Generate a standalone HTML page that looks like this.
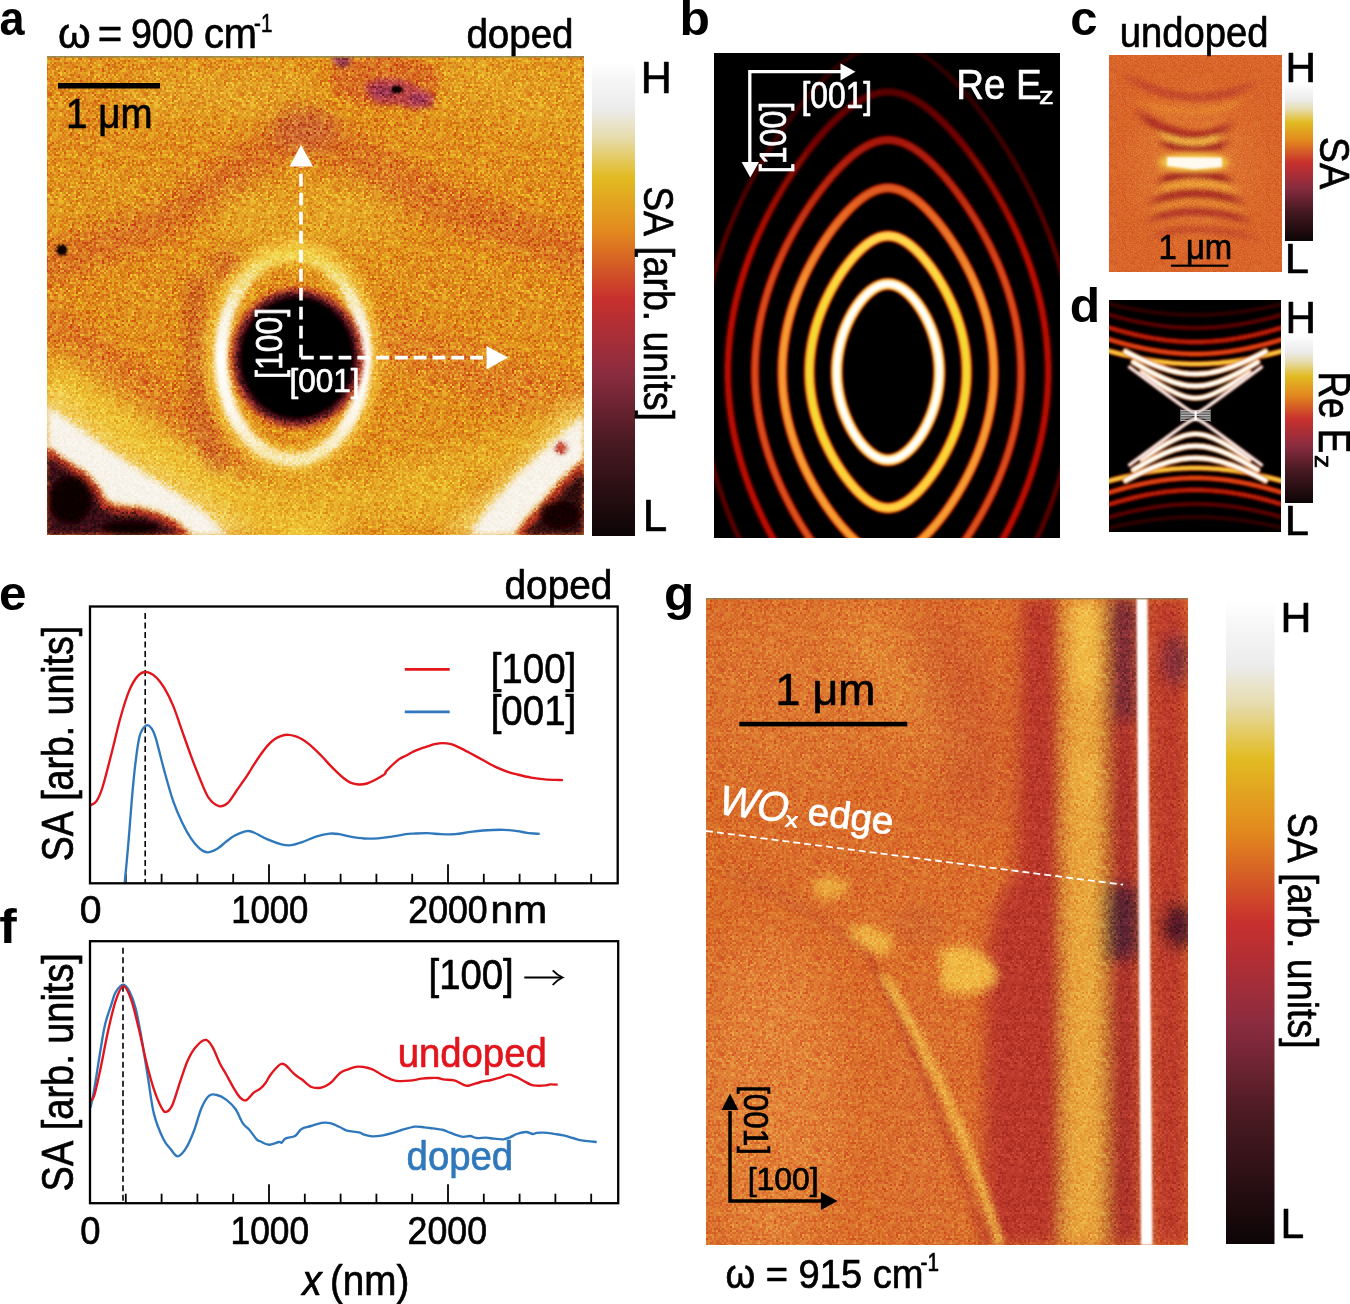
<!DOCTYPE html>
<html><head><meta charset="utf-8"><title>Figure</title>
<style>
html,body{margin:0;padding:0;background:#fff;}
body{width:1350px;height:1304px;overflow:hidden;}
svg{display:block;}
text{font-family:"Liberation Sans",sans-serif;font-kerning:none;}
</style></head><body>
<svg width="1350" height="1304" viewBox="0 0 1350 1304">
<defs>

<linearGradient id="cm" x1="0" y1="0" x2="0" y2="1"><stop offset="0.000" stop-color="#ffffff"/><stop offset="0.040" stop-color="#f6f6f6"/><stop offset="0.100" stop-color="#ececec"/><stop offset="0.160" stop-color="#e6dcae"/><stop offset="0.245" stop-color="#e2bb22"/><stop offset="0.360" stop-color="#e2881e"/><stop offset="0.500" stop-color="#c8302e"/><stop offset="0.660" stop-color="#8a2c40"/><stop offset="0.800" stop-color="#4a1a22"/><stop offset="1.000" stop-color="#0c0506"/></linearGradient>
<filter id="b1" x="-20%" y="-20%" width="140%" height="140%"><feGaussianBlur stdDeviation="1"/></filter>
<filter id="b2" x="-20%" y="-20%" width="140%" height="140%"><feGaussianBlur stdDeviation="2"/></filter>
<filter id="b3" x="-30%" y="-30%" width="160%" height="160%"><feGaussianBlur stdDeviation="3"/></filter>
<filter id="b5" x="-30%" y="-30%" width="160%" height="160%"><feGaussianBlur stdDeviation="5"/></filter>
<filter id="b8" x="-40%" y="-40%" width="180%" height="180%"><feGaussianBlur stdDeviation="8"/></filter>
<filter id="b12" x="-50%" y="-50%" width="200%" height="200%"><feGaussianBlur stdDeviation="12"/></filter>
<filter id="b20" x="-50%" y="-50%" width="200%" height="200%"><feGaussianBlur stdDeviation="20"/></filter>
<filter id="nz" x="0" y="0" width="100%" height="100%" color-interpolation-filters="sRGB">
<feTurbulence type="fractalNoise" baseFrequency="0.45" numOctaves="2" seed="11"/>
<feColorMatrix type="matrix" values="2.4 0 0 0 -0.7  2.4 0 0 0 -0.7  2.4 0 0 0 -0.7  0 0 0 0 1"/>
</filter>
<pattern id="np1" x="0" y="0" width="96.000" height="96.000" patternUnits="userSpaceOnUse"><path fill="#000000" d="M6 0h2v2h-2zM10 0h2v2h-2zM78 0h2v2h-2zM26 2h2v2h-2zM66 2h2v2h-2zM2 4h2v2h-2zM38 4h2v2h-2zM76 4h2v2h-2zM94 4h2v2h-2zM54 6h2v2h-2zM76 8h2v2h-2zM70 10h2v2h-2zM32 12h2v2h-2zM52 12h2v2h-2zM30 14h2v2h-2zM88 14h2v2h-2zM24 18h2v2h-2zM72 18h2v2h-2zM0 20h2v2h-2zM22 20h2v2h-2zM40 20h2v2h-2zM22 22h2v2h-2zM94 22h2v2h-2zM38 24h2v2h-2zM86 24h2v2h-2zM88 24h2v2h-2zM12 26h2v2h-2zM4 28h2v2h-2zM10 28h2v2h-2zM86 30h2v2h-2zM26 32h2v2h-2zM36 32h2v2h-2zM38 32h2v2h-2zM72 32h2v2h-2zM94 32h2v2h-2zM18 36h2v2h-2zM20 36h2v2h-2zM26 36h2v2h-2zM32 36h2v2h-2zM70 36h2v2h-2zM20 38h2v2h-2zM70 38h2v2h-2zM78 38h2v2h-2zM76 42h2v2h-2zM2 44h2v2h-2zM20 46h2v2h-2zM28 46h2v2h-2zM52 46h2v2h-2zM54 52h2v2h-2zM20 54h2v2h-2zM64 56h2v2h-2zM4 58h2v2h-2zM32 60h2v2h-2zM12 64h2v2h-2zM36 64h2v2h-2zM26 66h2v2h-2zM76 66h2v2h-2zM90 66h2v2h-2zM6 68h2v2h-2zM24 68h2v2h-2zM46 68h2v2h-2zM80 68h2v2h-2zM6 70h2v2h-2zM64 70h2v2h-2zM58 74h2v2h-2zM42 76h2v2h-2zM78 76h2v2h-2zM46 78h2v2h-2zM80 80h2v2h-2zM32 82h2v2h-2zM34 86h2v2h-2zM84 86h2v2h-2zM86 86h2v2h-2zM92 86h2v2h-2zM8 88h2v2h-2zM62 92h2v2h-2zM92 92h2v2h-2zM50 94h2v2h-2zM60 94h2v2h-2zM94 94h2v2h-2z"/><path fill="#202020" d="M68 0h2v2h-2zM56 2h2v2h-2zM76 2h2v2h-2zM78 2h2v2h-2zM16 4h2v2h-2zM64 4h2v2h-2zM6 6h2v2h-2zM10 6h2v2h-2zM22 6h2v2h-2zM40 6h2v2h-2zM46 6h2v2h-2zM82 6h2v2h-2zM12 8h2v2h-2zM86 8h2v2h-2zM20 10h2v2h-2zM22 10h2v2h-2zM26 12h2v2h-2zM50 12h2v2h-2zM10 14h2v2h-2zM28 14h2v2h-2zM60 14h2v2h-2zM92 14h2v2h-2zM22 16h2v2h-2zM64 18h2v2h-2zM70 18h2v2h-2zM14 20h2v2h-2zM86 22h2v2h-2zM88 22h2v2h-2zM92 22h2v2h-2zM2 24h2v2h-2zM52 24h2v2h-2zM70 26h2v2h-2zM80 26h2v2h-2zM0 28h2v2h-2zM14 28h2v2h-2zM16 28h2v2h-2zM36 28h2v2h-2zM54 28h2v2h-2zM62 28h2v2h-2zM66 28h2v2h-2zM90 28h2v2h-2zM20 30h2v2h-2zM22 30h2v2h-2zM38 30h2v2h-2zM78 30h2v2h-2zM92 30h2v2h-2zM94 30h2v2h-2zM30 32h2v2h-2zM54 32h2v2h-2zM82 32h2v2h-2zM4 34h2v2h-2zM40 34h2v2h-2zM88 34h2v2h-2zM12 36h2v2h-2zM36 38h2v2h-2zM48 38h2v2h-2zM92 38h2v2h-2zM8 40h2v2h-2zM90 40h2v2h-2zM12 42h2v2h-2zM70 46h2v2h-2zM78 46h2v2h-2zM92 46h2v2h-2zM94 46h2v2h-2zM30 48h2v2h-2zM50 48h2v2h-2zM64 48h2v2h-2zM78 48h2v2h-2zM90 48h2v2h-2zM44 50h2v2h-2zM48 50h2v2h-2zM82 50h2v2h-2zM84 50h2v2h-2zM86 50h2v2h-2zM48 52h2v2h-2zM58 52h2v2h-2zM62 52h2v2h-2zM86 52h2v2h-2zM4 56h2v2h-2zM6 56h2v2h-2zM88 56h2v2h-2zM54 58h2v2h-2zM56 58h2v2h-2zM58 58h2v2h-2zM80 58h2v2h-2zM90 58h2v2h-2zM28 60h2v2h-2zM18 62h2v2h-2zM22 62h2v2h-2zM54 62h2v2h-2zM64 62h2v2h-2zM66 62h2v2h-2zM10 64h2v2h-2zM52 64h2v2h-2zM18 66h2v2h-2zM32 66h2v2h-2zM54 66h2v2h-2zM74 66h2v2h-2zM36 68h2v2h-2zM42 68h2v2h-2zM58 70h2v2h-2zM12 72h2v2h-2zM90 72h2v2h-2zM92 72h2v2h-2zM30 74h2v2h-2zM70 74h2v2h-2zM10 76h2v2h-2zM50 76h2v2h-2zM58 78h2v2h-2zM64 78h2v2h-2zM86 78h2v2h-2zM32 80h2v2h-2zM34 80h2v2h-2zM24 82h2v2h-2zM26 84h2v2h-2zM32 84h2v2h-2zM52 84h2v2h-2zM78 86h2v2h-2zM82 86h2v2h-2zM64 88h2v2h-2zM68 88h2v2h-2zM14 90h2v2h-2zM48 92h2v2h-2zM50 92h2v2h-2zM78 92h2v2h-2zM6 94h2v2h-2zM48 94h2v2h-2zM80 94h2v2h-2z"/><path fill="#404040" d="M0 0h2v2h-2zM2 0h2v2h-2zM28 0h2v2h-2zM76 0h2v2h-2zM10 2h2v2h-2zM32 2h2v2h-2zM50 2h2v2h-2zM80 2h2v2h-2zM84 2h2v2h-2zM0 4h2v2h-2zM18 4h2v2h-2zM20 4h2v2h-2zM40 4h2v2h-2zM42 4h2v2h-2zM68 4h2v2h-2zM84 4h2v2h-2zM0 6h2v2h-2zM8 6h2v2h-2zM12 6h2v2h-2zM30 6h2v2h-2zM44 6h2v2h-2zM48 6h2v2h-2zM56 6h2v2h-2zM62 6h2v2h-2zM68 6h2v2h-2zM90 6h2v2h-2zM94 6h2v2h-2zM0 8h2v2h-2zM2 8h2v2h-2zM4 8h2v2h-2zM6 8h2v2h-2zM40 8h2v2h-2zM44 8h2v2h-2zM46 8h2v2h-2zM72 8h2v2h-2zM78 8h2v2h-2zM82 8h2v2h-2zM92 8h2v2h-2zM92 10h2v2h-2zM0 12h2v2h-2zM2 12h2v2h-2zM10 12h2v2h-2zM12 12h2v2h-2zM20 12h2v2h-2zM38 12h2v2h-2zM44 12h2v2h-2zM74 12h2v2h-2zM84 12h2v2h-2zM88 12h2v2h-2zM68 14h2v2h-2zM72 14h2v2h-2zM38 16h2v2h-2zM40 16h2v2h-2zM86 16h2v2h-2zM90 16h2v2h-2zM94 16h2v2h-2zM0 18h2v2h-2zM6 18h2v2h-2zM8 20h2v2h-2zM20 20h2v2h-2zM26 20h2v2h-2zM42 20h2v2h-2zM44 20h2v2h-2zM84 20h2v2h-2zM12 22h2v2h-2zM16 22h2v2h-2zM42 22h2v2h-2zM52 22h2v2h-2zM78 22h2v2h-2zM82 22h2v2h-2zM26 24h2v2h-2zM44 24h2v2h-2zM54 24h2v2h-2zM66 24h2v2h-2zM80 24h2v2h-2zM2 26h2v2h-2zM24 26h2v2h-2zM42 26h2v2h-2zM50 26h2v2h-2zM66 26h2v2h-2zM68 26h2v2h-2zM72 26h2v2h-2zM74 26h2v2h-2zM20 28h2v2h-2zM26 28h2v2h-2zM38 28h2v2h-2zM42 28h2v2h-2zM88 28h2v2h-2zM6 30h2v2h-2zM10 30h2v2h-2zM42 30h2v2h-2zM44 30h2v2h-2zM64 30h2v2h-2zM72 30h2v2h-2zM74 30h2v2h-2zM88 30h2v2h-2zM6 32h2v2h-2zM34 32h2v2h-2zM60 32h2v2h-2zM68 32h2v2h-2zM88 32h2v2h-2zM10 34h2v2h-2zM18 34h2v2h-2zM54 34h2v2h-2zM60 34h2v2h-2zM72 34h2v2h-2zM92 34h2v2h-2zM2 36h2v2h-2zM44 36h2v2h-2zM62 36h2v2h-2zM92 36h2v2h-2zM22 38h2v2h-2zM44 38h2v2h-2zM50 38h2v2h-2zM68 38h2v2h-2zM72 38h2v2h-2zM82 38h2v2h-2zM0 40h2v2h-2zM16 40h2v2h-2zM46 40h2v2h-2zM48 40h2v2h-2zM70 40h2v2h-2zM78 40h2v2h-2zM18 42h2v2h-2zM38 42h2v2h-2zM60 42h2v2h-2zM74 42h2v2h-2zM78 42h2v2h-2zM84 42h2v2h-2zM94 42h2v2h-2zM16 44h2v2h-2zM18 44h2v2h-2zM26 44h2v2h-2zM34 44h2v2h-2zM40 44h2v2h-2zM58 44h2v2h-2zM94 44h2v2h-2zM22 46h2v2h-2zM32 46h2v2h-2zM42 46h2v2h-2zM56 46h2v2h-2zM26 48h2v2h-2zM40 48h2v2h-2zM48 48h2v2h-2zM62 48h2v2h-2zM70 48h2v2h-2zM74 48h2v2h-2zM0 50h2v2h-2zM18 50h2v2h-2zM30 50h2v2h-2zM34 50h2v2h-2zM36 50h2v2h-2zM42 50h2v2h-2zM46 50h2v2h-2zM68 50h2v2h-2zM74 50h2v2h-2zM88 50h2v2h-2zM90 50h2v2h-2zM94 50h2v2h-2zM40 52h2v2h-2zM66 52h2v2h-2zM68 52h2v2h-2zM70 52h2v2h-2zM74 52h2v2h-2zM94 52h2v2h-2zM42 54h2v2h-2zM46 54h2v2h-2zM56 54h2v2h-2zM82 54h2v2h-2zM84 54h2v2h-2zM90 54h2v2h-2zM12 56h2v2h-2zM54 56h2v2h-2zM78 56h2v2h-2zM86 56h2v2h-2zM12 58h2v2h-2zM14 58h2v2h-2zM50 58h2v2h-2zM72 58h2v2h-2zM78 58h2v2h-2zM12 60h2v2h-2zM16 60h2v2h-2zM38 60h2v2h-2zM90 60h2v2h-2zM10 62h2v2h-2zM28 62h2v2h-2zM70 62h2v2h-2zM90 62h2v2h-2zM16 64h2v2h-2zM18 64h2v2h-2zM24 64h2v2h-2zM44 64h2v2h-2zM46 64h2v2h-2zM60 64h2v2h-2zM72 64h2v2h-2zM88 64h2v2h-2zM16 66h2v2h-2zM20 66h2v2h-2zM40 66h2v2h-2zM44 66h2v2h-2zM46 66h2v2h-2zM68 66h2v2h-2zM80 66h2v2h-2zM2 68h2v2h-2zM12 68h2v2h-2zM14 68h2v2h-2zM32 68h2v2h-2zM40 68h2v2h-2zM48 68h2v2h-2zM54 68h2v2h-2zM82 68h2v2h-2zM84 68h2v2h-2zM20 70h2v2h-2zM34 70h2v2h-2zM80 70h2v2h-2zM84 70h2v2h-2zM18 72h2v2h-2zM34 72h2v2h-2zM46 72h2v2h-2zM54 72h2v2h-2zM74 72h2v2h-2zM6 74h2v2h-2zM18 74h2v2h-2zM28 74h2v2h-2zM44 74h2v2h-2zM72 74h2v2h-2zM78 74h2v2h-2zM28 76h2v2h-2zM34 76h2v2h-2zM44 76h2v2h-2zM46 76h2v2h-2zM62 76h2v2h-2zM76 76h2v2h-2zM88 76h2v2h-2zM0 78h2v2h-2zM2 78h2v2h-2zM14 78h2v2h-2zM24 78h2v2h-2zM36 78h2v2h-2zM48 78h2v2h-2zM52 78h2v2h-2zM68 78h2v2h-2zM90 78h2v2h-2zM14 80h2v2h-2zM22 80h2v2h-2zM36 80h2v2h-2zM40 80h2v2h-2zM42 80h2v2h-2zM50 80h2v2h-2zM56 80h2v2h-2zM62 80h2v2h-2zM66 80h2v2h-2zM68 80h2v2h-2zM74 80h2v2h-2zM90 80h2v2h-2zM2 82h2v2h-2zM42 82h2v2h-2zM84 82h2v2h-2zM90 82h2v2h-2zM92 82h2v2h-2zM94 82h2v2h-2zM14 84h2v2h-2zM18 84h2v2h-2zM50 84h2v2h-2zM64 84h2v2h-2zM80 84h2v2h-2zM84 84h2v2h-2zM10 86h2v2h-2zM54 86h2v2h-2zM58 86h2v2h-2zM68 86h2v2h-2zM90 86h2v2h-2zM0 88h2v2h-2zM26 88h2v2h-2zM50 88h2v2h-2zM54 88h2v2h-2zM58 88h2v2h-2zM60 88h2v2h-2zM88 88h2v2h-2zM12 90h2v2h-2zM18 90h2v2h-2zM20 90h2v2h-2zM28 90h2v2h-2zM38 90h2v2h-2zM44 90h2v2h-2zM46 90h2v2h-2zM52 90h2v2h-2zM60 90h2v2h-2zM94 90h2v2h-2zM10 92h2v2h-2zM18 92h2v2h-2zM46 92h2v2h-2zM70 92h2v2h-2zM82 92h2v2h-2zM84 92h2v2h-2zM88 92h2v2h-2zM4 94h2v2h-2zM8 94h2v2h-2zM20 94h2v2h-2zM26 94h2v2h-2zM34 94h2v2h-2zM56 94h2v2h-2zM70 94h2v2h-2zM72 94h2v2h-2zM76 94h2v2h-2z"/><path fill="#606060" d="M18 0h2v2h-2zM22 0h2v2h-2zM24 0h2v2h-2zM30 0h2v2h-2zM36 0h2v2h-2zM42 0h2v2h-2zM46 0h2v2h-2zM48 0h2v2h-2zM50 0h2v2h-2zM64 0h2v2h-2zM70 0h2v2h-2zM82 0h2v2h-2zM84 0h2v2h-2zM92 0h2v2h-2zM4 2h2v2h-2zM12 2h2v2h-2zM18 2h2v2h-2zM52 2h2v2h-2zM58 2h2v2h-2zM12 4h2v2h-2zM34 4h2v2h-2zM36 4h2v2h-2zM52 4h2v2h-2zM72 4h2v2h-2zM82 4h2v2h-2zM24 6h2v2h-2zM28 6h2v2h-2zM66 6h2v2h-2zM78 6h2v2h-2zM80 6h2v2h-2zM86 6h2v2h-2zM92 6h2v2h-2zM24 8h2v2h-2zM68 8h2v2h-2zM70 8h2v2h-2zM88 8h2v2h-2zM94 8h2v2h-2zM2 10h2v2h-2zM4 10h2v2h-2zM6 10h2v2h-2zM16 10h2v2h-2zM18 10h2v2h-2zM24 10h2v2h-2zM38 10h2v2h-2zM40 10h2v2h-2zM42 10h2v2h-2zM48 10h2v2h-2zM64 10h2v2h-2zM76 10h2v2h-2zM82 10h2v2h-2zM94 10h2v2h-2zM6 12h2v2h-2zM16 12h2v2h-2zM48 12h2v2h-2zM56 12h2v2h-2zM62 12h2v2h-2zM64 12h2v2h-2zM72 12h2v2h-2zM76 12h2v2h-2zM82 12h2v2h-2zM2 14h2v2h-2zM18 14h2v2h-2zM22 14h2v2h-2zM26 14h2v2h-2zM34 14h2v2h-2zM36 14h2v2h-2zM44 14h2v2h-2zM62 14h2v2h-2zM66 14h2v2h-2zM74 14h2v2h-2zM78 14h2v2h-2zM94 14h2v2h-2zM8 16h2v2h-2zM18 16h2v2h-2zM20 16h2v2h-2zM32 16h2v2h-2zM34 16h2v2h-2zM54 16h2v2h-2zM66 16h2v2h-2zM68 16h2v2h-2zM70 16h2v2h-2zM76 16h2v2h-2zM78 16h2v2h-2zM80 16h2v2h-2zM2 18h2v2h-2zM18 18h2v2h-2zM28 18h2v2h-2zM30 18h2v2h-2zM32 18h2v2h-2zM40 18h2v2h-2zM46 18h2v2h-2zM68 18h2v2h-2zM80 18h2v2h-2zM86 18h2v2h-2zM4 20h2v2h-2zM24 20h2v2h-2zM54 20h2v2h-2zM64 20h2v2h-2zM2 22h2v2h-2zM6 22h2v2h-2zM20 22h2v2h-2zM24 22h2v2h-2zM30 22h2v2h-2zM62 22h2v2h-2zM68 22h2v2h-2zM72 22h2v2h-2zM8 24h2v2h-2zM40 24h2v2h-2zM42 24h2v2h-2zM58 24h2v2h-2zM60 24h2v2h-2zM64 24h2v2h-2zM70 24h2v2h-2zM78 24h2v2h-2zM90 24h2v2h-2zM92 24h2v2h-2zM94 24h2v2h-2zM16 26h2v2h-2zM26 26h2v2h-2zM30 26h2v2h-2zM32 26h2v2h-2zM44 26h2v2h-2zM62 26h2v2h-2zM92 26h2v2h-2zM12 28h2v2h-2zM18 28h2v2h-2zM24 28h2v2h-2zM46 28h2v2h-2zM50 28h2v2h-2zM58 28h2v2h-2zM60 28h2v2h-2zM74 28h2v2h-2zM84 28h2v2h-2zM94 28h2v2h-2zM0 30h2v2h-2zM4 30h2v2h-2zM14 30h2v2h-2zM16 30h2v2h-2zM30 30h2v2h-2zM50 30h2v2h-2zM52 30h2v2h-2zM66 30h2v2h-2zM76 30h2v2h-2zM48 32h2v2h-2zM52 32h2v2h-2zM62 32h2v2h-2zM0 34h2v2h-2zM64 34h2v2h-2zM82 34h2v2h-2zM84 34h2v2h-2zM40 36h2v2h-2zM50 36h2v2h-2zM72 36h2v2h-2zM74 36h2v2h-2zM12 38h2v2h-2zM14 38h2v2h-2zM16 38h2v2h-2zM34 38h2v2h-2zM64 38h2v2h-2zM76 38h2v2h-2zM6 40h2v2h-2zM10 40h2v2h-2zM28 40h2v2h-2zM36 40h2v2h-2zM42 40h2v2h-2zM58 40h2v2h-2zM62 40h2v2h-2zM84 40h2v2h-2zM86 40h2v2h-2zM92 40h2v2h-2zM94 40h2v2h-2zM26 42h2v2h-2zM30 42h2v2h-2zM42 42h2v2h-2zM64 42h2v2h-2zM66 42h2v2h-2zM72 42h2v2h-2zM90 42h2v2h-2zM92 42h2v2h-2zM14 44h2v2h-2zM46 44h2v2h-2zM48 44h2v2h-2zM62 44h2v2h-2zM70 44h2v2h-2zM74 44h2v2h-2zM84 44h2v2h-2zM86 44h2v2h-2zM0 46h2v2h-2zM6 46h2v2h-2zM8 46h2v2h-2zM16 46h2v2h-2zM24 46h2v2h-2zM38 46h2v2h-2zM50 46h2v2h-2zM58 46h2v2h-2zM60 46h2v2h-2zM76 46h2v2h-2zM20 48h2v2h-2zM24 48h2v2h-2zM38 48h2v2h-2zM58 48h2v2h-2zM68 48h2v2h-2zM76 48h2v2h-2zM82 48h2v2h-2zM10 50h2v2h-2zM16 50h2v2h-2zM20 50h2v2h-2zM22 50h2v2h-2zM28 50h2v2h-2zM58 50h2v2h-2zM66 50h2v2h-2zM24 52h2v2h-2zM28 52h2v2h-2zM34 52h2v2h-2zM36 52h2v2h-2zM38 52h2v2h-2zM52 52h2v2h-2zM56 52h2v2h-2zM76 52h2v2h-2zM80 52h2v2h-2zM84 52h2v2h-2zM4 54h2v2h-2zM22 54h2v2h-2zM26 54h2v2h-2zM50 54h2v2h-2zM52 54h2v2h-2zM62 54h2v2h-2zM64 54h2v2h-2zM76 54h2v2h-2zM94 54h2v2h-2zM0 56h2v2h-2zM16 56h2v2h-2zM38 56h2v2h-2zM48 56h2v2h-2zM52 56h2v2h-2zM60 56h2v2h-2zM80 56h2v2h-2zM92 56h2v2h-2zM94 56h2v2h-2zM0 58h2v2h-2zM8 58h2v2h-2zM22 58h2v2h-2zM36 58h2v2h-2zM48 58h2v2h-2zM64 58h2v2h-2zM92 58h2v2h-2zM6 60h2v2h-2zM24 60h2v2h-2zM26 60h2v2h-2zM40 60h2v2h-2zM76 60h2v2h-2zM94 60h2v2h-2zM26 62h2v2h-2zM50 62h2v2h-2zM56 62h2v2h-2zM58 62h2v2h-2zM60 62h2v2h-2zM76 62h2v2h-2zM78 62h2v2h-2zM88 62h2v2h-2zM92 62h2v2h-2zM8 64h2v2h-2zM32 64h2v2h-2zM38 64h2v2h-2zM40 64h2v2h-2zM48 64h2v2h-2zM56 64h2v2h-2zM58 64h2v2h-2zM6 66h2v2h-2zM12 66h2v2h-2zM36 66h2v2h-2zM50 66h2v2h-2zM52 66h2v2h-2zM66 66h2v2h-2zM72 66h2v2h-2zM88 66h2v2h-2zM0 68h2v2h-2zM18 68h2v2h-2zM22 68h2v2h-2zM30 68h2v2h-2zM38 68h2v2h-2zM44 68h2v2h-2zM52 68h2v2h-2zM60 68h2v2h-2zM70 68h2v2h-2zM72 68h2v2h-2zM8 70h2v2h-2zM12 70h2v2h-2zM16 70h2v2h-2zM38 70h2v2h-2zM46 70h2v2h-2zM70 70h2v2h-2zM90 70h2v2h-2zM92 70h2v2h-2zM16 72h2v2h-2zM20 72h2v2h-2zM32 72h2v2h-2zM40 72h2v2h-2zM56 72h2v2h-2zM66 72h2v2h-2zM10 74h2v2h-2zM22 74h2v2h-2zM36 74h2v2h-2zM54 74h2v2h-2zM74 74h2v2h-2zM90 74h2v2h-2zM92 74h2v2h-2zM0 76h2v2h-2zM4 76h2v2h-2zM20 76h2v2h-2zM24 76h2v2h-2zM32 76h2v2h-2zM38 76h2v2h-2zM60 76h2v2h-2zM72 76h2v2h-2zM82 76h2v2h-2zM90 76h2v2h-2zM92 76h2v2h-2zM8 78h2v2h-2zM28 78h2v2h-2zM30 78h2v2h-2zM38 78h2v2h-2zM66 78h2v2h-2zM70 78h2v2h-2zM72 78h2v2h-2zM80 78h2v2h-2zM4 80h2v2h-2zM6 80h2v2h-2zM24 80h2v2h-2zM26 80h2v2h-2zM38 80h2v2h-2zM44 80h2v2h-2zM48 80h2v2h-2zM60 80h2v2h-2zM72 80h2v2h-2zM82 80h2v2h-2zM86 80h2v2h-2zM94 80h2v2h-2zM0 82h2v2h-2zM8 82h2v2h-2zM14 82h2v2h-2zM18 82h2v2h-2zM28 82h2v2h-2zM50 82h2v2h-2zM58 82h2v2h-2zM80 82h2v2h-2zM82 82h2v2h-2zM86 82h2v2h-2zM2 84h2v2h-2zM20 84h2v2h-2zM28 84h2v2h-2zM36 84h2v2h-2zM66 84h2v2h-2zM70 84h2v2h-2zM74 84h2v2h-2zM76 84h2v2h-2zM4 86h2v2h-2zM8 86h2v2h-2zM20 86h2v2h-2zM24 86h2v2h-2zM30 86h2v2h-2zM38 86h2v2h-2zM42 86h2v2h-2zM46 86h2v2h-2zM48 86h2v2h-2zM80 86h2v2h-2zM2 88h2v2h-2zM4 88h2v2h-2zM44 88h2v2h-2zM46 88h2v2h-2zM72 88h2v2h-2zM74 88h2v2h-2zM82 88h2v2h-2zM94 88h2v2h-2zM4 90h2v2h-2zM8 90h2v2h-2zM24 90h2v2h-2zM30 90h2v2h-2zM40 90h2v2h-2zM48 90h2v2h-2zM58 90h2v2h-2zM62 90h2v2h-2zM64 90h2v2h-2zM66 90h2v2h-2zM80 90h2v2h-2zM8 92h2v2h-2zM26 92h2v2h-2zM34 92h2v2h-2zM52 92h2v2h-2zM60 92h2v2h-2zM68 92h2v2h-2zM72 92h2v2h-2zM2 94h2v2h-2zM16 94h2v2h-2zM18 94h2v2h-2zM30 94h2v2h-2zM40 94h2v2h-2zM42 94h2v2h-2zM46 94h2v2h-2zM52 94h2v2h-2zM62 94h2v2h-2zM66 94h2v2h-2zM68 94h2v2h-2z"/><path fill="#808080" d="M8 0h2v2h-2zM14 0h2v2h-2zM26 0h2v2h-2zM34 0h2v2h-2zM40 0h2v2h-2zM44 0h2v2h-2zM54 0h2v2h-2zM56 0h2v2h-2zM62 0h2v2h-2zM88 0h2v2h-2zM2 2h2v2h-2zM16 2h2v2h-2zM20 2h2v2h-2zM22 2h2v2h-2zM24 2h2v2h-2zM30 2h2v2h-2zM38 2h2v2h-2zM86 2h2v2h-2zM88 2h2v2h-2zM4 4h2v2h-2zM10 4h2v2h-2zM30 4h2v2h-2zM58 4h2v2h-2zM62 4h2v2h-2zM66 4h2v2h-2zM70 4h2v2h-2zM86 4h2v2h-2zM4 6h2v2h-2zM16 6h2v2h-2zM20 6h2v2h-2zM34 6h2v2h-2zM36 6h2v2h-2zM52 6h2v2h-2zM70 6h2v2h-2zM84 6h2v2h-2zM88 6h2v2h-2zM10 8h2v2h-2zM20 8h2v2h-2zM22 8h2v2h-2zM26 8h2v2h-2zM30 8h2v2h-2zM32 8h2v2h-2zM36 8h2v2h-2zM38 8h2v2h-2zM42 8h2v2h-2zM48 8h2v2h-2zM54 8h2v2h-2zM56 8h2v2h-2zM64 8h2v2h-2zM66 8h2v2h-2zM74 8h2v2h-2zM8 10h2v2h-2zM10 10h2v2h-2zM28 10h2v2h-2zM34 10h2v2h-2zM46 10h2v2h-2zM54 10h2v2h-2zM56 10h2v2h-2zM74 10h2v2h-2zM80 10h2v2h-2zM84 10h2v2h-2zM90 10h2v2h-2zM4 12h2v2h-2zM8 12h2v2h-2zM14 12h2v2h-2zM22 12h2v2h-2zM24 12h2v2h-2zM30 12h2v2h-2zM42 12h2v2h-2zM54 12h2v2h-2zM86 12h2v2h-2zM90 12h2v2h-2zM0 14h2v2h-2zM4 14h2v2h-2zM14 14h2v2h-2zM20 14h2v2h-2zM32 14h2v2h-2zM48 14h2v2h-2zM50 14h2v2h-2zM58 14h2v2h-2zM90 14h2v2h-2zM0 16h2v2h-2zM4 16h2v2h-2zM10 16h2v2h-2zM12 16h2v2h-2zM16 16h2v2h-2zM50 16h2v2h-2zM56 16h2v2h-2zM62 16h2v2h-2zM64 16h2v2h-2zM72 16h2v2h-2zM4 18h2v2h-2zM8 18h2v2h-2zM10 18h2v2h-2zM12 18h2v2h-2zM20 18h2v2h-2zM22 18h2v2h-2zM34 18h2v2h-2zM48 18h2v2h-2zM56 18h2v2h-2zM84 18h2v2h-2zM88 18h2v2h-2zM90 18h2v2h-2zM92 18h2v2h-2zM10 20h2v2h-2zM12 20h2v2h-2zM28 20h2v2h-2zM30 20h2v2h-2zM36 20h2v2h-2zM38 20h2v2h-2zM46 20h2v2h-2zM50 20h2v2h-2zM58 20h2v2h-2zM60 20h2v2h-2zM66 20h2v2h-2zM68 20h2v2h-2zM72 20h2v2h-2zM10 22h2v2h-2zM14 22h2v2h-2zM48 22h2v2h-2zM56 22h2v2h-2zM60 22h2v2h-2zM64 22h2v2h-2zM76 22h2v2h-2zM84 22h2v2h-2zM0 24h2v2h-2zM4 24h2v2h-2zM14 24h2v2h-2zM16 24h2v2h-2zM20 24h2v2h-2zM24 24h2v2h-2zM30 24h2v2h-2zM48 24h2v2h-2zM50 24h2v2h-2zM56 24h2v2h-2zM62 24h2v2h-2zM84 24h2v2h-2zM14 26h2v2h-2zM20 26h2v2h-2zM28 26h2v2h-2zM38 26h2v2h-2zM54 26h2v2h-2zM64 26h2v2h-2zM76 26h2v2h-2zM78 26h2v2h-2zM82 26h2v2h-2zM88 26h2v2h-2zM90 26h2v2h-2zM2 28h2v2h-2zM28 28h2v2h-2zM40 28h2v2h-2zM48 28h2v2h-2zM52 28h2v2h-2zM64 28h2v2h-2zM78 28h2v2h-2zM80 28h2v2h-2zM82 28h2v2h-2zM8 30h2v2h-2zM28 30h2v2h-2zM40 30h2v2h-2zM58 30h2v2h-2zM62 30h2v2h-2zM0 32h2v2h-2zM12 32h2v2h-2zM24 32h2v2h-2zM74 32h2v2h-2zM78 32h2v2h-2zM80 32h2v2h-2zM84 32h2v2h-2zM90 32h2v2h-2zM92 32h2v2h-2zM6 34h2v2h-2zM12 34h2v2h-2zM24 34h2v2h-2zM38 34h2v2h-2zM48 34h2v2h-2zM50 34h2v2h-2zM52 34h2v2h-2zM58 34h2v2h-2zM62 34h2v2h-2zM66 34h2v2h-2zM86 34h2v2h-2zM4 36h2v2h-2zM6 36h2v2h-2zM10 36h2v2h-2zM24 36h2v2h-2zM38 36h2v2h-2zM46 36h2v2h-2zM48 36h2v2h-2zM64 36h2v2h-2zM66 36h2v2h-2zM76 36h2v2h-2zM80 36h2v2h-2zM82 36h2v2h-2zM88 36h2v2h-2zM6 38h2v2h-2zM10 38h2v2h-2zM24 38h2v2h-2zM28 38h2v2h-2zM32 38h2v2h-2zM38 38h2v2h-2zM42 38h2v2h-2zM58 38h2v2h-2zM60 38h2v2h-2zM62 38h2v2h-2zM84 38h2v2h-2zM90 38h2v2h-2zM2 40h2v2h-2zM18 40h2v2h-2zM26 40h2v2h-2zM34 40h2v2h-2zM40 40h2v2h-2zM52 40h2v2h-2zM64 40h2v2h-2zM66 40h2v2h-2zM68 40h2v2h-2zM74 40h2v2h-2zM80 40h2v2h-2zM82 40h2v2h-2zM88 40h2v2h-2zM2 42h2v2h-2zM10 42h2v2h-2zM28 42h2v2h-2zM32 42h2v2h-2zM34 42h2v2h-2zM36 42h2v2h-2zM48 42h2v2h-2zM52 42h2v2h-2zM56 42h2v2h-2zM86 42h2v2h-2zM4 44h2v2h-2zM8 44h2v2h-2zM22 44h2v2h-2zM24 44h2v2h-2zM44 44h2v2h-2zM54 44h2v2h-2zM56 44h2v2h-2zM60 44h2v2h-2zM64 44h2v2h-2zM80 44h2v2h-2zM82 44h2v2h-2zM2 46h2v2h-2zM4 46h2v2h-2zM10 46h2v2h-2zM14 46h2v2h-2zM30 46h2v2h-2zM44 46h2v2h-2zM46 46h2v2h-2zM64 46h2v2h-2zM68 46h2v2h-2zM8 48h2v2h-2zM32 48h2v2h-2zM46 48h2v2h-2zM52 48h2v2h-2zM54 48h2v2h-2zM72 48h2v2h-2zM80 48h2v2h-2zM84 48h2v2h-2zM86 48h2v2h-2zM92 48h2v2h-2zM94 48h2v2h-2zM2 50h2v2h-2zM12 50h2v2h-2zM24 50h2v2h-2zM26 50h2v2h-2zM32 50h2v2h-2zM40 50h2v2h-2zM60 50h2v2h-2zM62 50h2v2h-2zM64 50h2v2h-2zM76 50h2v2h-2zM78 50h2v2h-2zM6 52h2v2h-2zM22 52h2v2h-2zM44 52h2v2h-2zM46 52h2v2h-2zM78 52h2v2h-2zM8 54h2v2h-2zM10 54h2v2h-2zM16 54h2v2h-2zM18 54h2v2h-2zM30 54h2v2h-2zM32 54h2v2h-2zM34 54h2v2h-2zM40 54h2v2h-2zM54 54h2v2h-2zM78 54h2v2h-2zM80 54h2v2h-2zM88 54h2v2h-2zM92 54h2v2h-2zM2 56h2v2h-2zM8 56h2v2h-2zM10 56h2v2h-2zM14 56h2v2h-2zM18 56h2v2h-2zM20 56h2v2h-2zM28 56h2v2h-2zM46 56h2v2h-2zM70 56h2v2h-2zM72 56h2v2h-2zM2 58h2v2h-2zM20 58h2v2h-2zM30 58h2v2h-2zM42 58h2v2h-2zM86 58h2v2h-2zM88 58h2v2h-2zM94 58h2v2h-2zM8 60h2v2h-2zM18 60h2v2h-2zM30 60h2v2h-2zM34 60h2v2h-2zM36 60h2v2h-2zM52 60h2v2h-2zM58 60h2v2h-2zM62 60h2v2h-2zM64 60h2v2h-2zM70 60h2v2h-2zM82 60h2v2h-2zM86 60h2v2h-2zM92 60h2v2h-2zM6 62h2v2h-2zM8 62h2v2h-2zM14 62h2v2h-2zM20 62h2v2h-2zM32 62h2v2h-2zM36 62h2v2h-2zM44 62h2v2h-2zM68 62h2v2h-2zM72 62h2v2h-2zM74 62h2v2h-2zM82 62h2v2h-2zM84 62h2v2h-2zM14 64h2v2h-2zM54 64h2v2h-2zM64 64h2v2h-2zM68 64h2v2h-2zM70 64h2v2h-2zM74 64h2v2h-2zM78 64h2v2h-2zM86 64h2v2h-2zM92 64h2v2h-2zM94 64h2v2h-2zM0 66h2v2h-2zM8 66h2v2h-2zM14 66h2v2h-2zM22 66h2v2h-2zM28 66h2v2h-2zM30 66h2v2h-2zM34 66h2v2h-2zM56 66h2v2h-2zM60 66h2v2h-2zM62 66h2v2h-2zM64 66h2v2h-2zM70 66h2v2h-2zM86 66h2v2h-2zM20 68h2v2h-2zM50 68h2v2h-2zM66 68h2v2h-2zM76 68h2v2h-2zM86 68h2v2h-2zM88 68h2v2h-2zM94 68h2v2h-2zM18 70h2v2h-2zM22 70h2v2h-2zM32 70h2v2h-2zM42 70h2v2h-2zM50 70h2v2h-2zM54 70h2v2h-2zM56 70h2v2h-2zM62 70h2v2h-2zM74 70h2v2h-2zM76 70h2v2h-2zM86 70h2v2h-2zM0 72h2v2h-2zM10 72h2v2h-2zM14 72h2v2h-2zM26 72h2v2h-2zM28 72h2v2h-2zM30 72h2v2h-2zM36 72h2v2h-2zM42 72h2v2h-2zM50 72h2v2h-2zM76 72h2v2h-2zM94 72h2v2h-2zM14 74h2v2h-2zM32 74h2v2h-2zM34 74h2v2h-2zM46 74h2v2h-2zM48 74h2v2h-2zM56 74h2v2h-2zM68 74h2v2h-2zM76 74h2v2h-2zM80 74h2v2h-2zM84 74h2v2h-2zM86 74h2v2h-2zM6 76h2v2h-2zM16 76h2v2h-2zM30 76h2v2h-2zM56 76h2v2h-2zM58 76h2v2h-2zM64 76h2v2h-2zM66 76h2v2h-2zM70 76h2v2h-2zM80 76h2v2h-2zM86 76h2v2h-2zM12 78h2v2h-2zM16 78h2v2h-2zM22 78h2v2h-2zM26 78h2v2h-2zM34 78h2v2h-2zM42 78h2v2h-2zM50 78h2v2h-2zM54 78h2v2h-2zM56 78h2v2h-2zM74 78h2v2h-2zM88 78h2v2h-2zM10 80h2v2h-2zM18 80h2v2h-2zM20 80h2v2h-2zM28 80h2v2h-2zM54 80h2v2h-2zM76 80h2v2h-2zM78 80h2v2h-2zM6 82h2v2h-2zM12 82h2v2h-2zM26 82h2v2h-2zM44 82h2v2h-2zM52 82h2v2h-2zM64 82h2v2h-2zM66 82h2v2h-2zM70 82h2v2h-2zM72 82h2v2h-2zM0 84h2v2h-2zM8 84h2v2h-2zM10 84h2v2h-2zM24 84h2v2h-2zM30 84h2v2h-2zM38 84h2v2h-2zM42 84h2v2h-2zM48 84h2v2h-2zM54 84h2v2h-2zM56 84h2v2h-2zM60 84h2v2h-2zM90 84h2v2h-2zM12 86h2v2h-2zM22 86h2v2h-2zM26 86h2v2h-2zM28 86h2v2h-2zM50 86h2v2h-2zM52 86h2v2h-2zM60 86h2v2h-2zM62 86h2v2h-2zM64 86h2v2h-2zM74 86h2v2h-2zM94 86h2v2h-2zM10 88h2v2h-2zM14 88h2v2h-2zM18 88h2v2h-2zM28 88h2v2h-2zM32 88h2v2h-2zM40 88h2v2h-2zM56 88h2v2h-2zM80 88h2v2h-2zM84 88h2v2h-2zM0 90h2v2h-2zM6 90h2v2h-2zM10 90h2v2h-2zM26 90h2v2h-2zM68 90h2v2h-2zM76 90h2v2h-2zM82 90h2v2h-2zM90 90h2v2h-2zM92 90h2v2h-2zM6 92h2v2h-2zM14 92h2v2h-2zM24 92h2v2h-2zM42 92h2v2h-2zM44 92h2v2h-2zM54 92h2v2h-2zM74 92h2v2h-2zM76 92h2v2h-2zM80 92h2v2h-2zM86 92h2v2h-2zM90 92h2v2h-2zM0 94h2v2h-2zM14 94h2v2h-2zM58 94h2v2h-2zM64 94h2v2h-2zM84 94h2v2h-2zM88 94h2v2h-2z"/><path fill="#9f9f9f" d="M4 0h2v2h-2zM20 0h2v2h-2zM32 0h2v2h-2zM58 0h2v2h-2zM72 0h2v2h-2zM80 0h2v2h-2zM86 0h2v2h-2zM90 0h2v2h-2zM6 2h2v2h-2zM8 2h2v2h-2zM36 2h2v2h-2zM44 2h2v2h-2zM54 2h2v2h-2zM64 2h2v2h-2zM70 2h2v2h-2zM72 2h2v2h-2zM74 2h2v2h-2zM90 2h2v2h-2zM92 2h2v2h-2zM94 2h2v2h-2zM6 4h2v2h-2zM14 4h2v2h-2zM22 4h2v2h-2zM26 4h2v2h-2zM32 4h2v2h-2zM46 4h2v2h-2zM74 4h2v2h-2zM88 4h2v2h-2zM90 4h2v2h-2zM92 4h2v2h-2zM42 6h2v2h-2zM8 8h2v2h-2zM14 8h2v2h-2zM16 8h2v2h-2zM28 8h2v2h-2zM34 8h2v2h-2zM80 8h2v2h-2zM84 8h2v2h-2zM90 8h2v2h-2zM26 10h2v2h-2zM50 10h2v2h-2zM66 10h2v2h-2zM68 10h2v2h-2zM86 10h2v2h-2zM28 12h2v2h-2zM34 12h2v2h-2zM46 12h2v2h-2zM58 12h2v2h-2zM60 12h2v2h-2zM70 12h2v2h-2zM80 12h2v2h-2zM92 12h2v2h-2zM8 14h2v2h-2zM24 14h2v2h-2zM46 14h2v2h-2zM52 14h2v2h-2zM54 14h2v2h-2zM56 14h2v2h-2zM64 14h2v2h-2zM70 14h2v2h-2zM82 14h2v2h-2zM26 16h2v2h-2zM28 16h2v2h-2zM30 16h2v2h-2zM46 16h2v2h-2zM48 16h2v2h-2zM58 16h2v2h-2zM82 16h2v2h-2zM84 16h2v2h-2zM88 16h2v2h-2zM92 16h2v2h-2zM14 18h2v2h-2zM26 18h2v2h-2zM36 18h2v2h-2zM38 18h2v2h-2zM42 18h2v2h-2zM44 18h2v2h-2zM52 18h2v2h-2zM54 18h2v2h-2zM62 18h2v2h-2zM74 18h2v2h-2zM94 18h2v2h-2zM6 20h2v2h-2zM16 20h2v2h-2zM18 20h2v2h-2zM34 20h2v2h-2zM48 20h2v2h-2zM56 20h2v2h-2zM62 20h2v2h-2zM74 20h2v2h-2zM78 20h2v2h-2zM80 20h2v2h-2zM86 20h2v2h-2zM88 20h2v2h-2zM90 20h2v2h-2zM4 22h2v2h-2zM28 22h2v2h-2zM32 22h2v2h-2zM34 22h2v2h-2zM40 22h2v2h-2zM44 22h2v2h-2zM46 22h2v2h-2zM50 22h2v2h-2zM54 22h2v2h-2zM58 22h2v2h-2zM66 22h2v2h-2zM70 22h2v2h-2zM74 22h2v2h-2zM90 22h2v2h-2zM10 24h2v2h-2zM12 24h2v2h-2zM22 24h2v2h-2zM28 24h2v2h-2zM32 24h2v2h-2zM34 24h2v2h-2zM46 24h2v2h-2zM72 24h2v2h-2zM74 24h2v2h-2zM82 24h2v2h-2zM0 26h2v2h-2zM10 26h2v2h-2zM18 26h2v2h-2zM22 26h2v2h-2zM34 26h2v2h-2zM46 26h2v2h-2zM48 26h2v2h-2zM52 26h2v2h-2zM60 26h2v2h-2zM84 26h2v2h-2zM30 28h2v2h-2zM34 28h2v2h-2zM44 28h2v2h-2zM68 28h2v2h-2zM72 28h2v2h-2zM86 28h2v2h-2zM2 30h2v2h-2zM12 30h2v2h-2zM18 30h2v2h-2zM24 30h2v2h-2zM34 30h2v2h-2zM46 30h2v2h-2zM48 30h2v2h-2zM56 30h2v2h-2zM60 30h2v2h-2zM68 30h2v2h-2zM70 30h2v2h-2zM82 30h2v2h-2zM4 32h2v2h-2zM8 32h2v2h-2zM10 32h2v2h-2zM14 32h2v2h-2zM28 32h2v2h-2zM40 32h2v2h-2zM42 32h2v2h-2zM44 32h2v2h-2zM46 32h2v2h-2zM58 32h2v2h-2zM76 32h2v2h-2zM86 32h2v2h-2zM2 34h2v2h-2zM8 34h2v2h-2zM16 34h2v2h-2zM22 34h2v2h-2zM28 34h2v2h-2zM30 34h2v2h-2zM34 34h2v2h-2zM46 34h2v2h-2zM56 34h2v2h-2zM68 34h2v2h-2zM74 34h2v2h-2zM76 34h2v2h-2zM78 34h2v2h-2zM94 34h2v2h-2zM36 36h2v2h-2zM42 36h2v2h-2zM52 36h2v2h-2zM58 36h2v2h-2zM84 36h2v2h-2zM0 38h2v2h-2zM8 38h2v2h-2zM46 38h2v2h-2zM54 38h2v2h-2zM86 38h2v2h-2zM88 38h2v2h-2zM94 38h2v2h-2zM4 40h2v2h-2zM12 40h2v2h-2zM14 40h2v2h-2zM20 40h2v2h-2zM24 40h2v2h-2zM30 40h2v2h-2zM32 40h2v2h-2zM44 40h2v2h-2zM56 40h2v2h-2zM60 40h2v2h-2zM72 40h2v2h-2zM76 40h2v2h-2zM0 42h2v2h-2zM6 42h2v2h-2zM8 42h2v2h-2zM14 42h2v2h-2zM22 42h2v2h-2zM24 42h2v2h-2zM44 42h2v2h-2zM46 42h2v2h-2zM54 42h2v2h-2zM58 42h2v2h-2zM62 42h2v2h-2zM68 42h2v2h-2zM80 42h2v2h-2zM82 42h2v2h-2zM0 44h2v2h-2zM6 44h2v2h-2zM12 44h2v2h-2zM20 44h2v2h-2zM32 44h2v2h-2zM50 44h2v2h-2zM52 44h2v2h-2zM66 44h2v2h-2zM78 44h2v2h-2zM90 44h2v2h-2zM18 46h2v2h-2zM26 46h2v2h-2zM36 46h2v2h-2zM40 46h2v2h-2zM54 46h2v2h-2zM72 46h2v2h-2zM74 46h2v2h-2zM84 46h2v2h-2zM86 46h2v2h-2zM90 46h2v2h-2zM14 48h2v2h-2zM36 48h2v2h-2zM42 48h2v2h-2zM44 48h2v2h-2zM88 48h2v2h-2zM4 50h2v2h-2zM6 50h2v2h-2zM38 50h2v2h-2zM50 50h2v2h-2zM52 50h2v2h-2zM54 50h2v2h-2zM56 50h2v2h-2zM70 50h2v2h-2zM72 50h2v2h-2zM80 50h2v2h-2zM2 52h2v2h-2zM4 52h2v2h-2zM10 52h2v2h-2zM12 52h2v2h-2zM14 52h2v2h-2zM16 52h2v2h-2zM18 52h2v2h-2zM30 52h2v2h-2zM42 52h2v2h-2zM50 52h2v2h-2zM64 52h2v2h-2zM82 52h2v2h-2zM88 52h2v2h-2zM92 52h2v2h-2zM2 54h2v2h-2zM6 54h2v2h-2zM12 54h2v2h-2zM24 54h2v2h-2zM28 54h2v2h-2zM38 54h2v2h-2zM44 54h2v2h-2zM58 54h2v2h-2zM60 54h2v2h-2zM70 54h2v2h-2zM72 54h2v2h-2zM26 56h2v2h-2zM32 56h2v2h-2zM34 56h2v2h-2zM36 56h2v2h-2zM40 56h2v2h-2zM42 56h2v2h-2zM44 56h2v2h-2zM50 56h2v2h-2zM66 56h2v2h-2zM68 56h2v2h-2zM74 56h2v2h-2zM76 56h2v2h-2zM84 56h2v2h-2zM90 56h2v2h-2zM6 58h2v2h-2zM16 58h2v2h-2zM28 58h2v2h-2zM34 58h2v2h-2zM44 58h2v2h-2zM46 58h2v2h-2zM60 58h2v2h-2zM84 58h2v2h-2zM0 60h2v2h-2zM14 60h2v2h-2zM22 60h2v2h-2zM50 60h2v2h-2zM56 60h2v2h-2zM68 60h2v2h-2zM78 60h2v2h-2zM80 60h2v2h-2zM0 62h2v2h-2zM2 62h2v2h-2zM4 62h2v2h-2zM34 62h2v2h-2zM40 62h2v2h-2zM42 62h2v2h-2zM62 62h2v2h-2zM86 62h2v2h-2zM0 64h2v2h-2zM20 64h2v2h-2zM22 64h2v2h-2zM26 64h2v2h-2zM50 64h2v2h-2zM62 64h2v2h-2zM66 64h2v2h-2zM76 64h2v2h-2zM80 64h2v2h-2zM84 64h2v2h-2zM24 66h2v2h-2zM78 66h2v2h-2zM82 66h2v2h-2zM4 68h2v2h-2zM8 68h2v2h-2zM58 68h2v2h-2zM64 68h2v2h-2zM68 68h2v2h-2zM92 68h2v2h-2zM0 70h2v2h-2zM2 70h2v2h-2zM4 70h2v2h-2zM10 70h2v2h-2zM30 70h2v2h-2zM36 70h2v2h-2zM40 70h2v2h-2zM48 70h2v2h-2zM66 70h2v2h-2zM68 70h2v2h-2zM78 70h2v2h-2zM82 70h2v2h-2zM4 72h2v2h-2zM6 72h2v2h-2zM22 72h2v2h-2zM24 72h2v2h-2zM44 72h2v2h-2zM48 72h2v2h-2zM62 72h2v2h-2zM70 72h2v2h-2zM72 72h2v2h-2zM78 72h2v2h-2zM82 72h2v2h-2zM84 72h2v2h-2zM4 74h2v2h-2zM8 74h2v2h-2zM24 74h2v2h-2zM26 74h2v2h-2zM38 74h2v2h-2zM40 74h2v2h-2zM42 74h2v2h-2zM62 74h2v2h-2zM64 74h2v2h-2zM66 74h2v2h-2zM82 74h2v2h-2zM14 76h2v2h-2zM22 76h2v2h-2zM40 76h2v2h-2zM48 76h2v2h-2zM52 76h2v2h-2zM84 76h2v2h-2zM32 78h2v2h-2zM82 78h2v2h-2zM84 78h2v2h-2zM0 80h2v2h-2zM12 80h2v2h-2zM16 80h2v2h-2zM46 80h2v2h-2zM52 80h2v2h-2zM64 80h2v2h-2zM84 80h2v2h-2zM88 80h2v2h-2zM10 82h2v2h-2zM16 82h2v2h-2zM30 82h2v2h-2zM36 82h2v2h-2zM60 82h2v2h-2zM62 82h2v2h-2zM78 82h2v2h-2zM88 82h2v2h-2zM22 84h2v2h-2zM44 84h2v2h-2zM46 84h2v2h-2zM62 84h2v2h-2zM68 84h2v2h-2zM72 84h2v2h-2zM78 84h2v2h-2zM92 84h2v2h-2zM0 86h2v2h-2zM2 86h2v2h-2zM6 86h2v2h-2zM14 86h2v2h-2zM16 86h2v2h-2zM18 86h2v2h-2zM36 86h2v2h-2zM88 86h2v2h-2zM16 88h2v2h-2zM22 88h2v2h-2zM24 88h2v2h-2zM30 88h2v2h-2zM34 88h2v2h-2zM42 88h2v2h-2zM48 88h2v2h-2zM62 88h2v2h-2zM70 88h2v2h-2zM76 88h2v2h-2zM90 88h2v2h-2zM32 90h2v2h-2zM36 90h2v2h-2zM42 90h2v2h-2zM54 90h2v2h-2zM56 90h2v2h-2zM88 90h2v2h-2zM0 92h2v2h-2zM4 92h2v2h-2zM20 92h2v2h-2zM38 92h2v2h-2zM64 92h2v2h-2zM66 92h2v2h-2zM94 92h2v2h-2zM12 94h2v2h-2zM22 94h2v2h-2zM28 94h2v2h-2zM32 94h2v2h-2zM36 94h2v2h-2zM86 94h2v2h-2zM90 94h2v2h-2z"/><path fill="#bfbfbf" d="M12 0h2v2h-2zM94 0h2v2h-2zM14 2h2v2h-2zM34 2h2v2h-2zM40 2h2v2h-2zM60 2h2v2h-2zM62 2h2v2h-2zM8 4h2v2h-2zM28 4h2v2h-2zM44 4h2v2h-2zM48 4h2v2h-2zM54 4h2v2h-2zM60 4h2v2h-2zM14 6h2v2h-2zM18 6h2v2h-2zM32 6h2v2h-2zM50 6h2v2h-2zM60 6h2v2h-2zM72 6h2v2h-2zM76 6h2v2h-2zM52 8h2v2h-2zM58 8h2v2h-2zM62 8h2v2h-2zM12 10h2v2h-2zM14 10h2v2h-2zM30 10h2v2h-2zM32 10h2v2h-2zM44 10h2v2h-2zM52 10h2v2h-2zM58 10h2v2h-2zM60 10h2v2h-2zM62 10h2v2h-2zM72 10h2v2h-2zM88 10h2v2h-2zM18 12h2v2h-2zM36 12h2v2h-2zM94 12h2v2h-2zM40 14h2v2h-2zM42 14h2v2h-2zM76 14h2v2h-2zM84 14h2v2h-2zM86 14h2v2h-2zM2 16h2v2h-2zM14 16h2v2h-2zM24 16h2v2h-2zM36 16h2v2h-2zM74 16h2v2h-2zM16 18h2v2h-2zM50 18h2v2h-2zM58 18h2v2h-2zM76 18h2v2h-2zM78 18h2v2h-2zM52 20h2v2h-2zM70 20h2v2h-2zM82 20h2v2h-2zM92 20h2v2h-2zM94 20h2v2h-2zM0 22h2v2h-2zM8 22h2v2h-2zM18 22h2v2h-2zM26 22h2v2h-2zM38 22h2v2h-2zM80 22h2v2h-2zM76 24h2v2h-2zM6 26h2v2h-2zM8 26h2v2h-2zM40 26h2v2h-2zM56 26h2v2h-2zM58 26h2v2h-2zM86 26h2v2h-2zM94 26h2v2h-2zM8 28h2v2h-2zM22 28h2v2h-2zM32 28h2v2h-2zM70 28h2v2h-2zM76 28h2v2h-2zM92 28h2v2h-2zM26 30h2v2h-2zM32 30h2v2h-2zM36 30h2v2h-2zM80 30h2v2h-2zM84 30h2v2h-2zM16 32h2v2h-2zM18 32h2v2h-2zM22 32h2v2h-2zM50 32h2v2h-2zM56 32h2v2h-2zM64 32h2v2h-2zM66 32h2v2h-2zM70 32h2v2h-2zM14 34h2v2h-2zM20 34h2v2h-2zM32 34h2v2h-2zM36 34h2v2h-2zM44 34h2v2h-2zM90 34h2v2h-2zM0 36h2v2h-2zM14 36h2v2h-2zM16 36h2v2h-2zM28 36h2v2h-2zM34 36h2v2h-2zM54 36h2v2h-2zM56 36h2v2h-2zM68 36h2v2h-2zM86 36h2v2h-2zM94 36h2v2h-2zM2 38h2v2h-2zM18 38h2v2h-2zM26 38h2v2h-2zM30 38h2v2h-2zM52 38h2v2h-2zM56 38h2v2h-2zM66 38h2v2h-2zM74 38h2v2h-2zM22 40h2v2h-2zM50 40h2v2h-2zM54 40h2v2h-2zM16 42h2v2h-2zM20 42h2v2h-2zM40 42h2v2h-2zM70 42h2v2h-2zM88 42h2v2h-2zM10 44h2v2h-2zM28 44h2v2h-2zM30 44h2v2h-2zM38 44h2v2h-2zM42 44h2v2h-2zM72 44h2v2h-2zM76 44h2v2h-2zM88 44h2v2h-2zM12 46h2v2h-2zM34 46h2v2h-2zM48 46h2v2h-2zM66 46h2v2h-2zM88 46h2v2h-2zM0 48h2v2h-2zM4 48h2v2h-2zM6 48h2v2h-2zM10 48h2v2h-2zM16 48h2v2h-2zM18 48h2v2h-2zM22 48h2v2h-2zM34 48h2v2h-2zM56 48h2v2h-2zM60 48h2v2h-2zM66 48h2v2h-2zM92 50h2v2h-2zM8 52h2v2h-2zM20 52h2v2h-2zM72 52h2v2h-2zM90 52h2v2h-2zM0 54h2v2h-2zM14 54h2v2h-2zM36 54h2v2h-2zM48 54h2v2h-2zM68 54h2v2h-2zM22 56h2v2h-2zM30 56h2v2h-2zM58 56h2v2h-2zM82 56h2v2h-2zM10 58h2v2h-2zM18 58h2v2h-2zM24 58h2v2h-2zM26 58h2v2h-2zM32 58h2v2h-2zM40 58h2v2h-2zM52 58h2v2h-2zM62 58h2v2h-2zM66 58h2v2h-2zM74 58h2v2h-2zM82 58h2v2h-2zM2 60h2v2h-2zM4 60h2v2h-2zM42 60h2v2h-2zM44 60h2v2h-2zM48 60h2v2h-2zM54 60h2v2h-2zM66 60h2v2h-2zM72 60h2v2h-2zM12 62h2v2h-2zM16 62h2v2h-2zM24 62h2v2h-2zM30 62h2v2h-2zM38 62h2v2h-2zM46 62h2v2h-2zM48 62h2v2h-2zM52 62h2v2h-2zM80 62h2v2h-2zM4 64h2v2h-2zM6 64h2v2h-2zM30 64h2v2h-2zM34 64h2v2h-2zM42 64h2v2h-2zM82 64h2v2h-2zM90 64h2v2h-2zM2 66h2v2h-2zM4 66h2v2h-2zM10 66h2v2h-2zM42 66h2v2h-2zM84 66h2v2h-2zM94 66h2v2h-2zM10 68h2v2h-2zM26 68h2v2h-2zM62 68h2v2h-2zM90 68h2v2h-2zM24 70h2v2h-2zM28 70h2v2h-2zM44 70h2v2h-2zM60 70h2v2h-2zM72 70h2v2h-2zM88 70h2v2h-2zM2 72h2v2h-2zM38 72h2v2h-2zM52 72h2v2h-2zM68 72h2v2h-2zM80 72h2v2h-2zM86 72h2v2h-2zM12 74h2v2h-2zM50 74h2v2h-2zM52 74h2v2h-2zM94 74h2v2h-2zM12 76h2v2h-2zM26 76h2v2h-2zM36 76h2v2h-2zM54 76h2v2h-2zM74 76h2v2h-2zM4 78h2v2h-2zM18 78h2v2h-2zM76 78h2v2h-2zM78 78h2v2h-2zM92 78h2v2h-2zM94 78h2v2h-2zM30 80h2v2h-2zM58 80h2v2h-2zM92 80h2v2h-2zM4 82h2v2h-2zM20 82h2v2h-2zM40 82h2v2h-2zM48 82h2v2h-2zM56 82h2v2h-2zM68 82h2v2h-2zM74 82h2v2h-2zM76 82h2v2h-2zM12 84h2v2h-2zM16 84h2v2h-2zM94 84h2v2h-2zM40 86h2v2h-2zM44 86h2v2h-2zM56 86h2v2h-2zM66 86h2v2h-2zM70 86h2v2h-2zM72 86h2v2h-2zM20 88h2v2h-2zM36 88h2v2h-2zM38 88h2v2h-2zM52 88h2v2h-2zM78 88h2v2h-2zM86 88h2v2h-2zM92 88h2v2h-2zM2 90h2v2h-2zM16 90h2v2h-2zM22 90h2v2h-2zM34 90h2v2h-2zM50 90h2v2h-2zM72 90h2v2h-2zM74 90h2v2h-2zM78 90h2v2h-2zM84 90h2v2h-2zM16 92h2v2h-2zM22 92h2v2h-2zM32 92h2v2h-2zM24 94h2v2h-2zM44 94h2v2h-2zM54 94h2v2h-2zM74 94h2v2h-2zM78 94h2v2h-2zM82 94h2v2h-2z"/><path fill="#dfdfdf" d="M16 0h2v2h-2zM0 2h2v2h-2zM28 2h2v2h-2zM46 2h2v2h-2zM50 4h2v2h-2zM80 4h2v2h-2zM2 6h2v2h-2zM38 6h2v2h-2zM58 6h2v2h-2zM74 6h2v2h-2zM18 8h2v2h-2zM60 8h2v2h-2zM40 12h2v2h-2zM66 12h2v2h-2zM68 12h2v2h-2zM78 12h2v2h-2zM12 14h2v2h-2zM80 14h2v2h-2zM6 16h2v2h-2zM42 16h2v2h-2zM44 16h2v2h-2zM52 16h2v2h-2zM60 16h2v2h-2zM66 18h2v2h-2zM82 18h2v2h-2zM2 20h2v2h-2zM32 20h2v2h-2zM36 22h2v2h-2zM6 24h2v2h-2zM18 24h2v2h-2zM36 24h2v2h-2zM68 24h2v2h-2zM6 28h2v2h-2zM54 30h2v2h-2zM90 30h2v2h-2zM2 32h2v2h-2zM20 32h2v2h-2zM26 34h2v2h-2zM42 34h2v2h-2zM80 34h2v2h-2zM8 36h2v2h-2zM30 36h2v2h-2zM60 36h2v2h-2zM90 36h2v2h-2zM4 38h2v2h-2zM40 38h2v2h-2zM38 40h2v2h-2zM4 42h2v2h-2zM68 44h2v2h-2zM62 46h2v2h-2zM2 48h2v2h-2zM12 48h2v2h-2zM28 48h2v2h-2zM26 52h2v2h-2zM60 52h2v2h-2zM66 54h2v2h-2zM74 54h2v2h-2zM86 54h2v2h-2zM24 56h2v2h-2zM56 56h2v2h-2zM62 56h2v2h-2zM38 58h2v2h-2zM68 58h2v2h-2zM70 58h2v2h-2zM10 60h2v2h-2zM20 60h2v2h-2zM60 60h2v2h-2zM84 60h2v2h-2zM88 60h2v2h-2zM94 62h2v2h-2zM28 64h2v2h-2zM38 66h2v2h-2zM48 66h2v2h-2zM58 66h2v2h-2zM92 66h2v2h-2zM16 68h2v2h-2zM28 68h2v2h-2zM34 68h2v2h-2zM74 68h2v2h-2zM78 68h2v2h-2zM14 70h2v2h-2zM26 70h2v2h-2zM52 70h2v2h-2zM94 70h2v2h-2zM8 72h2v2h-2zM58 72h2v2h-2zM64 72h2v2h-2zM88 72h2v2h-2zM0 74h2v2h-2zM2 74h2v2h-2zM16 74h2v2h-2zM20 74h2v2h-2zM2 76h2v2h-2zM8 76h2v2h-2zM18 76h2v2h-2zM68 76h2v2h-2zM6 78h2v2h-2zM10 78h2v2h-2zM20 78h2v2h-2zM40 78h2v2h-2zM44 78h2v2h-2zM60 78h2v2h-2zM62 78h2v2h-2zM2 80h2v2h-2zM8 80h2v2h-2zM70 80h2v2h-2zM46 82h2v2h-2zM54 82h2v2h-2zM4 84h2v2h-2zM6 84h2v2h-2zM34 84h2v2h-2zM58 84h2v2h-2zM86 84h2v2h-2zM88 84h2v2h-2zM32 86h2v2h-2zM6 88h2v2h-2zM66 88h2v2h-2zM2 92h2v2h-2zM12 92h2v2h-2zM30 92h2v2h-2zM36 92h2v2h-2zM40 92h2v2h-2zM56 92h2v2h-2zM10 94h2v2h-2zM38 94h2v2h-2z"/><path fill="#ffffff" d="M38 0h2v2h-2zM52 0h2v2h-2zM60 0h2v2h-2zM66 0h2v2h-2zM74 0h2v2h-2zM42 2h2v2h-2zM48 2h2v2h-2zM68 2h2v2h-2zM82 2h2v2h-2zM24 4h2v2h-2zM56 4h2v2h-2zM78 4h2v2h-2zM26 6h2v2h-2zM64 6h2v2h-2zM50 8h2v2h-2zM0 10h2v2h-2zM36 10h2v2h-2zM78 10h2v2h-2zM6 14h2v2h-2zM16 14h2v2h-2zM38 14h2v2h-2zM60 18h2v2h-2zM76 20h2v2h-2zM4 26h2v2h-2zM36 26h2v2h-2zM56 28h2v2h-2zM32 32h2v2h-2zM70 34h2v2h-2zM22 36h2v2h-2zM78 36h2v2h-2zM80 38h2v2h-2zM50 42h2v2h-2zM36 44h2v2h-2zM92 44h2v2h-2zM80 46h2v2h-2zM82 46h2v2h-2zM8 50h2v2h-2zM14 50h2v2h-2zM0 52h2v2h-2zM32 52h2v2h-2zM76 58h2v2h-2zM46 60h2v2h-2zM74 60h2v2h-2zM2 64h2v2h-2zM56 68h2v2h-2zM60 72h2v2h-2zM60 74h2v2h-2zM88 74h2v2h-2zM94 76h2v2h-2zM22 82h2v2h-2zM34 82h2v2h-2zM38 82h2v2h-2zM40 84h2v2h-2zM82 84h2v2h-2zM76 86h2v2h-2zM12 88h2v2h-2zM70 90h2v2h-2zM86 90h2v2h-2zM28 92h2v2h-2zM58 92h2v2h-2zM92 94h2v2h-2z"/></pattern><pattern id="np2" x="0" y="0" width="48.000" height="48.000" patternUnits="userSpaceOnUse"><path fill="#000000" d="M18 0h1v1h-1zM6 1h1v1h-1zM25 1h1v1h-1zM38 1h1v1h-1zM32 2h1v1h-1zM18 3h1v1h-1zM20 3h1v1h-1zM20 4h1v1h-1zM44 4h1v1h-1zM45 5h1v1h-1zM21 6h1v1h-1zM14 7h1v1h-1zM21 7h1v1h-1zM40 7h1v1h-1zM21 8h1v1h-1zM23 9h1v1h-1zM32 9h1v1h-1zM34 11h1v1h-1zM47 13h1v1h-1zM22 14h1v1h-1zM45 14h1v1h-1zM34 15h1v1h-1zM28 17h1v1h-1zM23 19h1v1h-1zM44 19h1v1h-1zM29 20h1v1h-1zM42 20h1v1h-1zM37 21h1v1h-1zM2 23h1v1h-1zM33 25h1v1h-1zM24 26h1v1h-1zM19 28h1v1h-1zM37 29h1v1h-1zM20 30h1v1h-1zM22 30h1v1h-1zM13 31h1v1h-1zM34 32h1v1h-1zM7 34h1v1h-1zM15 35h1v1h-1zM32 35h1v1h-1zM38 35h1v1h-1zM44 37h1v1h-1zM29 38h1v1h-1zM43 38h1v1h-1zM47 38h1v1h-1zM28 41h1v1h-1zM33 41h1v1h-1zM17 44h1v1h-1zM19 44h1v1h-1zM34 44h1v1h-1zM20 45h1v1h-1zM21 45h1v1h-1zM3 46h1v1h-1zM39 46h1v1h-1zM6 47h1v1h-1z"/><path fill="#202020" d="M20 0h1v1h-1zM27 0h1v1h-1zM46 0h1v1h-1zM14 1h1v1h-1zM15 1h1v1h-1zM33 2h1v1h-1zM42 2h1v1h-1zM1 3h1v1h-1zM38 3h1v1h-1zM42 3h1v1h-1zM21 4h1v1h-1zM15 5h1v1h-1zM4 6h1v1h-1zM46 6h1v1h-1zM42 7h1v1h-1zM18 8h1v1h-1zM18 9h1v1h-1zM26 9h1v1h-1zM40 9h1v1h-1zM7 10h1v1h-1zM12 10h1v1h-1zM30 10h1v1h-1zM36 10h1v1h-1zM38 10h1v1h-1zM43 10h1v1h-1zM3 11h1v1h-1zM26 11h1v1h-1zM46 11h1v1h-1zM19 12h1v1h-1zM44 12h1v1h-1zM11 13h1v1h-1zM31 13h1v1h-1zM3 14h1v1h-1zM9 15h1v1h-1zM22 15h1v1h-1zM39 15h1v1h-1zM7 16h1v1h-1zM0 17h1v1h-1zM23 17h1v1h-1zM32 17h1v1h-1zM43 17h1v1h-1zM3 18h1v1h-1zM5 18h1v1h-1zM8 19h1v1h-1zM47 19h1v1h-1zM25 20h1v1h-1zM37 20h1v1h-1zM46 20h1v1h-1zM29 21h1v1h-1zM2 22h1v1h-1zM12 22h1v1h-1zM36 22h1v1h-1zM38 22h1v1h-1zM45 22h1v1h-1zM12 23h1v1h-1zM26 23h1v1h-1zM27 23h1v1h-1zM44 23h1v1h-1zM10 24h1v1h-1zM30 24h1v1h-1zM39 24h1v1h-1zM43 24h1v1h-1zM45 24h1v1h-1zM3 25h1v1h-1zM44 25h1v1h-1zM34 26h1v1h-1zM4 27h1v1h-1zM21 27h1v1h-1zM34 27h1v1h-1zM38 27h1v1h-1zM41 27h1v1h-1zM0 28h1v1h-1zM32 28h1v1h-1zM37 28h1v1h-1zM1 29h1v1h-1zM27 29h1v1h-1zM29 29h1v1h-1zM41 29h1v1h-1zM46 29h1v1h-1zM32 30h1v1h-1zM15 31h1v1h-1zM25 31h1v1h-1zM33 31h1v1h-1zM7 32h1v1h-1zM25 32h1v1h-1zM39 32h1v1h-1zM42 32h1v1h-1zM12 34h1v1h-1zM20 34h1v1h-1zM22 34h1v1h-1zM28 34h1v1h-1zM30 34h1v1h-1zM45 34h1v1h-1zM6 35h1v1h-1zM14 35h1v1h-1zM26 35h1v1h-1zM2 36h1v1h-1zM12 36h1v1h-1zM26 36h1v1h-1zM42 36h1v1h-1zM27 37h1v1h-1zM43 37h1v1h-1zM38 38h1v1h-1zM40 38h1v1h-1zM2 39h1v1h-1zM9 39h1v1h-1zM14 39h1v1h-1zM19 39h1v1h-1zM20 39h1v1h-1zM21 39h1v1h-1zM27 39h1v1h-1zM35 39h1v1h-1zM5 40h1v1h-1zM15 40h1v1h-1zM28 40h1v1h-1zM40 40h1v1h-1zM7 41h1v1h-1zM21 42h1v1h-1zM9 43h1v1h-1zM10 43h1v1h-1zM39 43h1v1h-1zM41 43h1v1h-1zM8 44h1v1h-1zM25 44h1v1h-1zM32 44h1v1h-1zM8 45h1v1h-1zM13 45h1v1h-1zM26 45h1v1h-1zM33 45h1v1h-1zM40 45h1v1h-1zM46 45h1v1h-1zM6 46h1v1h-1zM30 46h1v1h-1zM7 47h1v1h-1zM10 47h1v1h-1zM43 47h1v1h-1z"/><path fill="#404040" d="M0 0h1v1h-1zM8 0h1v1h-1zM13 0h1v1h-1zM21 0h1v1h-1zM22 0h1v1h-1zM47 0h1v1h-1zM8 1h1v1h-1zM31 1h1v1h-1zM34 1h1v1h-1zM36 1h1v1h-1zM7 2h1v1h-1zM11 2h1v1h-1zM45 2h1v1h-1zM14 3h1v1h-1zM26 3h1v1h-1zM31 3h1v1h-1zM37 3h1v1h-1zM47 3h1v1h-1zM2 4h1v1h-1zM5 4h1v1h-1zM12 4h1v1h-1zM16 4h1v1h-1zM33 4h1v1h-1zM34 4h1v1h-1zM36 4h1v1h-1zM38 4h1v1h-1zM13 5h1v1h-1zM20 5h1v1h-1zM22 5h1v1h-1zM28 5h1v1h-1zM42 5h1v1h-1zM0 6h1v1h-1zM35 6h1v1h-1zM41 6h1v1h-1zM43 6h1v1h-1zM3 7h1v1h-1zM4 7h1v1h-1zM19 7h1v1h-1zM27 7h1v1h-1zM28 7h1v1h-1zM33 7h1v1h-1zM37 7h1v1h-1zM9 8h1v1h-1zM17 8h1v1h-1zM19 8h1v1h-1zM17 9h1v1h-1zM28 9h1v1h-1zM45 9h1v1h-1zM6 10h1v1h-1zM44 10h1v1h-1zM6 11h1v1h-1zM11 11h1v1h-1zM24 11h1v1h-1zM28 11h1v1h-1zM39 11h1v1h-1zM42 11h1v1h-1zM43 11h1v1h-1zM5 12h1v1h-1zM26 12h1v1h-1zM28 12h1v1h-1zM40 12h1v1h-1zM43 12h1v1h-1zM1 13h1v1h-1zM6 13h1v1h-1zM25 13h1v1h-1zM32 13h1v1h-1zM40 13h1v1h-1zM42 13h1v1h-1zM1 14h1v1h-1zM15 14h1v1h-1zM21 14h1v1h-1zM34 14h1v1h-1zM43 14h1v1h-1zM2 15h1v1h-1zM10 15h1v1h-1zM13 15h1v1h-1zM20 15h1v1h-1zM38 15h1v1h-1zM40 15h1v1h-1zM47 15h1v1h-1zM4 16h1v1h-1zM24 16h1v1h-1zM31 16h1v1h-1zM35 16h1v1h-1zM38 16h1v1h-1zM3 17h1v1h-1zM16 17h1v1h-1zM18 17h1v1h-1zM29 17h1v1h-1zM31 17h1v1h-1zM33 17h1v1h-1zM13 18h1v1h-1zM21 18h1v1h-1zM28 18h1v1h-1zM31 18h1v1h-1zM34 18h1v1h-1zM0 19h1v1h-1zM1 19h1v1h-1zM3 19h1v1h-1zM12 19h1v1h-1zM27 19h1v1h-1zM33 19h1v1h-1zM38 19h1v1h-1zM6 20h1v1h-1zM8 20h1v1h-1zM19 20h1v1h-1zM38 20h1v1h-1zM44 20h1v1h-1zM45 20h1v1h-1zM1 21h1v1h-1zM4 21h1v1h-1zM5 21h1v1h-1zM9 21h1v1h-1zM13 21h1v1h-1zM24 21h1v1h-1zM39 21h1v1h-1zM9 22h1v1h-1zM11 22h1v1h-1zM16 22h1v1h-1zM25 22h1v1h-1zM28 22h1v1h-1zM34 22h1v1h-1zM41 22h1v1h-1zM7 23h1v1h-1zM10 23h1v1h-1zM11 23h1v1h-1zM13 23h1v1h-1zM14 23h1v1h-1zM19 23h1v1h-1zM28 23h1v1h-1zM29 23h1v1h-1zM43 23h1v1h-1zM1 24h1v1h-1zM12 24h1v1h-1zM19 24h1v1h-1zM31 24h1v1h-1zM36 24h1v1h-1zM0 25h1v1h-1zM10 25h1v1h-1zM18 25h1v1h-1zM41 25h1v1h-1zM0 26h1v1h-1zM5 26h1v1h-1zM18 26h1v1h-1zM27 26h1v1h-1zM30 26h1v1h-1zM37 26h1v1h-1zM1 27h1v1h-1zM11 27h1v1h-1zM15 27h1v1h-1zM27 27h1v1h-1zM30 27h1v1h-1zM36 27h1v1h-1zM44 27h1v1h-1zM12 28h1v1h-1zM17 28h1v1h-1zM22 28h1v1h-1zM34 28h1v1h-1zM41 28h1v1h-1zM42 28h1v1h-1zM10 29h1v1h-1zM47 29h1v1h-1zM8 30h1v1h-1zM15 30h1v1h-1zM19 30h1v1h-1zM28 30h1v1h-1zM36 30h1v1h-1zM5 31h1v1h-1zM24 31h1v1h-1zM27 31h1v1h-1zM1 32h1v1h-1zM11 32h1v1h-1zM14 32h1v1h-1zM18 32h1v1h-1zM21 32h1v1h-1zM29 32h1v1h-1zM35 32h1v1h-1zM40 32h1v1h-1zM43 32h1v1h-1zM47 32h1v1h-1zM12 33h1v1h-1zM13 33h1v1h-1zM30 33h1v1h-1zM2 34h1v1h-1zM16 34h1v1h-1zM18 34h1v1h-1zM24 34h1v1h-1zM26 34h1v1h-1zM34 34h1v1h-1zM46 34h1v1h-1zM2 35h1v1h-1zM21 35h1v1h-1zM36 35h1v1h-1zM44 35h1v1h-1zM46 35h1v1h-1zM3 36h1v1h-1zM16 36h1v1h-1zM22 36h1v1h-1zM27 36h1v1h-1zM33 36h1v1h-1zM46 36h1v1h-1zM7 37h1v1h-1zM2 38h1v1h-1zM4 38h1v1h-1zM7 38h1v1h-1zM24 38h1v1h-1zM39 38h1v1h-1zM44 38h1v1h-1zM46 38h1v1h-1zM0 39h1v1h-1zM1 39h1v1h-1zM8 39h1v1h-1zM13 39h1v1h-1zM16 39h1v1h-1zM23 39h1v1h-1zM24 39h1v1h-1zM33 39h1v1h-1zM36 39h1v1h-1zM9 40h1v1h-1zM18 40h1v1h-1zM26 40h1v1h-1zM43 40h1v1h-1zM1 41h1v1h-1zM18 41h1v1h-1zM29 41h1v1h-1zM38 41h1v1h-1zM41 41h1v1h-1zM15 42h1v1h-1zM30 42h1v1h-1zM23 43h1v1h-1zM25 43h1v1h-1zM27 43h1v1h-1zM28 43h1v1h-1zM32 43h1v1h-1zM37 44h1v1h-1zM43 44h1v1h-1zM45 44h1v1h-1zM0 45h1v1h-1zM3 45h1v1h-1zM25 45h1v1h-1zM28 45h1v1h-1zM44 45h1v1h-1zM2 46h1v1h-1zM5 46h1v1h-1zM10 46h1v1h-1zM12 46h1v1h-1zM13 46h1v1h-1zM19 46h1v1h-1zM31 46h1v1h-1zM43 46h1v1h-1zM8 47h1v1h-1zM18 47h1v1h-1zM25 47h1v1h-1zM29 47h1v1h-1zM37 47h1v1h-1zM46 47h1v1h-1z"/><path fill="#606060" d="M9 0h1v1h-1zM12 0h1v1h-1zM15 0h1v1h-1zM26 0h1v1h-1zM28 0h1v1h-1zM32 0h1v1h-1zM38 0h1v1h-1zM44 0h1v1h-1zM45 0h1v1h-1zM10 1h1v1h-1zM11 1h1v1h-1zM12 1h1v1h-1zM13 1h1v1h-1zM18 1h1v1h-1zM19 1h1v1h-1zM20 1h1v1h-1zM24 1h1v1h-1zM30 1h1v1h-1zM33 1h1v1h-1zM37 1h1v1h-1zM43 1h1v1h-1zM44 1h1v1h-1zM46 1h1v1h-1zM9 2h1v1h-1zM14 2h1v1h-1zM17 2h1v1h-1zM18 2h1v1h-1zM19 2h1v1h-1zM21 2h1v1h-1zM34 2h1v1h-1zM36 2h1v1h-1zM41 2h1v1h-1zM47 2h1v1h-1zM0 3h1v1h-1zM3 3h1v1h-1zM6 3h1v1h-1zM8 3h1v1h-1zM9 3h1v1h-1zM11 3h1v1h-1zM16 3h1v1h-1zM21 3h1v1h-1zM25 3h1v1h-1zM30 3h1v1h-1zM32 3h1v1h-1zM35 3h1v1h-1zM36 3h1v1h-1zM3 4h1v1h-1zM4 4h1v1h-1zM8 4h1v1h-1zM9 4h1v1h-1zM42 4h1v1h-1zM1 5h1v1h-1zM4 5h1v1h-1zM5 5h1v1h-1zM8 5h1v1h-1zM18 5h1v1h-1zM21 5h1v1h-1zM24 5h1v1h-1zM29 5h1v1h-1zM30 5h1v1h-1zM32 5h1v1h-1zM38 5h1v1h-1zM39 5h1v1h-1zM40 5h1v1h-1zM41 5h1v1h-1zM47 5h1v1h-1zM6 6h1v1h-1zM8 6h1v1h-1zM11 6h1v1h-1zM12 6h1v1h-1zM22 6h1v1h-1zM23 6h1v1h-1zM25 6h1v1h-1zM28 6h1v1h-1zM30 6h1v1h-1zM5 7h1v1h-1zM11 7h1v1h-1zM15 7h1v1h-1zM18 7h1v1h-1zM23 7h1v1h-1zM24 7h1v1h-1zM31 7h1v1h-1zM41 7h1v1h-1zM43 7h1v1h-1zM0 8h1v1h-1zM1 8h1v1h-1zM3 8h1v1h-1zM14 8h1v1h-1zM15 8h1v1h-1zM16 8h1v1h-1zM30 8h1v1h-1zM31 8h1v1h-1zM37 8h1v1h-1zM42 8h1v1h-1zM46 8h1v1h-1zM5 9h1v1h-1zM6 9h1v1h-1zM7 9h1v1h-1zM9 9h1v1h-1zM19 9h1v1h-1zM22 9h1v1h-1zM31 9h1v1h-1zM36 9h1v1h-1zM38 9h1v1h-1zM41 9h1v1h-1zM0 10h1v1h-1zM3 10h1v1h-1zM8 10h1v1h-1zM9 10h1v1h-1zM15 10h1v1h-1zM22 10h1v1h-1zM23 10h1v1h-1zM24 10h1v1h-1zM25 10h1v1h-1zM26 10h1v1h-1zM35 10h1v1h-1zM40 10h1v1h-1zM41 10h1v1h-1zM42 10h1v1h-1zM46 10h1v1h-1zM47 10h1v1h-1zM7 11h1v1h-1zM10 11h1v1h-1zM13 11h1v1h-1zM17 11h1v1h-1zM19 11h1v1h-1zM21 11h1v1h-1zM32 11h1v1h-1zM33 11h1v1h-1zM36 11h1v1h-1zM9 12h1v1h-1zM10 12h1v1h-1zM33 12h1v1h-1zM38 12h1v1h-1zM39 12h1v1h-1zM45 12h1v1h-1zM12 13h1v1h-1zM13 13h1v1h-1zM14 13h1v1h-1zM15 13h1v1h-1zM21 13h1v1h-1zM29 13h1v1h-1zM30 13h1v1h-1zM33 13h1v1h-1zM34 13h1v1h-1zM36 13h1v1h-1zM37 13h1v1h-1zM38 13h1v1h-1zM43 13h1v1h-1zM20 14h1v1h-1zM31 14h1v1h-1zM32 14h1v1h-1zM33 14h1v1h-1zM36 14h1v1h-1zM39 14h1v1h-1zM44 14h1v1h-1zM47 14h1v1h-1zM14 15h1v1h-1zM18 15h1v1h-1zM24 15h1v1h-1zM27 15h1v1h-1zM29 15h1v1h-1zM6 16h1v1h-1zM10 16h1v1h-1zM17 16h1v1h-1zM22 16h1v1h-1zM32 16h1v1h-1zM37 16h1v1h-1zM44 16h1v1h-1zM46 16h1v1h-1zM47 16h1v1h-1zM4 17h1v1h-1zM9 17h1v1h-1zM12 17h1v1h-1zM15 17h1v1h-1zM19 17h1v1h-1zM24 17h1v1h-1zM30 17h1v1h-1zM35 17h1v1h-1zM44 17h1v1h-1zM45 17h1v1h-1zM8 18h1v1h-1zM12 18h1v1h-1zM22 18h1v1h-1zM23 18h1v1h-1zM25 18h1v1h-1zM27 18h1v1h-1zM30 18h1v1h-1zM33 18h1v1h-1zM36 18h1v1h-1zM37 18h1v1h-1zM39 18h1v1h-1zM45 18h1v1h-1zM46 18h1v1h-1zM47 18h1v1h-1zM2 19h1v1h-1zM19 19h1v1h-1zM21 19h1v1h-1zM31 19h1v1h-1zM32 19h1v1h-1zM37 19h1v1h-1zM43 19h1v1h-1zM2 20h1v1h-1zM7 20h1v1h-1zM10 20h1v1h-1zM11 20h1v1h-1zM13 20h1v1h-1zM20 20h1v1h-1zM21 20h1v1h-1zM30 20h1v1h-1zM35 20h1v1h-1zM36 20h1v1h-1zM41 20h1v1h-1zM47 20h1v1h-1zM2 21h1v1h-1zM6 21h1v1h-1zM8 21h1v1h-1zM10 21h1v1h-1zM11 21h1v1h-1zM15 21h1v1h-1zM23 21h1v1h-1zM25 21h1v1h-1zM28 21h1v1h-1zM31 21h1v1h-1zM32 21h1v1h-1zM40 21h1v1h-1zM0 22h1v1h-1zM4 22h1v1h-1zM5 22h1v1h-1zM7 22h1v1h-1zM18 22h1v1h-1zM19 22h1v1h-1zM21 22h1v1h-1zM29 22h1v1h-1zM30 22h1v1h-1zM42 22h1v1h-1zM44 22h1v1h-1zM47 22h1v1h-1zM5 23h1v1h-1zM9 23h1v1h-1zM22 23h1v1h-1zM34 23h1v1h-1zM35 23h1v1h-1zM36 23h1v1h-1zM37 23h1v1h-1zM41 23h1v1h-1zM42 23h1v1h-1zM47 23h1v1h-1zM4 24h1v1h-1zM8 24h1v1h-1zM13 24h1v1h-1zM17 24h1v1h-1zM22 24h1v1h-1zM28 24h1v1h-1zM32 24h1v1h-1zM40 24h1v1h-1zM46 24h1v1h-1zM47 24h1v1h-1zM1 25h1v1h-1zM2 25h1v1h-1zM4 25h1v1h-1zM15 25h1v1h-1zM16 25h1v1h-1zM40 25h1v1h-1zM47 25h1v1h-1zM12 26h1v1h-1zM15 26h1v1h-1zM23 26h1v1h-1zM40 26h1v1h-1zM47 26h1v1h-1zM0 27h1v1h-1zM17 27h1v1h-1zM23 27h1v1h-1zM46 27h1v1h-1zM1 28h1v1h-1zM10 28h1v1h-1zM15 28h1v1h-1zM18 28h1v1h-1zM23 28h1v1h-1zM29 28h1v1h-1zM33 28h1v1h-1zM35 28h1v1h-1zM40 28h1v1h-1zM43 28h1v1h-1zM45 28h1v1h-1zM47 28h1v1h-1zM5 29h1v1h-1zM12 29h1v1h-1zM18 29h1v1h-1zM21 29h1v1h-1zM22 29h1v1h-1zM26 29h1v1h-1zM30 29h1v1h-1zM34 29h1v1h-1zM35 29h1v1h-1zM36 29h1v1h-1zM0 30h1v1h-1zM3 30h1v1h-1zM12 30h1v1h-1zM23 30h1v1h-1zM25 30h1v1h-1zM27 30h1v1h-1zM29 30h1v1h-1zM34 30h1v1h-1zM40 30h1v1h-1zM43 30h1v1h-1zM1 31h1v1h-1zM3 31h1v1h-1zM6 31h1v1h-1zM8 31h1v1h-1zM10 31h1v1h-1zM14 31h1v1h-1zM21 31h1v1h-1zM22 31h1v1h-1zM29 31h1v1h-1zM31 31h1v1h-1zM34 31h1v1h-1zM36 31h1v1h-1zM39 31h1v1h-1zM40 31h1v1h-1zM45 31h1v1h-1zM47 31h1v1h-1zM3 32h1v1h-1zM10 32h1v1h-1zM15 32h1v1h-1zM23 32h1v1h-1zM27 32h1v1h-1zM28 32h1v1h-1zM30 32h1v1h-1zM1 33h1v1h-1zM2 33h1v1h-1zM5 33h1v1h-1zM6 33h1v1h-1zM14 33h1v1h-1zM23 33h1v1h-1zM33 33h1v1h-1zM35 33h1v1h-1zM38 33h1v1h-1zM39 33h1v1h-1zM46 33h1v1h-1zM47 33h1v1h-1zM5 34h1v1h-1zM6 34h1v1h-1zM13 34h1v1h-1zM17 34h1v1h-1zM21 34h1v1h-1zM27 34h1v1h-1zM41 34h1v1h-1zM10 35h1v1h-1zM11 35h1v1h-1zM18 35h1v1h-1zM19 35h1v1h-1zM22 35h1v1h-1zM31 35h1v1h-1zM42 35h1v1h-1zM6 36h1v1h-1zM8 36h1v1h-1zM13 36h1v1h-1zM15 36h1v1h-1zM18 36h1v1h-1zM20 36h1v1h-1zM24 36h1v1h-1zM29 36h1v1h-1zM31 36h1v1h-1zM34 36h1v1h-1zM37 36h1v1h-1zM38 36h1v1h-1zM39 36h1v1h-1zM41 36h1v1h-1zM47 36h1v1h-1zM4 37h1v1h-1zM10 37h1v1h-1zM19 37h1v1h-1zM20 37h1v1h-1zM25 37h1v1h-1zM28 37h1v1h-1zM30 37h1v1h-1zM32 37h1v1h-1zM33 37h1v1h-1zM39 37h1v1h-1zM42 37h1v1h-1zM47 37h1v1h-1zM5 38h1v1h-1zM16 38h1v1h-1zM18 38h1v1h-1zM33 38h1v1h-1zM3 39h1v1h-1zM5 39h1v1h-1zM7 39h1v1h-1zM12 39h1v1h-1zM22 39h1v1h-1zM25 39h1v1h-1zM28 39h1v1h-1zM30 39h1v1h-1zM34 39h1v1h-1zM41 39h1v1h-1zM42 39h1v1h-1zM19 40h1v1h-1zM21 40h1v1h-1zM23 40h1v1h-1zM27 40h1v1h-1zM29 40h1v1h-1zM30 40h1v1h-1zM31 40h1v1h-1zM32 40h1v1h-1zM42 40h1v1h-1zM3 41h1v1h-1zM4 41h1v1h-1zM6 41h1v1h-1zM11 41h1v1h-1zM22 41h1v1h-1zM27 41h1v1h-1zM37 41h1v1h-1zM39 41h1v1h-1zM44 41h1v1h-1zM2 42h1v1h-1zM9 42h1v1h-1zM18 42h1v1h-1zM22 42h1v1h-1zM31 42h1v1h-1zM34 42h1v1h-1zM37 42h1v1h-1zM42 42h1v1h-1zM45 42h1v1h-1zM1 43h1v1h-1zM2 43h1v1h-1zM3 43h1v1h-1zM6 43h1v1h-1zM13 43h1v1h-1zM15 43h1v1h-1zM18 43h1v1h-1zM21 43h1v1h-1zM43 43h1v1h-1zM46 43h1v1h-1zM4 44h1v1h-1zM6 44h1v1h-1zM9 44h1v1h-1zM12 44h1v1h-1zM14 44h1v1h-1zM18 44h1v1h-1zM20 44h1v1h-1zM28 44h1v1h-1zM33 44h1v1h-1zM46 44h1v1h-1zM47 44h1v1h-1zM4 45h1v1h-1zM11 45h1v1h-1zM12 45h1v1h-1zM18 45h1v1h-1zM30 45h1v1h-1zM31 45h1v1h-1zM34 45h1v1h-1zM43 45h1v1h-1zM45 45h1v1h-1zM1 46h1v1h-1zM8 46h1v1h-1zM9 46h1v1h-1zM11 46h1v1h-1zM20 46h1v1h-1zM21 46h1v1h-1zM22 46h1v1h-1zM23 46h1v1h-1zM34 46h1v1h-1zM9 47h1v1h-1zM11 47h1v1h-1zM14 47h1v1h-1zM19 47h1v1h-1zM31 47h1v1h-1zM32 47h1v1h-1zM35 47h1v1h-1zM36 47h1v1h-1zM38 47h1v1h-1zM44 47h1v1h-1z"/><path fill="#808080" d="M1 0h1v1h-1zM5 0h1v1h-1zM7 0h1v1h-1zM11 0h1v1h-1zM14 0h1v1h-1zM16 0h1v1h-1zM19 0h1v1h-1zM29 0h1v1h-1zM30 0h1v1h-1zM36 0h1v1h-1zM37 0h1v1h-1zM41 0h1v1h-1zM43 0h1v1h-1zM0 1h1v1h-1zM1 1h1v1h-1zM5 1h1v1h-1zM7 1h1v1h-1zM23 1h1v1h-1zM26 1h1v1h-1zM29 1h1v1h-1zM32 1h1v1h-1zM40 1h1v1h-1zM41 1h1v1h-1zM42 1h1v1h-1zM45 1h1v1h-1zM5 2h1v1h-1zM8 2h1v1h-1zM10 2h1v1h-1zM27 2h1v1h-1zM29 2h1v1h-1zM30 2h1v1h-1zM37 2h1v1h-1zM40 2h1v1h-1zM44 2h1v1h-1zM4 3h1v1h-1zM5 3h1v1h-1zM7 3h1v1h-1zM10 3h1v1h-1zM13 3h1v1h-1zM19 3h1v1h-1zM27 3h1v1h-1zM29 3h1v1h-1zM34 3h1v1h-1zM39 3h1v1h-1zM44 3h1v1h-1zM46 3h1v1h-1zM0 4h1v1h-1zM1 4h1v1h-1zM7 4h1v1h-1zM13 4h1v1h-1zM15 4h1v1h-1zM19 4h1v1h-1zM23 4h1v1h-1zM26 4h1v1h-1zM28 4h1v1h-1zM37 4h1v1h-1zM40 4h1v1h-1zM43 4h1v1h-1zM47 4h1v1h-1zM0 5h1v1h-1zM2 5h1v1h-1zM11 5h1v1h-1zM17 5h1v1h-1zM26 5h1v1h-1zM31 5h1v1h-1zM44 5h1v1h-1zM46 5h1v1h-1zM1 6h1v1h-1zM3 6h1v1h-1zM9 6h1v1h-1zM10 6h1v1h-1zM13 6h1v1h-1zM15 6h1v1h-1zM17 6h1v1h-1zM18 6h1v1h-1zM37 6h1v1h-1zM39 6h1v1h-1zM44 6h1v1h-1zM0 7h1v1h-1zM2 7h1v1h-1zM6 7h1v1h-1zM7 7h1v1h-1zM10 7h1v1h-1zM16 7h1v1h-1zM25 7h1v1h-1zM39 7h1v1h-1zM45 7h1v1h-1zM7 8h1v1h-1zM8 8h1v1h-1zM11 8h1v1h-1zM12 8h1v1h-1zM25 8h1v1h-1zM26 8h1v1h-1zM33 8h1v1h-1zM34 8h1v1h-1zM39 8h1v1h-1zM44 8h1v1h-1zM45 8h1v1h-1zM47 8h1v1h-1zM0 9h1v1h-1zM12 9h1v1h-1zM15 9h1v1h-1zM16 9h1v1h-1zM27 9h1v1h-1zM33 9h1v1h-1zM46 9h1v1h-1zM1 10h1v1h-1zM5 10h1v1h-1zM11 10h1v1h-1zM17 10h1v1h-1zM19 10h1v1h-1zM21 10h1v1h-1zM31 10h1v1h-1zM37 10h1v1h-1zM39 10h1v1h-1zM2 11h1v1h-1zM15 11h1v1h-1zM16 11h1v1h-1zM20 11h1v1h-1zM23 11h1v1h-1zM25 11h1v1h-1zM27 11h1v1h-1zM40 11h1v1h-1zM0 12h1v1h-1zM1 12h1v1h-1zM11 12h1v1h-1zM14 12h1v1h-1zM17 12h1v1h-1zM18 12h1v1h-1zM20 12h1v1h-1zM22 12h1v1h-1zM25 12h1v1h-1zM27 12h1v1h-1zM30 12h1v1h-1zM32 12h1v1h-1zM35 12h1v1h-1zM36 12h1v1h-1zM37 12h1v1h-1zM41 12h1v1h-1zM3 13h1v1h-1zM7 13h1v1h-1zM8 13h1v1h-1zM18 13h1v1h-1zM20 13h1v1h-1zM22 13h1v1h-1zM26 13h1v1h-1zM39 13h1v1h-1zM44 13h1v1h-1zM45 13h1v1h-1zM0 14h1v1h-1zM4 14h1v1h-1zM6 14h1v1h-1zM7 14h1v1h-1zM8 14h1v1h-1zM11 14h1v1h-1zM13 14h1v1h-1zM26 14h1v1h-1zM28 14h1v1h-1zM29 14h1v1h-1zM37 14h1v1h-1zM38 14h1v1h-1zM4 15h1v1h-1zM6 15h1v1h-1zM8 15h1v1h-1zM11 15h1v1h-1zM12 15h1v1h-1zM15 15h1v1h-1zM17 15h1v1h-1zM19 15h1v1h-1zM26 15h1v1h-1zM28 15h1v1h-1zM30 15h1v1h-1zM37 15h1v1h-1zM41 15h1v1h-1zM42 15h1v1h-1zM45 15h1v1h-1zM46 15h1v1h-1zM3 16h1v1h-1zM11 16h1v1h-1zM13 16h1v1h-1zM14 16h1v1h-1zM18 16h1v1h-1zM23 16h1v1h-1zM25 16h1v1h-1zM27 16h1v1h-1zM30 16h1v1h-1zM34 16h1v1h-1zM41 16h1v1h-1zM1 17h1v1h-1zM7 17h1v1h-1zM10 17h1v1h-1zM17 17h1v1h-1zM20 17h1v1h-1zM22 17h1v1h-1zM39 17h1v1h-1zM41 17h1v1h-1zM42 17h1v1h-1zM47 17h1v1h-1zM0 18h1v1h-1zM1 18h1v1h-1zM6 18h1v1h-1zM11 18h1v1h-1zM15 18h1v1h-1zM18 18h1v1h-1zM19 18h1v1h-1zM24 18h1v1h-1zM29 18h1v1h-1zM32 18h1v1h-1zM35 18h1v1h-1zM38 18h1v1h-1zM41 18h1v1h-1zM43 18h1v1h-1zM44 18h1v1h-1zM4 19h1v1h-1zM5 19h1v1h-1zM7 19h1v1h-1zM11 19h1v1h-1zM13 19h1v1h-1zM16 19h1v1h-1zM17 19h1v1h-1zM20 19h1v1h-1zM22 19h1v1h-1zM25 19h1v1h-1zM30 19h1v1h-1zM36 19h1v1h-1zM39 19h1v1h-1zM41 19h1v1h-1zM45 19h1v1h-1zM9 20h1v1h-1zM12 20h1v1h-1zM18 20h1v1h-1zM24 20h1v1h-1zM26 20h1v1h-1zM27 20h1v1h-1zM34 20h1v1h-1zM0 21h1v1h-1zM3 21h1v1h-1zM7 21h1v1h-1zM14 21h1v1h-1zM16 21h1v1h-1zM19 21h1v1h-1zM20 21h1v1h-1zM22 21h1v1h-1zM26 21h1v1h-1zM30 21h1v1h-1zM42 21h1v1h-1zM43 21h1v1h-1zM15 22h1v1h-1zM17 22h1v1h-1zM23 22h1v1h-1zM26 22h1v1h-1zM27 22h1v1h-1zM32 22h1v1h-1zM40 22h1v1h-1zM43 22h1v1h-1zM1 23h1v1h-1zM4 23h1v1h-1zM17 23h1v1h-1zM20 23h1v1h-1zM21 23h1v1h-1zM23 23h1v1h-1zM30 23h1v1h-1zM31 23h1v1h-1zM32 23h1v1h-1zM39 23h1v1h-1zM0 24h1v1h-1zM2 24h1v1h-1zM3 24h1v1h-1zM5 24h1v1h-1zM6 24h1v1h-1zM15 24h1v1h-1zM21 24h1v1h-1zM27 24h1v1h-1zM35 24h1v1h-1zM41 24h1v1h-1zM7 25h1v1h-1zM12 25h1v1h-1zM13 25h1v1h-1zM21 25h1v1h-1zM23 25h1v1h-1zM24 25h1v1h-1zM26 25h1v1h-1zM27 25h1v1h-1zM29 25h1v1h-1zM30 25h1v1h-1zM35 25h1v1h-1zM36 25h1v1h-1zM43 25h1v1h-1zM46 25h1v1h-1zM10 26h1v1h-1zM13 26h1v1h-1zM21 26h1v1h-1zM25 26h1v1h-1zM33 26h1v1h-1zM36 26h1v1h-1zM38 26h1v1h-1zM41 26h1v1h-1zM42 26h1v1h-1zM43 26h1v1h-1zM2 27h1v1h-1zM7 27h1v1h-1zM8 27h1v1h-1zM13 27h1v1h-1zM16 27h1v1h-1zM19 27h1v1h-1zM20 27h1v1h-1zM24 27h1v1h-1zM25 27h1v1h-1zM32 27h1v1h-1zM35 27h1v1h-1zM37 27h1v1h-1zM40 27h1v1h-1zM47 27h1v1h-1zM4 28h1v1h-1zM5 28h1v1h-1zM8 28h1v1h-1zM13 28h1v1h-1zM25 28h1v1h-1zM26 28h1v1h-1zM28 28h1v1h-1zM36 28h1v1h-1zM38 28h1v1h-1zM39 28h1v1h-1zM44 28h1v1h-1zM3 29h1v1h-1zM13 29h1v1h-1zM14 29h1v1h-1zM17 29h1v1h-1zM39 29h1v1h-1zM42 29h1v1h-1zM4 30h1v1h-1zM6 30h1v1h-1zM7 30h1v1h-1zM9 30h1v1h-1zM16 30h1v1h-1zM17 30h1v1h-1zM21 30h1v1h-1zM24 30h1v1h-1zM30 30h1v1h-1zM31 30h1v1h-1zM33 30h1v1h-1zM37 30h1v1h-1zM38 30h1v1h-1zM46 30h1v1h-1zM47 30h1v1h-1zM16 31h1v1h-1zM23 31h1v1h-1zM26 31h1v1h-1zM32 31h1v1h-1zM41 31h1v1h-1zM42 31h1v1h-1zM46 31h1v1h-1zM0 32h1v1h-1zM4 32h1v1h-1zM9 32h1v1h-1zM16 32h1v1h-1zM17 32h1v1h-1zM19 32h1v1h-1zM24 32h1v1h-1zM41 32h1v1h-1zM44 32h1v1h-1zM45 32h1v1h-1zM10 33h1v1h-1zM15 33h1v1h-1zM16 33h1v1h-1zM22 33h1v1h-1zM28 33h1v1h-1zM29 33h1v1h-1zM36 33h1v1h-1zM42 33h1v1h-1zM45 33h1v1h-1zM8 34h1v1h-1zM15 34h1v1h-1zM19 34h1v1h-1zM23 34h1v1h-1zM29 34h1v1h-1zM32 34h1v1h-1zM33 34h1v1h-1zM35 34h1v1h-1zM37 34h1v1h-1zM38 34h1v1h-1zM39 34h1v1h-1zM40 34h1v1h-1zM44 34h1v1h-1zM0 35h1v1h-1zM1 35h1v1h-1zM5 35h1v1h-1zM7 35h1v1h-1zM17 35h1v1h-1zM20 35h1v1h-1zM23 35h1v1h-1zM25 35h1v1h-1zM28 35h1v1h-1zM30 35h1v1h-1zM33 35h1v1h-1zM34 35h1v1h-1zM37 35h1v1h-1zM39 35h1v1h-1zM47 35h1v1h-1zM0 36h1v1h-1zM1 36h1v1h-1zM5 36h1v1h-1zM9 36h1v1h-1zM14 36h1v1h-1zM19 36h1v1h-1zM25 36h1v1h-1zM40 36h1v1h-1zM45 36h1v1h-1zM2 37h1v1h-1zM3 37h1v1h-1zM8 37h1v1h-1zM12 37h1v1h-1zM18 37h1v1h-1zM23 37h1v1h-1zM24 37h1v1h-1zM26 37h1v1h-1zM34 37h1v1h-1zM37 37h1v1h-1zM0 38h1v1h-1zM1 38h1v1h-1zM3 38h1v1h-1zM8 38h1v1h-1zM9 38h1v1h-1zM12 38h1v1h-1zM14 38h1v1h-1zM15 38h1v1h-1zM17 38h1v1h-1zM20 38h1v1h-1zM21 38h1v1h-1zM30 38h1v1h-1zM32 38h1v1h-1zM36 38h1v1h-1zM41 38h1v1h-1zM45 38h1v1h-1zM4 39h1v1h-1zM15 39h1v1h-1zM26 39h1v1h-1zM29 39h1v1h-1zM37 39h1v1h-1zM39 39h1v1h-1zM40 39h1v1h-1zM43 39h1v1h-1zM44 39h1v1h-1zM46 39h1v1h-1zM0 40h1v1h-1zM6 40h1v1h-1zM7 40h1v1h-1zM8 40h1v1h-1zM12 40h1v1h-1zM41 40h1v1h-1zM5 41h1v1h-1zM12 41h1v1h-1zM14 41h1v1h-1zM15 41h1v1h-1zM19 41h1v1h-1zM20 41h1v1h-1zM21 41h1v1h-1zM30 41h1v1h-1zM32 41h1v1h-1zM46 41h1v1h-1zM1 42h1v1h-1zM3 42h1v1h-1zM4 42h1v1h-1zM5 42h1v1h-1zM6 42h1v1h-1zM8 42h1v1h-1zM10 42h1v1h-1zM11 42h1v1h-1zM14 42h1v1h-1zM16 42h1v1h-1zM17 42h1v1h-1zM20 42h1v1h-1zM25 42h1v1h-1zM32 42h1v1h-1zM36 42h1v1h-1zM43 42h1v1h-1zM11 43h1v1h-1zM14 43h1v1h-1zM16 43h1v1h-1zM19 43h1v1h-1zM26 43h1v1h-1zM36 43h1v1h-1zM1 44h1v1h-1zM3 44h1v1h-1zM13 44h1v1h-1zM21 44h1v1h-1zM23 44h1v1h-1zM26 44h1v1h-1zM27 44h1v1h-1zM29 44h1v1h-1zM35 44h1v1h-1zM41 44h1v1h-1zM42 44h1v1h-1zM2 45h1v1h-1zM6 45h1v1h-1zM7 45h1v1h-1zM16 45h1v1h-1zM17 45h1v1h-1zM19 45h1v1h-1zM22 45h1v1h-1zM29 45h1v1h-1zM42 45h1v1h-1zM17 46h1v1h-1zM18 46h1v1h-1zM25 46h1v1h-1zM27 46h1v1h-1zM28 46h1v1h-1zM29 46h1v1h-1zM35 46h1v1h-1zM38 46h1v1h-1zM42 46h1v1h-1zM44 46h1v1h-1zM46 46h1v1h-1zM12 47h1v1h-1zM17 47h1v1h-1zM22 47h1v1h-1zM24 47h1v1h-1zM26 47h1v1h-1zM27 47h1v1h-1zM28 47h1v1h-1zM30 47h1v1h-1zM34 47h1v1h-1zM41 47h1v1h-1zM45 47h1v1h-1z"/><path fill="#9f9f9f" d="M6 0h1v1h-1zM17 0h1v1h-1zM24 0h1v1h-1zM25 0h1v1h-1zM31 0h1v1h-1zM34 0h1v1h-1zM39 0h1v1h-1zM42 0h1v1h-1zM3 1h1v1h-1zM4 1h1v1h-1zM9 1h1v1h-1zM17 1h1v1h-1zM22 1h1v1h-1zM47 1h1v1h-1zM1 2h1v1h-1zM6 2h1v1h-1zM12 2h1v1h-1zM15 2h1v1h-1zM16 2h1v1h-1zM20 2h1v1h-1zM23 2h1v1h-1zM28 2h1v1h-1zM35 2h1v1h-1zM39 2h1v1h-1zM43 2h1v1h-1zM46 2h1v1h-1zM12 3h1v1h-1zM15 3h1v1h-1zM17 3h1v1h-1zM23 3h1v1h-1zM28 3h1v1h-1zM41 3h1v1h-1zM6 4h1v1h-1zM11 4h1v1h-1zM24 4h1v1h-1zM25 4h1v1h-1zM29 4h1v1h-1zM30 4h1v1h-1zM31 4h1v1h-1zM41 4h1v1h-1zM46 4h1v1h-1zM6 5h1v1h-1zM7 5h1v1h-1zM16 5h1v1h-1zM19 5h1v1h-1zM25 5h1v1h-1zM33 5h1v1h-1zM34 5h1v1h-1zM36 5h1v1h-1zM43 5h1v1h-1zM5 6h1v1h-1zM16 6h1v1h-1zM19 6h1v1h-1zM29 6h1v1h-1zM32 6h1v1h-1zM45 6h1v1h-1zM47 6h1v1h-1zM8 7h1v1h-1zM12 7h1v1h-1zM13 7h1v1h-1zM17 7h1v1h-1zM26 7h1v1h-1zM29 7h1v1h-1zM34 7h1v1h-1zM35 7h1v1h-1zM38 7h1v1h-1zM44 7h1v1h-1zM47 7h1v1h-1zM2 8h1v1h-1zM4 8h1v1h-1zM5 8h1v1h-1zM10 8h1v1h-1zM13 8h1v1h-1zM20 8h1v1h-1zM22 8h1v1h-1zM23 8h1v1h-1zM28 8h1v1h-1zM38 8h1v1h-1zM41 8h1v1h-1zM1 9h1v1h-1zM2 9h1v1h-1zM11 9h1v1h-1zM13 9h1v1h-1zM21 9h1v1h-1zM25 9h1v1h-1zM30 9h1v1h-1zM35 9h1v1h-1zM44 9h1v1h-1zM47 9h1v1h-1zM4 10h1v1h-1zM16 10h1v1h-1zM18 10h1v1h-1zM20 10h1v1h-1zM28 10h1v1h-1zM34 10h1v1h-1zM45 10h1v1h-1zM1 11h1v1h-1zM5 11h1v1h-1zM8 11h1v1h-1zM14 11h1v1h-1zM35 11h1v1h-1zM45 11h1v1h-1zM47 11h1v1h-1zM2 12h1v1h-1zM7 12h1v1h-1zM8 12h1v1h-1zM13 12h1v1h-1zM15 12h1v1h-1zM16 12h1v1h-1zM31 12h1v1h-1zM42 12h1v1h-1zM46 12h1v1h-1zM47 12h1v1h-1zM0 13h1v1h-1zM2 13h1v1h-1zM4 13h1v1h-1zM5 13h1v1h-1zM17 13h1v1h-1zM19 13h1v1h-1zM23 13h1v1h-1zM27 13h1v1h-1zM28 13h1v1h-1zM35 13h1v1h-1zM46 13h1v1h-1zM5 14h1v1h-1zM9 14h1v1h-1zM17 14h1v1h-1zM18 14h1v1h-1zM24 14h1v1h-1zM27 14h1v1h-1zM30 14h1v1h-1zM41 14h1v1h-1zM0 15h1v1h-1zM3 15h1v1h-1zM5 15h1v1h-1zM7 15h1v1h-1zM21 15h1v1h-1zM23 15h1v1h-1zM32 15h1v1h-1zM33 15h1v1h-1zM36 15h1v1h-1zM43 15h1v1h-1zM44 15h1v1h-1zM8 16h1v1h-1zM12 16h1v1h-1zM15 16h1v1h-1zM19 16h1v1h-1zM21 16h1v1h-1zM28 16h1v1h-1zM29 16h1v1h-1zM40 16h1v1h-1zM42 16h1v1h-1zM43 16h1v1h-1zM45 16h1v1h-1zM5 17h1v1h-1zM8 17h1v1h-1zM21 17h1v1h-1zM25 17h1v1h-1zM27 17h1v1h-1zM34 17h1v1h-1zM36 17h1v1h-1zM37 17h1v1h-1zM46 17h1v1h-1zM2 18h1v1h-1zM14 18h1v1h-1zM16 18h1v1h-1zM17 18h1v1h-1zM20 18h1v1h-1zM26 18h1v1h-1zM40 18h1v1h-1zM42 18h1v1h-1zM6 19h1v1h-1zM9 19h1v1h-1zM10 19h1v1h-1zM14 19h1v1h-1zM15 19h1v1h-1zM18 19h1v1h-1zM34 19h1v1h-1zM42 19h1v1h-1zM3 20h1v1h-1zM4 20h1v1h-1zM15 20h1v1h-1zM22 20h1v1h-1zM28 20h1v1h-1zM39 20h1v1h-1zM43 20h1v1h-1zM21 21h1v1h-1zM27 21h1v1h-1zM35 21h1v1h-1zM1 22h1v1h-1zM6 22h1v1h-1zM8 22h1v1h-1zM10 22h1v1h-1zM31 22h1v1h-1zM33 22h1v1h-1zM35 22h1v1h-1zM37 22h1v1h-1zM39 22h1v1h-1zM3 23h1v1h-1zM6 23h1v1h-1zM8 23h1v1h-1zM16 23h1v1h-1zM24 23h1v1h-1zM33 23h1v1h-1zM38 23h1v1h-1zM45 23h1v1h-1zM9 24h1v1h-1zM18 24h1v1h-1zM25 24h1v1h-1zM26 24h1v1h-1zM29 24h1v1h-1zM34 24h1v1h-1zM37 24h1v1h-1zM42 24h1v1h-1zM44 24h1v1h-1zM6 25h1v1h-1zM8 25h1v1h-1zM9 25h1v1h-1zM11 25h1v1h-1zM14 25h1v1h-1zM19 25h1v1h-1zM22 25h1v1h-1zM32 25h1v1h-1zM3 26h1v1h-1zM11 26h1v1h-1zM14 26h1v1h-1zM16 26h1v1h-1zM17 26h1v1h-1zM19 26h1v1h-1zM22 26h1v1h-1zM26 26h1v1h-1zM32 26h1v1h-1zM14 27h1v1h-1zM18 27h1v1h-1zM22 27h1v1h-1zM28 27h1v1h-1zM29 27h1v1h-1zM31 27h1v1h-1zM33 27h1v1h-1zM43 27h1v1h-1zM45 27h1v1h-1zM2 28h1v1h-1zM7 28h1v1h-1zM9 28h1v1h-1zM14 28h1v1h-1zM20 28h1v1h-1zM24 28h1v1h-1zM31 28h1v1h-1zM46 28h1v1h-1zM0 29h1v1h-1zM4 29h1v1h-1zM8 29h1v1h-1zM16 29h1v1h-1zM19 29h1v1h-1zM23 29h1v1h-1zM31 29h1v1h-1zM33 29h1v1h-1zM40 29h1v1h-1zM44 29h1v1h-1zM45 29h1v1h-1zM10 30h1v1h-1zM13 30h1v1h-1zM14 30h1v1h-1zM18 30h1v1h-1zM26 30h1v1h-1zM39 30h1v1h-1zM44 30h1v1h-1zM45 30h1v1h-1zM2 31h1v1h-1zM4 31h1v1h-1zM7 31h1v1h-1zM12 31h1v1h-1zM17 31h1v1h-1zM19 31h1v1h-1zM20 31h1v1h-1zM35 31h1v1h-1zM38 31h1v1h-1zM43 31h1v1h-1zM44 31h1v1h-1zM5 32h1v1h-1zM6 32h1v1h-1zM12 32h1v1h-1zM13 32h1v1h-1zM22 32h1v1h-1zM26 32h1v1h-1zM31 32h1v1h-1zM32 32h1v1h-1zM33 32h1v1h-1zM38 32h1v1h-1zM0 33h1v1h-1zM4 33h1v1h-1zM7 33h1v1h-1zM8 33h1v1h-1zM9 33h1v1h-1zM11 33h1v1h-1zM18 33h1v1h-1zM24 33h1v1h-1zM25 33h1v1h-1zM26 33h1v1h-1zM32 33h1v1h-1zM34 33h1v1h-1zM40 33h1v1h-1zM1 34h1v1h-1zM9 34h1v1h-1zM14 34h1v1h-1zM31 34h1v1h-1zM36 34h1v1h-1zM42 34h1v1h-1zM47 34h1v1h-1zM3 35h1v1h-1zM13 35h1v1h-1zM16 35h1v1h-1zM24 35h1v1h-1zM27 35h1v1h-1zM29 35h1v1h-1zM43 35h1v1h-1zM17 36h1v1h-1zM21 36h1v1h-1zM30 36h1v1h-1zM32 36h1v1h-1zM43 36h1v1h-1zM5 37h1v1h-1zM9 37h1v1h-1zM11 37h1v1h-1zM13 37h1v1h-1zM14 37h1v1h-1zM17 37h1v1h-1zM22 37h1v1h-1zM29 37h1v1h-1zM38 37h1v1h-1zM41 37h1v1h-1zM45 37h1v1h-1zM46 37h1v1h-1zM19 38h1v1h-1zM23 38h1v1h-1zM25 38h1v1h-1zM27 38h1v1h-1zM28 38h1v1h-1zM34 38h1v1h-1zM35 38h1v1h-1zM37 38h1v1h-1zM11 39h1v1h-1zM17 39h1v1h-1zM31 39h1v1h-1zM45 39h1v1h-1zM3 40h1v1h-1zM13 40h1v1h-1zM14 40h1v1h-1zM16 40h1v1h-1zM17 40h1v1h-1zM20 40h1v1h-1zM22 40h1v1h-1zM24 40h1v1h-1zM33 40h1v1h-1zM34 40h1v1h-1zM35 40h1v1h-1zM39 40h1v1h-1zM44 40h1v1h-1zM46 40h1v1h-1zM47 40h1v1h-1zM9 41h1v1h-1zM10 41h1v1h-1zM13 41h1v1h-1zM16 41h1v1h-1zM17 41h1v1h-1zM24 41h1v1h-1zM25 41h1v1h-1zM34 41h1v1h-1zM0 42h1v1h-1zM7 42h1v1h-1zM13 42h1v1h-1zM19 42h1v1h-1zM23 42h1v1h-1zM27 42h1v1h-1zM29 42h1v1h-1zM35 42h1v1h-1zM38 42h1v1h-1zM46 42h1v1h-1zM47 42h1v1h-1zM0 43h1v1h-1zM5 43h1v1h-1zM7 43h1v1h-1zM12 43h1v1h-1zM17 43h1v1h-1zM22 43h1v1h-1zM30 43h1v1h-1zM31 43h1v1h-1zM33 43h1v1h-1zM34 43h1v1h-1zM35 43h1v1h-1zM38 43h1v1h-1zM44 43h1v1h-1zM45 43h1v1h-1zM47 43h1v1h-1zM2 44h1v1h-1zM5 44h1v1h-1zM10 44h1v1h-1zM11 44h1v1h-1zM15 44h1v1h-1zM16 44h1v1h-1zM22 44h1v1h-1zM30 44h1v1h-1zM39 44h1v1h-1zM24 45h1v1h-1zM27 45h1v1h-1zM36 45h1v1h-1zM38 45h1v1h-1zM39 45h1v1h-1zM15 46h1v1h-1zM16 46h1v1h-1zM24 46h1v1h-1zM26 46h1v1h-1zM32 46h1v1h-1zM36 46h1v1h-1zM41 46h1v1h-1zM45 46h1v1h-1zM0 47h1v1h-1zM1 47h1v1h-1zM2 47h1v1h-1zM13 47h1v1h-1zM15 47h1v1h-1zM20 47h1v1h-1zM21 47h1v1h-1zM33 47h1v1h-1zM39 47h1v1h-1zM40 47h1v1h-1zM42 47h1v1h-1z"/><path fill="#bfbfbf" d="M2 0h1v1h-1zM4 0h1v1h-1zM10 0h1v1h-1zM23 0h1v1h-1zM40 0h1v1h-1zM2 1h1v1h-1zM16 1h1v1h-1zM27 1h1v1h-1zM28 1h1v1h-1zM0 2h1v1h-1zM2 2h1v1h-1zM3 2h1v1h-1zM24 2h1v1h-1zM26 2h1v1h-1zM31 2h1v1h-1zM38 2h1v1h-1zM2 3h1v1h-1zM24 3h1v1h-1zM40 3h1v1h-1zM10 4h1v1h-1zM35 4h1v1h-1zM39 4h1v1h-1zM45 4h1v1h-1zM27 5h1v1h-1zM35 5h1v1h-1zM2 6h1v1h-1zM24 6h1v1h-1zM26 6h1v1h-1zM27 6h1v1h-1zM31 6h1v1h-1zM33 6h1v1h-1zM34 6h1v1h-1zM38 6h1v1h-1zM40 6h1v1h-1zM42 6h1v1h-1zM1 7h1v1h-1zM30 7h1v1h-1zM36 7h1v1h-1zM6 8h1v1h-1zM24 8h1v1h-1zM27 8h1v1h-1zM32 8h1v1h-1zM35 8h1v1h-1zM36 8h1v1h-1zM40 8h1v1h-1zM3 9h1v1h-1zM4 9h1v1h-1zM8 9h1v1h-1zM20 9h1v1h-1zM24 9h1v1h-1zM29 9h1v1h-1zM37 9h1v1h-1zM43 9h1v1h-1zM2 10h1v1h-1zM10 10h1v1h-1zM32 10h1v1h-1zM33 10h1v1h-1zM0 11h1v1h-1zM4 11h1v1h-1zM9 11h1v1h-1zM12 11h1v1h-1zM29 11h1v1h-1zM37 11h1v1h-1zM44 11h1v1h-1zM4 12h1v1h-1zM21 12h1v1h-1zM29 12h1v1h-1zM9 13h1v1h-1zM24 13h1v1h-1zM2 14h1v1h-1zM10 14h1v1h-1zM12 14h1v1h-1zM14 14h1v1h-1zM23 14h1v1h-1zM35 14h1v1h-1zM42 14h1v1h-1zM46 14h1v1h-1zM1 15h1v1h-1zM16 15h1v1h-1zM25 15h1v1h-1zM35 15h1v1h-1zM1 16h1v1h-1zM2 16h1v1h-1zM16 16h1v1h-1zM20 16h1v1h-1zM26 16h1v1h-1zM33 16h1v1h-1zM11 17h1v1h-1zM13 17h1v1h-1zM14 17h1v1h-1zM26 17h1v1h-1zM40 17h1v1h-1zM4 18h1v1h-1zM7 18h1v1h-1zM10 18h1v1h-1zM24 19h1v1h-1zM28 19h1v1h-1zM29 19h1v1h-1zM40 19h1v1h-1zM17 20h1v1h-1zM31 20h1v1h-1zM40 20h1v1h-1zM12 21h1v1h-1zM17 21h1v1h-1zM33 21h1v1h-1zM36 21h1v1h-1zM41 21h1v1h-1zM45 21h1v1h-1zM47 21h1v1h-1zM14 22h1v1h-1zM20 22h1v1h-1zM22 22h1v1h-1zM0 23h1v1h-1zM15 23h1v1h-1zM18 23h1v1h-1zM25 23h1v1h-1zM40 23h1v1h-1zM46 23h1v1h-1zM7 24h1v1h-1zM11 24h1v1h-1zM20 24h1v1h-1zM23 24h1v1h-1zM24 24h1v1h-1zM33 24h1v1h-1zM17 25h1v1h-1zM20 25h1v1h-1zM25 25h1v1h-1zM28 25h1v1h-1zM37 25h1v1h-1zM38 25h1v1h-1zM39 25h1v1h-1zM42 25h1v1h-1zM45 25h1v1h-1zM1 26h1v1h-1zM4 26h1v1h-1zM6 26h1v1h-1zM7 26h1v1h-1zM8 26h1v1h-1zM20 26h1v1h-1zM31 26h1v1h-1zM35 26h1v1h-1zM39 26h1v1h-1zM45 26h1v1h-1zM3 27h1v1h-1zM5 27h1v1h-1zM6 27h1v1h-1zM26 27h1v1h-1zM3 28h1v1h-1zM6 28h1v1h-1zM16 28h1v1h-1zM21 28h1v1h-1zM30 28h1v1h-1zM2 29h1v1h-1zM6 29h1v1h-1zM15 29h1v1h-1zM20 29h1v1h-1zM24 29h1v1h-1zM25 29h1v1h-1zM28 29h1v1h-1zM32 29h1v1h-1zM38 29h1v1h-1zM43 29h1v1h-1zM1 30h1v1h-1zM5 30h1v1h-1zM11 30h1v1h-1zM41 30h1v1h-1zM42 30h1v1h-1zM9 31h1v1h-1zM18 31h1v1h-1zM28 31h1v1h-1zM37 31h1v1h-1zM2 32h1v1h-1zM8 32h1v1h-1zM36 32h1v1h-1zM46 32h1v1h-1zM17 33h1v1h-1zM19 33h1v1h-1zM20 33h1v1h-1zM21 33h1v1h-1zM31 33h1v1h-1zM41 33h1v1h-1zM0 34h1v1h-1zM3 34h1v1h-1zM4 34h1v1h-1zM10 34h1v1h-1zM11 34h1v1h-1zM43 34h1v1h-1zM4 35h1v1h-1zM8 35h1v1h-1zM9 35h1v1h-1zM40 35h1v1h-1zM41 35h1v1h-1zM4 36h1v1h-1zM10 36h1v1h-1zM23 36h1v1h-1zM35 36h1v1h-1zM44 36h1v1h-1zM0 37h1v1h-1zM1 37h1v1h-1zM15 37h1v1h-1zM21 37h1v1h-1zM31 37h1v1h-1zM35 37h1v1h-1zM36 37h1v1h-1zM26 38h1v1h-1zM6 39h1v1h-1zM10 39h1v1h-1zM18 39h1v1h-1zM32 39h1v1h-1zM38 39h1v1h-1zM4 40h1v1h-1zM10 40h1v1h-1zM25 40h1v1h-1zM37 40h1v1h-1zM38 40h1v1h-1zM45 40h1v1h-1zM0 41h1v1h-1zM8 41h1v1h-1zM23 41h1v1h-1zM35 41h1v1h-1zM42 41h1v1h-1zM47 41h1v1h-1zM24 42h1v1h-1zM33 42h1v1h-1zM39 42h1v1h-1zM44 42h1v1h-1zM4 43h1v1h-1zM20 43h1v1h-1zM24 43h1v1h-1zM29 43h1v1h-1zM40 43h1v1h-1zM42 43h1v1h-1zM0 44h1v1h-1zM24 44h1v1h-1zM31 44h1v1h-1zM36 44h1v1h-1zM38 44h1v1h-1zM40 44h1v1h-1zM44 44h1v1h-1zM5 45h1v1h-1zM10 45h1v1h-1zM14 45h1v1h-1zM32 45h1v1h-1zM35 45h1v1h-1zM37 45h1v1h-1zM0 46h1v1h-1zM37 46h1v1h-1zM40 46h1v1h-1zM5 47h1v1h-1zM23 47h1v1h-1z"/><path fill="#dfdfdf" d="M3 0h1v1h-1zM33 0h1v1h-1zM35 0h1v1h-1zM35 1h1v1h-1zM39 1h1v1h-1zM4 2h1v1h-1zM33 3h1v1h-1zM43 3h1v1h-1zM45 3h1v1h-1zM14 4h1v1h-1zM17 4h1v1h-1zM22 4h1v1h-1zM27 4h1v1h-1zM3 5h1v1h-1zM9 5h1v1h-1zM10 5h1v1h-1zM12 5h1v1h-1zM14 5h1v1h-1zM23 5h1v1h-1zM37 5h1v1h-1zM7 6h1v1h-1zM20 6h1v1h-1zM36 6h1v1h-1zM9 7h1v1h-1zM22 7h1v1h-1zM46 7h1v1h-1zM29 8h1v1h-1zM43 8h1v1h-1zM10 9h1v1h-1zM14 9h1v1h-1zM39 9h1v1h-1zM42 9h1v1h-1zM13 10h1v1h-1zM29 10h1v1h-1zM18 11h1v1h-1zM30 11h1v1h-1zM41 11h1v1h-1zM3 12h1v1h-1zM6 12h1v1h-1zM12 12h1v1h-1zM23 12h1v1h-1zM24 12h1v1h-1zM34 12h1v1h-1zM10 13h1v1h-1zM16 13h1v1h-1zM41 13h1v1h-1zM16 14h1v1h-1zM19 14h1v1h-1zM40 14h1v1h-1zM31 15h1v1h-1zM5 16h1v1h-1zM9 16h1v1h-1zM36 16h1v1h-1zM6 17h1v1h-1zM38 17h1v1h-1zM9 18h1v1h-1zM26 19h1v1h-1zM35 19h1v1h-1zM46 19h1v1h-1zM5 20h1v1h-1zM16 20h1v1h-1zM32 20h1v1h-1zM38 21h1v1h-1zM46 21h1v1h-1zM3 22h1v1h-1zM24 22h1v1h-1zM46 22h1v1h-1zM14 24h1v1h-1zM16 24h1v1h-1zM38 24h1v1h-1zM5 25h1v1h-1zM31 25h1v1h-1zM2 26h1v1h-1zM9 26h1v1h-1zM29 26h1v1h-1zM44 26h1v1h-1zM46 26h1v1h-1zM9 27h1v1h-1zM12 27h1v1h-1zM39 27h1v1h-1zM42 27h1v1h-1zM11 28h1v1h-1zM27 28h1v1h-1zM7 29h1v1h-1zM2 30h1v1h-1zM35 30h1v1h-1zM0 31h1v1h-1zM30 31h1v1h-1zM20 32h1v1h-1zM37 32h1v1h-1zM3 33h1v1h-1zM37 33h1v1h-1zM44 33h1v1h-1zM25 34h1v1h-1zM12 35h1v1h-1zM35 35h1v1h-1zM45 35h1v1h-1zM7 36h1v1h-1zM11 36h1v1h-1zM28 36h1v1h-1zM36 36h1v1h-1zM6 37h1v1h-1zM16 37h1v1h-1zM40 37h1v1h-1zM6 38h1v1h-1zM10 38h1v1h-1zM11 38h1v1h-1zM47 39h1v1h-1zM11 40h1v1h-1zM36 40h1v1h-1zM31 41h1v1h-1zM36 41h1v1h-1zM40 41h1v1h-1zM43 41h1v1h-1zM45 41h1v1h-1zM12 42h1v1h-1zM28 42h1v1h-1zM40 42h1v1h-1zM41 42h1v1h-1zM8 43h1v1h-1zM37 43h1v1h-1zM7 44h1v1h-1zM1 45h1v1h-1zM9 45h1v1h-1zM15 45h1v1h-1zM23 45h1v1h-1zM41 45h1v1h-1zM47 45h1v1h-1zM4 46h1v1h-1zM14 46h1v1h-1zM33 46h1v1h-1zM47 46h1v1h-1zM3 47h1v1h-1zM4 47h1v1h-1z"/><path fill="#ffffff" d="M21 1h1v1h-1zM13 2h1v1h-1zM22 2h1v1h-1zM25 2h1v1h-1zM22 3h1v1h-1zM18 4h1v1h-1zM32 4h1v1h-1zM14 6h1v1h-1zM20 7h1v1h-1zM32 7h1v1h-1zM34 9h1v1h-1zM14 10h1v1h-1zM27 10h1v1h-1zM22 11h1v1h-1zM31 11h1v1h-1zM38 11h1v1h-1zM25 14h1v1h-1zM0 16h1v1h-1zM39 16h1v1h-1zM2 17h1v1h-1zM0 20h1v1h-1zM1 20h1v1h-1zM14 20h1v1h-1zM23 20h1v1h-1zM33 20h1v1h-1zM18 21h1v1h-1zM34 21h1v1h-1zM44 21h1v1h-1zM13 22h1v1h-1zM34 25h1v1h-1zM28 26h1v1h-1zM10 27h1v1h-1zM9 29h1v1h-1zM11 29h1v1h-1zM11 31h1v1h-1zM27 33h1v1h-1zM43 33h1v1h-1zM13 38h1v1h-1zM22 38h1v1h-1zM31 38h1v1h-1zM42 38h1v1h-1zM1 40h1v1h-1zM2 40h1v1h-1zM2 41h1v1h-1zM26 41h1v1h-1zM26 42h1v1h-1zM7 46h1v1h-1zM16 47h1v1h-1zM47 47h1v1h-1z"/></pattern>
<clipPath id="ca"><rect x="47" y="56" width="537" height="479"/></clipPath>
<clipPath id="cb"><rect x="714" y="53" width="346" height="485"/></clipPath>
<clipPath id="cc"><rect x="1109" y="55" width="173" height="217"/></clipPath>
<clipPath id="cd"><rect x="1109" y="300" width="172" height="232"/></clipPath>
<clipPath id="cg"><rect x="706" y="598" width="482" height="647"/></clipPath>
</defs>
<rect x="0" y="0" width="1350" height="1304" fill="#fff"/>

<g clip-path="url(#ca)">
<rect x="47" y="56" width="537" height="479" fill="#e0901e"/>
<g filter="url(#b12)" fill="none" stroke-linecap="round" stroke-linejoin="round">
<path d="M150,95 L290,95" stroke="#e4a826" stroke-width="50" opacity="0.7"/>
<path d="M470,80 L584,110" stroke="#e4a826" stroke-width="70" opacity="0.6"/>
<path d="M240,215 L370,215" stroke="#e6ac2a" stroke-width="60" opacity="0.7"/>
<path d="M60,200 L180,200" stroke="#e2a024" stroke-width="50" opacity="0.5"/>
<path d="M47,265 L160,222 L301,128 L445,205 L584,255" stroke="#d46624" stroke-width="34" opacity="0.8"/>
<path d="M47,318 L150,390 L206,440 L245,472" stroke="#d86e28" stroke-width="28" opacity="0.75"/>
<path d="M60,385 L150,450 L240,505 L320,540" stroke="#eec438" stroke-width="46" opacity="1"/>
<path d="M250,500 L450,500" stroke="#e8b42c" stroke-width="50" opacity="0.8"/>
<path d="M390,340 L584,410" stroke="#da7428" stroke-width="50" opacity="0.55"/>
<path d="M400,480 L500,455 L570,420" stroke="#e8b42c" stroke-width="34" opacity="0.8"/>
</g>
<g filter="url(#b8)">
<path d="M198,275 C190,330 192,420 220,468" fill="none" stroke="#c85a2a" stroke-width="14" opacity="0.9"/>
<ellipse cx="226" cy="265" rx="14" ry="16" fill="#cc6230" opacity="0.7"/>
<ellipse cx="305" cy="130" rx="32" ry="20" fill="#cb6432" opacity="0.8"/>
</g>
<g filter="url(#b8)"><path d="M47,380 L47,440 L120,500 L200,535 L260,535 L200,490 L120,445 Z" fill="#f2d060" opacity="0.9"/><path d="M584,390 L584,450 L510,535 L440,535 L520,460 Z" fill="#f2d060" opacity="0.9"/></g>
<g filter="url(#b3)">
<path d="M47,405 L47,447 L69,462 L88,474 L99,488 L106,500 L118,505 L137,506 L157,511 L176,520 L192,535 L228,535 L205,512 L172,490 L140,470 L110,450 L80,428 Z" fill="#f7f3ea"/>
<path d="M584,414 L584,458 L560,480 L540,503 L524,520 L514,535 L468,535 L490,505 L520,472 L552,442 Z" fill="#f7f3ea"/>
</g>
<g filter="url(#b2)">
<path d="M47,447 L69,463 L88,475 L99,489 L106,502 L118,507 L137,508 L157,513 L176,522 L190,535 L47,535 Z" fill="#c03a26"/>
<path d="M584,460 L562,481 L542,504 L526,521 L516,535 L584,535 Z" fill="#c03a26"/>
</g>
<g filter="url(#b3)">
<path d="M47,455 L66,468 L84,480 L95,494 L102,508 L116,513 L137,514 L155,519 L170,527 L180,535 L47,535 Z" fill="#3a0e14"/>
<path d="M584,470 L566,487 L548,508 L533,524 L524,535 L584,535 Z" fill="#300a10"/>
<ellipse cx="70" cy="500" rx="22" ry="25" fill="#100405"/>
<ellipse cx="130" cy="528" rx="30" ry="8" fill="#100405"/>
<ellipse cx="560" cy="515" rx="20" ry="14" fill="#120405"/>
</g>
<linearGradient id="ringA" x1="0" y1="0" x2="0" y2="1"><stop offset="0" stop-color="#f0d24a"/><stop offset="0.3" stop-color="#f8f2e0"/><stop offset="0.5" stop-color="#ffffff"/><stop offset="0.8" stop-color="#fbf6e8"/><stop offset="1" stop-color="#f6e6a8"/></linearGradient>
<g filter="url(#b5)"><ellipse cx="293" cy="356" rx="76" ry="105" fill="none" stroke="#f2c640" stroke-width="26" opacity="0.8"/></g>
<g filter="url(#b2)"><ellipse cx="293" cy="357" rx="72" ry="103" fill="none" stroke="url(#ringA)" stroke-width="13"/></g>
<g filter="url(#b2)">
<ellipse cx="297" cy="358" rx="67" ry="71" fill="#c44a2c"/>
<ellipse cx="297" cy="358" rx="63" ry="67" fill="#5a1620"/>
<ellipse cx="297" cy="358" rx="58" ry="62" fill="#050102"/>
</g>
<g filter="url(#b5)"><ellipse cx="385" cy="80" rx="55" ry="26" fill="#d2582c" opacity="0.55"/></g>
<g filter="url(#b2)"><path d="M364,84 L380,78 L402,79 L420,88 L436,96 L432,108 L414,109 L396,104 L378,104 L368,96 Z" fill="#b8404a" opacity="0.9"/><ellipse cx="383" cy="91" rx="12" ry="6" fill="#8e3058" opacity="0.7"/><ellipse cx="418" cy="99" rx="10" ry="5" fill="#8a2c5a" opacity="0.7"/><path d="M330,56 L352,56 L349,66 L340,68 L333,62 Z" fill="#9a3a50"/><circle cx="561" cy="448" r="6" fill="#c0402a"/></g>
<g filter="url(#b1)"><ellipse cx="397" cy="89.5" rx="6" ry="4" fill="#100404"/><circle cx="62" cy="250" r="5.5" fill="#0a0202"/></g>
<rect x="47" y="56" width="537" height="479" fill="url(#np1)" style="mix-blend-mode:overlay" opacity="0.5"/>
</g>
<rect x="47" y="56" width="537" height="1.6" fill="#8c8858" opacity="0.85"/>
<rect x="592" y="61" width="43" height="475" fill="url(#cm)"/>
<rect x="58" y="83" width="102" height="5.5" fill="#000"/>
<line x1="301" y1="357.5" x2="301" y2="167" stroke="#fff" stroke-width="3.6" stroke-dasharray="12.8 6.2"/>
<path d="M301,145 L313,166.5 L289.5,166.5 Z" fill="#fff"/>
<line x1="301" y1="357.6" x2="487" y2="357.6" stroke="#fff" stroke-width="3.6" stroke-dasharray="12.8 6"/>
<path d="M508,357.6 L486.5,346 L486.5,369.5 Z" fill="#fff"/>
<rect x="714" y="53" width="346" height="485" fill="#000"/>
<g clip-path="url(#cb)">
<g filter="url(#b1)">
<path d="M939.30,372.00 L939.28,369.70 L939.21,367.39 L939.09,365.10 L938.94,362.80 L938.73,360.51 L938.48,358.23 L938.19,355.96 L937.85,353.70 L937.47,351.46 L937.05,349.22 L936.59,347.01 L936.09,344.81 L935.55,342.62 L934.97,340.46 L934.35,338.32 L933.70,336.21 L933.02,334.12 L932.30,332.05 L931.54,330.01 L930.76,328.00 L929.95,326.02 L929.11,324.07 L928.24,322.16 L927.35,320.27 L926.44,318.43 L925.50,316.62 L924.54,314.85 L923.56,313.12 L922.57,311.42 L921.55,309.77 L920.53,308.17 L919.48,306.60 L918.43,305.08 L917.36,303.61 L916.28,302.18 L915.19,300.81 L914.10,299.48 L912.99,298.20 L911.88,296.97 L910.76,295.79 L909.64,294.66 L908.52,293.59 L907.39,292.57 L906.25,291.61 L905.12,290.70 L903.98,289.84 L902.84,289.05 L901.70,288.31 L900.56,287.62 L899.42,287.00 L898.28,286.43 L897.14,285.92 L895.99,285.47 L894.85,285.08 L893.71,284.75 L892.57,284.48 L891.42,284.27 L890.28,284.12 L889.14,284.03 L888.00,284.00 L886.86,284.03 L885.72,284.12 L884.58,284.27 L883.43,284.48 L882.29,284.75 L881.15,285.08 L880.01,285.47 L878.86,285.92 L877.72,286.43 L876.58,287.00 L875.44,287.62 L874.30,288.31 L873.16,289.05 L872.02,289.84 L870.88,290.70 L869.75,291.61 L868.61,292.57 L867.48,293.59 L866.36,294.66 L865.24,295.79 L864.12,296.97 L863.01,298.20 L861.90,299.48 L860.81,300.81 L859.72,302.18 L858.64,303.61 L857.57,305.08 L856.52,306.60 L855.47,308.17 L854.45,309.77 L853.43,311.42 L852.44,313.12 L851.46,314.85 L850.50,316.62 L849.56,318.43 L848.65,320.27 L847.76,322.16 L846.89,324.07 L846.05,326.02 L845.24,328.00 L844.46,330.01 L843.70,332.05 L842.98,334.12 L842.30,336.21 L841.65,338.32 L841.03,340.46 L840.45,342.62 L839.91,344.81 L839.41,347.01 L838.95,349.22 L838.53,351.46 L838.15,353.70 L837.81,355.96 L837.52,358.23 L837.27,360.51 L837.06,362.80 L836.91,365.10 L836.79,367.39 L836.72,369.70 L836.70,372.00 L836.72,374.30 L836.79,376.61 L836.91,378.90 L837.06,381.20 L837.27,383.49 L837.52,385.77 L837.81,388.04 L838.15,390.30 L838.53,392.54 L838.95,394.78 L839.41,396.99 L839.91,399.19 L840.45,401.38 L841.03,403.54 L841.65,405.68 L842.30,407.79 L842.98,409.88 L843.70,411.95 L844.46,413.99 L845.24,416.00 L846.05,417.98 L846.89,419.93 L847.76,421.84 L848.65,423.73 L849.56,425.57 L850.50,427.38 L851.46,429.15 L852.44,430.88 L853.43,432.58 L854.45,434.23 L855.47,435.83 L856.52,437.40 L857.57,438.92 L858.64,440.39 L859.72,441.82 L860.81,443.19 L861.90,444.52 L863.01,445.80 L864.12,447.03 L865.24,448.21 L866.36,449.34 L867.48,450.41 L868.61,451.43 L869.75,452.39 L870.88,453.30 L872.02,454.16 L873.16,454.95 L874.30,455.69 L875.44,456.38 L876.58,457.00 L877.72,457.57 L878.86,458.08 L880.01,458.53 L881.15,458.92 L882.29,459.25 L883.43,459.52 L884.58,459.73 L885.72,459.88 L886.86,459.97 L888.00,460.00 L889.14,459.97 L890.28,459.88 L891.42,459.73 L892.57,459.52 L893.71,459.25 L894.85,458.92 L895.99,458.53 L897.14,458.08 L898.28,457.57 L899.42,457.00 L900.56,456.38 L901.70,455.69 L902.84,454.95 L903.98,454.16 L905.12,453.30 L906.25,452.39 L907.39,451.43 L908.52,450.41 L909.64,449.34 L910.76,448.21 L911.88,447.03 L912.99,445.80 L914.10,444.52 L915.19,443.19 L916.28,441.82 L917.36,440.39 L918.43,438.92 L919.48,437.40 L920.53,435.83 L921.55,434.23 L922.57,432.58 L923.56,430.88 L924.54,429.15 L925.50,427.38 L926.44,425.57 L927.35,423.73 L928.24,421.84 L929.11,419.93 L929.95,417.98 L930.76,416.00 L931.54,413.99 L932.30,411.95 L933.02,409.88 L933.70,407.79 L934.35,405.68 L934.97,403.54 L935.55,401.38 L936.09,399.19 L936.59,396.99 L937.05,394.78 L937.47,392.54 L937.85,390.30 L938.19,388.04 L938.48,385.77 L938.73,383.49 L938.94,381.20 L939.09,378.90 L939.21,376.61 L939.28,374.30 Z" fill="none" stroke="#a01400" stroke-width="13.0"/>
<path d="M939.30,372.00 L939.28,369.70 L939.21,367.39 L939.09,365.10 L938.94,362.80 L938.73,360.51 L938.48,358.23 L938.19,355.96 L937.85,353.70 L937.47,351.46 L937.05,349.22 L936.59,347.01 L936.09,344.81 L935.55,342.62 L934.97,340.46 L934.35,338.32 L933.70,336.21 L933.02,334.12 L932.30,332.05 L931.54,330.01 L930.76,328.00 L929.95,326.02 L929.11,324.07 L928.24,322.16 L927.35,320.27 L926.44,318.43 L925.50,316.62 L924.54,314.85 L923.56,313.12 L922.57,311.42 L921.55,309.77 L920.53,308.17 L919.48,306.60 L918.43,305.08 L917.36,303.61 L916.28,302.18 L915.19,300.81 L914.10,299.48 L912.99,298.20 L911.88,296.97 L910.76,295.79 L909.64,294.66 L908.52,293.59 L907.39,292.57 L906.25,291.61 L905.12,290.70 L903.98,289.84 L902.84,289.05 L901.70,288.31 L900.56,287.62 L899.42,287.00 L898.28,286.43 L897.14,285.92 L895.99,285.47 L894.85,285.08 L893.71,284.75 L892.57,284.48 L891.42,284.27 L890.28,284.12 L889.14,284.03 L888.00,284.00 L886.86,284.03 L885.72,284.12 L884.58,284.27 L883.43,284.48 L882.29,284.75 L881.15,285.08 L880.01,285.47 L878.86,285.92 L877.72,286.43 L876.58,287.00 L875.44,287.62 L874.30,288.31 L873.16,289.05 L872.02,289.84 L870.88,290.70 L869.75,291.61 L868.61,292.57 L867.48,293.59 L866.36,294.66 L865.24,295.79 L864.12,296.97 L863.01,298.20 L861.90,299.48 L860.81,300.81 L859.72,302.18 L858.64,303.61 L857.57,305.08 L856.52,306.60 L855.47,308.17 L854.45,309.77 L853.43,311.42 L852.44,313.12 L851.46,314.85 L850.50,316.62 L849.56,318.43 L848.65,320.27 L847.76,322.16 L846.89,324.07 L846.05,326.02 L845.24,328.00 L844.46,330.01 L843.70,332.05 L842.98,334.12 L842.30,336.21 L841.65,338.32 L841.03,340.46 L840.45,342.62 L839.91,344.81 L839.41,347.01 L838.95,349.22 L838.53,351.46 L838.15,353.70 L837.81,355.96 L837.52,358.23 L837.27,360.51 L837.06,362.80 L836.91,365.10 L836.79,367.39 L836.72,369.70 L836.70,372.00 L836.72,374.30 L836.79,376.61 L836.91,378.90 L837.06,381.20 L837.27,383.49 L837.52,385.77 L837.81,388.04 L838.15,390.30 L838.53,392.54 L838.95,394.78 L839.41,396.99 L839.91,399.19 L840.45,401.38 L841.03,403.54 L841.65,405.68 L842.30,407.79 L842.98,409.88 L843.70,411.95 L844.46,413.99 L845.24,416.00 L846.05,417.98 L846.89,419.93 L847.76,421.84 L848.65,423.73 L849.56,425.57 L850.50,427.38 L851.46,429.15 L852.44,430.88 L853.43,432.58 L854.45,434.23 L855.47,435.83 L856.52,437.40 L857.57,438.92 L858.64,440.39 L859.72,441.82 L860.81,443.19 L861.90,444.52 L863.01,445.80 L864.12,447.03 L865.24,448.21 L866.36,449.34 L867.48,450.41 L868.61,451.43 L869.75,452.39 L870.88,453.30 L872.02,454.16 L873.16,454.95 L874.30,455.69 L875.44,456.38 L876.58,457.00 L877.72,457.57 L878.86,458.08 L880.01,458.53 L881.15,458.92 L882.29,459.25 L883.43,459.52 L884.58,459.73 L885.72,459.88 L886.86,459.97 L888.00,460.00 L889.14,459.97 L890.28,459.88 L891.42,459.73 L892.57,459.52 L893.71,459.25 L894.85,458.92 L895.99,458.53 L897.14,458.08 L898.28,457.57 L899.42,457.00 L900.56,456.38 L901.70,455.69 L902.84,454.95 L903.98,454.16 L905.12,453.30 L906.25,452.39 L907.39,451.43 L908.52,450.41 L909.64,449.34 L910.76,448.21 L911.88,447.03 L912.99,445.80 L914.10,444.52 L915.19,443.19 L916.28,441.82 L917.36,440.39 L918.43,438.92 L919.48,437.40 L920.53,435.83 L921.55,434.23 L922.57,432.58 L923.56,430.88 L924.54,429.15 L925.50,427.38 L926.44,425.57 L927.35,423.73 L928.24,421.84 L929.11,419.93 L929.95,417.98 L930.76,416.00 L931.54,413.99 L932.30,411.95 L933.02,409.88 L933.70,407.79 L934.35,405.68 L934.97,403.54 L935.55,401.38 L936.09,399.19 L936.59,396.99 L937.05,394.78 L937.47,392.54 L937.85,390.30 L938.19,388.04 L938.48,385.77 L938.73,383.49 L938.94,381.20 L939.09,378.90 L939.21,376.61 L939.28,374.30 Z" fill="none" stroke="#f07a18" stroke-width="11.0"/>
<path d="M939.30,372.00 L939.28,369.70 L939.21,367.39 L939.09,365.10 L938.94,362.80 L938.73,360.51 L938.48,358.23 L938.19,355.96 L937.85,353.70 L937.47,351.46 L937.05,349.22 L936.59,347.01 L936.09,344.81 L935.55,342.62 L934.97,340.46 L934.35,338.32 L933.70,336.21 L933.02,334.12 L932.30,332.05 L931.54,330.01 L930.76,328.00 L929.95,326.02 L929.11,324.07 L928.24,322.16 L927.35,320.27 L926.44,318.43 L925.50,316.62 L924.54,314.85 L923.56,313.12 L922.57,311.42 L921.55,309.77 L920.53,308.17 L919.48,306.60 L918.43,305.08 L917.36,303.61 L916.28,302.18 L915.19,300.81 L914.10,299.48 L912.99,298.20 L911.88,296.97 L910.76,295.79 L909.64,294.66 L908.52,293.59 L907.39,292.57 L906.25,291.61 L905.12,290.70 L903.98,289.84 L902.84,289.05 L901.70,288.31 L900.56,287.62 L899.42,287.00 L898.28,286.43 L897.14,285.92 L895.99,285.47 L894.85,285.08 L893.71,284.75 L892.57,284.48 L891.42,284.27 L890.28,284.12 L889.14,284.03 L888.00,284.00 L886.86,284.03 L885.72,284.12 L884.58,284.27 L883.43,284.48 L882.29,284.75 L881.15,285.08 L880.01,285.47 L878.86,285.92 L877.72,286.43 L876.58,287.00 L875.44,287.62 L874.30,288.31 L873.16,289.05 L872.02,289.84 L870.88,290.70 L869.75,291.61 L868.61,292.57 L867.48,293.59 L866.36,294.66 L865.24,295.79 L864.12,296.97 L863.01,298.20 L861.90,299.48 L860.81,300.81 L859.72,302.18 L858.64,303.61 L857.57,305.08 L856.52,306.60 L855.47,308.17 L854.45,309.77 L853.43,311.42 L852.44,313.12 L851.46,314.85 L850.50,316.62 L849.56,318.43 L848.65,320.27 L847.76,322.16 L846.89,324.07 L846.05,326.02 L845.24,328.00 L844.46,330.01 L843.70,332.05 L842.98,334.12 L842.30,336.21 L841.65,338.32 L841.03,340.46 L840.45,342.62 L839.91,344.81 L839.41,347.01 L838.95,349.22 L838.53,351.46 L838.15,353.70 L837.81,355.96 L837.52,358.23 L837.27,360.51 L837.06,362.80 L836.91,365.10 L836.79,367.39 L836.72,369.70 L836.70,372.00 L836.72,374.30 L836.79,376.61 L836.91,378.90 L837.06,381.20 L837.27,383.49 L837.52,385.77 L837.81,388.04 L838.15,390.30 L838.53,392.54 L838.95,394.78 L839.41,396.99 L839.91,399.19 L840.45,401.38 L841.03,403.54 L841.65,405.68 L842.30,407.79 L842.98,409.88 L843.70,411.95 L844.46,413.99 L845.24,416.00 L846.05,417.98 L846.89,419.93 L847.76,421.84 L848.65,423.73 L849.56,425.57 L850.50,427.38 L851.46,429.15 L852.44,430.88 L853.43,432.58 L854.45,434.23 L855.47,435.83 L856.52,437.40 L857.57,438.92 L858.64,440.39 L859.72,441.82 L860.81,443.19 L861.90,444.52 L863.01,445.80 L864.12,447.03 L865.24,448.21 L866.36,449.34 L867.48,450.41 L868.61,451.43 L869.75,452.39 L870.88,453.30 L872.02,454.16 L873.16,454.95 L874.30,455.69 L875.44,456.38 L876.58,457.00 L877.72,457.57 L878.86,458.08 L880.01,458.53 L881.15,458.92 L882.29,459.25 L883.43,459.52 L884.58,459.73 L885.72,459.88 L886.86,459.97 L888.00,460.00 L889.14,459.97 L890.28,459.88 L891.42,459.73 L892.57,459.52 L893.71,459.25 L894.85,458.92 L895.99,458.53 L897.14,458.08 L898.28,457.57 L899.42,457.00 L900.56,456.38 L901.70,455.69 L902.84,454.95 L903.98,454.16 L905.12,453.30 L906.25,452.39 L907.39,451.43 L908.52,450.41 L909.64,449.34 L910.76,448.21 L911.88,447.03 L912.99,445.80 L914.10,444.52 L915.19,443.19 L916.28,441.82 L917.36,440.39 L918.43,438.92 L919.48,437.40 L920.53,435.83 L921.55,434.23 L922.57,432.58 L923.56,430.88 L924.54,429.15 L925.50,427.38 L926.44,425.57 L927.35,423.73 L928.24,421.84 L929.11,419.93 L929.95,417.98 L930.76,416.00 L931.54,413.99 L932.30,411.95 L933.02,409.88 L933.70,407.79 L934.35,405.68 L934.97,403.54 L935.55,401.38 L936.09,399.19 L936.59,396.99 L937.05,394.78 L937.47,392.54 L937.85,390.30 L938.19,388.04 L938.48,385.77 L938.73,383.49 L938.94,381.20 L939.09,378.90 L939.21,376.61 L939.28,374.30 Z" fill="none" stroke="#fcd040" stroke-width="9.0"/>
<path d="M939.30,372.00 L939.28,369.70 L939.21,367.39 L939.09,365.10 L938.94,362.80 L938.73,360.51 L938.48,358.23 L938.19,355.96 L937.85,353.70 L937.47,351.46 L937.05,349.22 L936.59,347.01 L936.09,344.81 L935.55,342.62 L934.97,340.46 L934.35,338.32 L933.70,336.21 L933.02,334.12 L932.30,332.05 L931.54,330.01 L930.76,328.00 L929.95,326.02 L929.11,324.07 L928.24,322.16 L927.35,320.27 L926.44,318.43 L925.50,316.62 L924.54,314.85 L923.56,313.12 L922.57,311.42 L921.55,309.77 L920.53,308.17 L919.48,306.60 L918.43,305.08 L917.36,303.61 L916.28,302.18 L915.19,300.81 L914.10,299.48 L912.99,298.20 L911.88,296.97 L910.76,295.79 L909.64,294.66 L908.52,293.59 L907.39,292.57 L906.25,291.61 L905.12,290.70 L903.98,289.84 L902.84,289.05 L901.70,288.31 L900.56,287.62 L899.42,287.00 L898.28,286.43 L897.14,285.92 L895.99,285.47 L894.85,285.08 L893.71,284.75 L892.57,284.48 L891.42,284.27 L890.28,284.12 L889.14,284.03 L888.00,284.00 L886.86,284.03 L885.72,284.12 L884.58,284.27 L883.43,284.48 L882.29,284.75 L881.15,285.08 L880.01,285.47 L878.86,285.92 L877.72,286.43 L876.58,287.00 L875.44,287.62 L874.30,288.31 L873.16,289.05 L872.02,289.84 L870.88,290.70 L869.75,291.61 L868.61,292.57 L867.48,293.59 L866.36,294.66 L865.24,295.79 L864.12,296.97 L863.01,298.20 L861.90,299.48 L860.81,300.81 L859.72,302.18 L858.64,303.61 L857.57,305.08 L856.52,306.60 L855.47,308.17 L854.45,309.77 L853.43,311.42 L852.44,313.12 L851.46,314.85 L850.50,316.62 L849.56,318.43 L848.65,320.27 L847.76,322.16 L846.89,324.07 L846.05,326.02 L845.24,328.00 L844.46,330.01 L843.70,332.05 L842.98,334.12 L842.30,336.21 L841.65,338.32 L841.03,340.46 L840.45,342.62 L839.91,344.81 L839.41,347.01 L838.95,349.22 L838.53,351.46 L838.15,353.70 L837.81,355.96 L837.52,358.23 L837.27,360.51 L837.06,362.80 L836.91,365.10 L836.79,367.39 L836.72,369.70 L836.70,372.00 L836.72,374.30 L836.79,376.61 L836.91,378.90 L837.06,381.20 L837.27,383.49 L837.52,385.77 L837.81,388.04 L838.15,390.30 L838.53,392.54 L838.95,394.78 L839.41,396.99 L839.91,399.19 L840.45,401.38 L841.03,403.54 L841.65,405.68 L842.30,407.79 L842.98,409.88 L843.70,411.95 L844.46,413.99 L845.24,416.00 L846.05,417.98 L846.89,419.93 L847.76,421.84 L848.65,423.73 L849.56,425.57 L850.50,427.38 L851.46,429.15 L852.44,430.88 L853.43,432.58 L854.45,434.23 L855.47,435.83 L856.52,437.40 L857.57,438.92 L858.64,440.39 L859.72,441.82 L860.81,443.19 L861.90,444.52 L863.01,445.80 L864.12,447.03 L865.24,448.21 L866.36,449.34 L867.48,450.41 L868.61,451.43 L869.75,452.39 L870.88,453.30 L872.02,454.16 L873.16,454.95 L874.30,455.69 L875.44,456.38 L876.58,457.00 L877.72,457.57 L878.86,458.08 L880.01,458.53 L881.15,458.92 L882.29,459.25 L883.43,459.52 L884.58,459.73 L885.72,459.88 L886.86,459.97 L888.00,460.00 L889.14,459.97 L890.28,459.88 L891.42,459.73 L892.57,459.52 L893.71,459.25 L894.85,458.92 L895.99,458.53 L897.14,458.08 L898.28,457.57 L899.42,457.00 L900.56,456.38 L901.70,455.69 L902.84,454.95 L903.98,454.16 L905.12,453.30 L906.25,452.39 L907.39,451.43 L908.52,450.41 L909.64,449.34 L910.76,448.21 L911.88,447.03 L912.99,445.80 L914.10,444.52 L915.19,443.19 L916.28,441.82 L917.36,440.39 L918.43,438.92 L919.48,437.40 L920.53,435.83 L921.55,434.23 L922.57,432.58 L923.56,430.88 L924.54,429.15 L925.50,427.38 L926.44,425.57 L927.35,423.73 L928.24,421.84 L929.11,419.93 L929.95,417.98 L930.76,416.00 L931.54,413.99 L932.30,411.95 L933.02,409.88 L933.70,407.79 L934.35,405.68 L934.97,403.54 L935.55,401.38 L936.09,399.19 L936.59,396.99 L937.05,394.78 L937.47,392.54 L937.85,390.30 L938.19,388.04 L938.48,385.77 L938.73,383.49 L938.94,381.20 L939.09,378.90 L939.21,376.61 L939.28,374.30 Z" fill="none" stroke="#fff4b0" stroke-width="7.0"/>
<path d="M939.30,372.00 L939.28,369.70 L939.21,367.39 L939.09,365.10 L938.94,362.80 L938.73,360.51 L938.48,358.23 L938.19,355.96 L937.85,353.70 L937.47,351.46 L937.05,349.22 L936.59,347.01 L936.09,344.81 L935.55,342.62 L934.97,340.46 L934.35,338.32 L933.70,336.21 L933.02,334.12 L932.30,332.05 L931.54,330.01 L930.76,328.00 L929.95,326.02 L929.11,324.07 L928.24,322.16 L927.35,320.27 L926.44,318.43 L925.50,316.62 L924.54,314.85 L923.56,313.12 L922.57,311.42 L921.55,309.77 L920.53,308.17 L919.48,306.60 L918.43,305.08 L917.36,303.61 L916.28,302.18 L915.19,300.81 L914.10,299.48 L912.99,298.20 L911.88,296.97 L910.76,295.79 L909.64,294.66 L908.52,293.59 L907.39,292.57 L906.25,291.61 L905.12,290.70 L903.98,289.84 L902.84,289.05 L901.70,288.31 L900.56,287.62 L899.42,287.00 L898.28,286.43 L897.14,285.92 L895.99,285.47 L894.85,285.08 L893.71,284.75 L892.57,284.48 L891.42,284.27 L890.28,284.12 L889.14,284.03 L888.00,284.00 L886.86,284.03 L885.72,284.12 L884.58,284.27 L883.43,284.48 L882.29,284.75 L881.15,285.08 L880.01,285.47 L878.86,285.92 L877.72,286.43 L876.58,287.00 L875.44,287.62 L874.30,288.31 L873.16,289.05 L872.02,289.84 L870.88,290.70 L869.75,291.61 L868.61,292.57 L867.48,293.59 L866.36,294.66 L865.24,295.79 L864.12,296.97 L863.01,298.20 L861.90,299.48 L860.81,300.81 L859.72,302.18 L858.64,303.61 L857.57,305.08 L856.52,306.60 L855.47,308.17 L854.45,309.77 L853.43,311.42 L852.44,313.12 L851.46,314.85 L850.50,316.62 L849.56,318.43 L848.65,320.27 L847.76,322.16 L846.89,324.07 L846.05,326.02 L845.24,328.00 L844.46,330.01 L843.70,332.05 L842.98,334.12 L842.30,336.21 L841.65,338.32 L841.03,340.46 L840.45,342.62 L839.91,344.81 L839.41,347.01 L838.95,349.22 L838.53,351.46 L838.15,353.70 L837.81,355.96 L837.52,358.23 L837.27,360.51 L837.06,362.80 L836.91,365.10 L836.79,367.39 L836.72,369.70 L836.70,372.00 L836.72,374.30 L836.79,376.61 L836.91,378.90 L837.06,381.20 L837.27,383.49 L837.52,385.77 L837.81,388.04 L838.15,390.30 L838.53,392.54 L838.95,394.78 L839.41,396.99 L839.91,399.19 L840.45,401.38 L841.03,403.54 L841.65,405.68 L842.30,407.79 L842.98,409.88 L843.70,411.95 L844.46,413.99 L845.24,416.00 L846.05,417.98 L846.89,419.93 L847.76,421.84 L848.65,423.73 L849.56,425.57 L850.50,427.38 L851.46,429.15 L852.44,430.88 L853.43,432.58 L854.45,434.23 L855.47,435.83 L856.52,437.40 L857.57,438.92 L858.64,440.39 L859.72,441.82 L860.81,443.19 L861.90,444.52 L863.01,445.80 L864.12,447.03 L865.24,448.21 L866.36,449.34 L867.48,450.41 L868.61,451.43 L869.75,452.39 L870.88,453.30 L872.02,454.16 L873.16,454.95 L874.30,455.69 L875.44,456.38 L876.58,457.00 L877.72,457.57 L878.86,458.08 L880.01,458.53 L881.15,458.92 L882.29,459.25 L883.43,459.52 L884.58,459.73 L885.72,459.88 L886.86,459.97 L888.00,460.00 L889.14,459.97 L890.28,459.88 L891.42,459.73 L892.57,459.52 L893.71,459.25 L894.85,458.92 L895.99,458.53 L897.14,458.08 L898.28,457.57 L899.42,457.00 L900.56,456.38 L901.70,455.69 L902.84,454.95 L903.98,454.16 L905.12,453.30 L906.25,452.39 L907.39,451.43 L908.52,450.41 L909.64,449.34 L910.76,448.21 L911.88,447.03 L912.99,445.80 L914.10,444.52 L915.19,443.19 L916.28,441.82 L917.36,440.39 L918.43,438.92 L919.48,437.40 L920.53,435.83 L921.55,434.23 L922.57,432.58 L923.56,430.88 L924.54,429.15 L925.50,427.38 L926.44,425.57 L927.35,423.73 L928.24,421.84 L929.11,419.93 L929.95,417.98 L930.76,416.00 L931.54,413.99 L932.30,411.95 L933.02,409.88 L933.70,407.79 L934.35,405.68 L934.97,403.54 L935.55,401.38 L936.09,399.19 L936.59,396.99 L937.05,394.78 L937.47,392.54 L937.85,390.30 L938.19,388.04 L938.48,385.77 L938.73,383.49 L938.94,381.20 L939.09,378.90 L939.21,376.61 L939.28,374.30 Z" fill="none" stroke="#ffffff" stroke-width="5.0"/>
<path d="M966.60,372.00 L966.56,368.44 L966.44,364.88 L966.24,361.33 L965.96,357.78 L965.60,354.25 L965.16,350.72 L964.64,347.22 L964.05,343.72 L963.39,340.25 L962.65,336.80 L961.84,333.37 L960.97,329.97 L960.03,326.60 L959.02,323.26 L957.96,319.96 L956.83,316.68 L955.66,313.45 L954.42,310.26 L953.14,307.11 L951.82,304.00 L950.44,300.94 L949.03,297.93 L947.58,294.97 L946.10,292.06 L944.58,289.21 L943.04,286.41 L941.47,283.68 L939.87,281.00 L938.26,278.38 L936.63,275.83 L934.99,273.35 L933.33,270.93 L931.67,268.58 L930.00,266.31 L928.32,264.10 L926.64,261.97 L924.96,259.92 L923.28,257.94 L921.60,256.04 L919.93,254.22 L918.26,252.48 L916.60,250.82 L914.95,249.25 L913.30,247.76 L911.66,246.35 L910.03,245.03 L908.41,243.80 L906.80,242.66 L905.19,241.60 L903.60,240.63 L902.01,239.76 L900.43,238.97 L898.86,238.28 L897.30,237.67 L895.74,237.16 L894.18,236.75 L892.63,236.42 L891.09,236.19 L889.54,236.05 L888.00,236.00 L886.46,236.05 L884.91,236.19 L883.37,236.42 L881.82,236.75 L880.26,237.16 L878.70,237.67 L877.14,238.28 L875.57,238.97 L873.99,239.76 L872.40,240.63 L870.81,241.60 L869.20,242.66 L867.59,243.80 L865.97,245.03 L864.34,246.35 L862.70,247.76 L861.05,249.25 L859.40,250.82 L857.74,252.48 L856.07,254.22 L854.40,256.04 L852.72,257.94 L851.04,259.92 L849.36,261.97 L847.68,264.10 L846.00,266.31 L844.33,268.58 L842.67,270.93 L841.01,273.35 L839.37,275.83 L837.74,278.38 L836.13,281.00 L834.53,283.68 L832.96,286.41 L831.42,289.21 L829.90,292.06 L828.42,294.97 L826.97,297.93 L825.56,300.94 L824.18,304.00 L822.86,307.11 L821.58,310.26 L820.34,313.45 L819.17,316.68 L818.04,319.96 L816.98,323.26 L815.97,326.60 L815.03,329.97 L814.16,333.37 L813.35,336.80 L812.61,340.25 L811.95,343.72 L811.36,347.22 L810.84,350.72 L810.40,354.25 L810.04,357.78 L809.76,361.33 L809.56,364.88 L809.44,368.44 L809.40,372.00 L809.44,375.56 L809.56,379.12 L809.76,382.67 L810.04,386.22 L810.40,389.75 L810.84,393.28 L811.36,396.78 L811.95,400.28 L812.61,403.75 L813.35,407.20 L814.16,410.63 L815.03,414.03 L815.97,417.40 L816.98,420.74 L818.04,424.04 L819.17,427.32 L820.34,430.55 L821.58,433.74 L822.86,436.89 L824.18,440.00 L825.56,443.06 L826.97,446.07 L828.42,449.03 L829.90,451.94 L831.42,454.79 L832.96,457.59 L834.53,460.32 L836.13,463.00 L837.74,465.62 L839.37,468.17 L841.01,470.65 L842.67,473.07 L844.33,475.42 L846.00,477.69 L847.68,479.90 L849.36,482.03 L851.04,484.08 L852.72,486.06 L854.40,487.96 L856.07,489.78 L857.74,491.52 L859.40,493.18 L861.05,494.75 L862.70,496.24 L864.34,497.65 L865.97,498.97 L867.59,500.20 L869.20,501.34 L870.81,502.40 L872.40,503.37 L873.99,504.24 L875.57,505.03 L877.14,505.72 L878.70,506.33 L880.26,506.84 L881.82,507.25 L883.37,507.58 L884.91,507.81 L886.46,507.95 L888.00,508.00 L889.54,507.95 L891.09,507.81 L892.63,507.58 L894.18,507.25 L895.74,506.84 L897.30,506.33 L898.86,505.72 L900.43,505.03 L902.01,504.24 L903.60,503.37 L905.19,502.40 L906.80,501.34 L908.41,500.20 L910.03,498.97 L911.66,497.65 L913.30,496.24 L914.95,494.75 L916.60,493.18 L918.26,491.52 L919.93,489.78 L921.60,487.96 L923.28,486.06 L924.96,484.08 L926.64,482.03 L928.32,479.90 L930.00,477.69 L931.67,475.42 L933.33,473.07 L934.99,470.65 L936.63,468.17 L938.26,465.62 L939.87,463.00 L941.47,460.32 L943.04,457.59 L944.58,454.79 L946.10,451.94 L947.58,449.03 L949.03,446.07 L950.44,443.06 L951.82,440.00 L953.14,436.89 L954.42,433.74 L955.66,430.55 L956.83,427.32 L957.96,424.04 L959.02,420.74 L960.03,417.40 L960.97,414.03 L961.84,410.63 L962.65,407.20 L963.39,403.75 L964.05,400.28 L964.64,396.78 L965.16,393.28 L965.60,389.75 L965.96,386.22 L966.24,382.67 L966.44,379.12 L966.56,375.56 Z" fill="none" stroke="#901000" stroke-width="12.0"/>
<path d="M966.60,372.00 L966.56,368.44 L966.44,364.88 L966.24,361.33 L965.96,357.78 L965.60,354.25 L965.16,350.72 L964.64,347.22 L964.05,343.72 L963.39,340.25 L962.65,336.80 L961.84,333.37 L960.97,329.97 L960.03,326.60 L959.02,323.26 L957.96,319.96 L956.83,316.68 L955.66,313.45 L954.42,310.26 L953.14,307.11 L951.82,304.00 L950.44,300.94 L949.03,297.93 L947.58,294.97 L946.10,292.06 L944.58,289.21 L943.04,286.41 L941.47,283.68 L939.87,281.00 L938.26,278.38 L936.63,275.83 L934.99,273.35 L933.33,270.93 L931.67,268.58 L930.00,266.31 L928.32,264.10 L926.64,261.97 L924.96,259.92 L923.28,257.94 L921.60,256.04 L919.93,254.22 L918.26,252.48 L916.60,250.82 L914.95,249.25 L913.30,247.76 L911.66,246.35 L910.03,245.03 L908.41,243.80 L906.80,242.66 L905.19,241.60 L903.60,240.63 L902.01,239.76 L900.43,238.97 L898.86,238.28 L897.30,237.67 L895.74,237.16 L894.18,236.75 L892.63,236.42 L891.09,236.19 L889.54,236.05 L888.00,236.00 L886.46,236.05 L884.91,236.19 L883.37,236.42 L881.82,236.75 L880.26,237.16 L878.70,237.67 L877.14,238.28 L875.57,238.97 L873.99,239.76 L872.40,240.63 L870.81,241.60 L869.20,242.66 L867.59,243.80 L865.97,245.03 L864.34,246.35 L862.70,247.76 L861.05,249.25 L859.40,250.82 L857.74,252.48 L856.07,254.22 L854.40,256.04 L852.72,257.94 L851.04,259.92 L849.36,261.97 L847.68,264.10 L846.00,266.31 L844.33,268.58 L842.67,270.93 L841.01,273.35 L839.37,275.83 L837.74,278.38 L836.13,281.00 L834.53,283.68 L832.96,286.41 L831.42,289.21 L829.90,292.06 L828.42,294.97 L826.97,297.93 L825.56,300.94 L824.18,304.00 L822.86,307.11 L821.58,310.26 L820.34,313.45 L819.17,316.68 L818.04,319.96 L816.98,323.26 L815.97,326.60 L815.03,329.97 L814.16,333.37 L813.35,336.80 L812.61,340.25 L811.95,343.72 L811.36,347.22 L810.84,350.72 L810.40,354.25 L810.04,357.78 L809.76,361.33 L809.56,364.88 L809.44,368.44 L809.40,372.00 L809.44,375.56 L809.56,379.12 L809.76,382.67 L810.04,386.22 L810.40,389.75 L810.84,393.28 L811.36,396.78 L811.95,400.28 L812.61,403.75 L813.35,407.20 L814.16,410.63 L815.03,414.03 L815.97,417.40 L816.98,420.74 L818.04,424.04 L819.17,427.32 L820.34,430.55 L821.58,433.74 L822.86,436.89 L824.18,440.00 L825.56,443.06 L826.97,446.07 L828.42,449.03 L829.90,451.94 L831.42,454.79 L832.96,457.59 L834.53,460.32 L836.13,463.00 L837.74,465.62 L839.37,468.17 L841.01,470.65 L842.67,473.07 L844.33,475.42 L846.00,477.69 L847.68,479.90 L849.36,482.03 L851.04,484.08 L852.72,486.06 L854.40,487.96 L856.07,489.78 L857.74,491.52 L859.40,493.18 L861.05,494.75 L862.70,496.24 L864.34,497.65 L865.97,498.97 L867.59,500.20 L869.20,501.34 L870.81,502.40 L872.40,503.37 L873.99,504.24 L875.57,505.03 L877.14,505.72 L878.70,506.33 L880.26,506.84 L881.82,507.25 L883.37,507.58 L884.91,507.81 L886.46,507.95 L888.00,508.00 L889.54,507.95 L891.09,507.81 L892.63,507.58 L894.18,507.25 L895.74,506.84 L897.30,506.33 L898.86,505.72 L900.43,505.03 L902.01,504.24 L903.60,503.37 L905.19,502.40 L906.80,501.34 L908.41,500.20 L910.03,498.97 L911.66,497.65 L913.30,496.24 L914.95,494.75 L916.60,493.18 L918.26,491.52 L919.93,489.78 L921.60,487.96 L923.28,486.06 L924.96,484.08 L926.64,482.03 L928.32,479.90 L930.00,477.69 L931.67,475.42 L933.33,473.07 L934.99,470.65 L936.63,468.17 L938.26,465.62 L939.87,463.00 L941.47,460.32 L943.04,457.59 L944.58,454.79 L946.10,451.94 L947.58,449.03 L949.03,446.07 L950.44,443.06 L951.82,440.00 L953.14,436.89 L954.42,433.74 L955.66,430.55 L956.83,427.32 L957.96,424.04 L959.02,420.74 L960.03,417.40 L960.97,414.03 L961.84,410.63 L962.65,407.20 L963.39,403.75 L964.05,400.28 L964.64,396.78 L965.16,393.28 L965.60,389.75 L965.96,386.22 L966.24,382.67 L966.44,379.12 L966.56,375.56 Z" fill="none" stroke="#e05a10" stroke-width="10.0"/>
<linearGradient id="rg0" x1="0" y1="0" x2="0" y2="1"><stop offset="0" stop-color="#ffd850"/><stop offset="0.3" stop-color="#f6d830"/><stop offset="0.7" stop-color="#f6d830"/><stop offset="1" stop-color="#ffd040"/></linearGradient>
<path d="M966.60,372.00 L966.56,368.44 L966.44,364.88 L966.24,361.33 L965.96,357.78 L965.60,354.25 L965.16,350.72 L964.64,347.22 L964.05,343.72 L963.39,340.25 L962.65,336.80 L961.84,333.37 L960.97,329.97 L960.03,326.60 L959.02,323.26 L957.96,319.96 L956.83,316.68 L955.66,313.45 L954.42,310.26 L953.14,307.11 L951.82,304.00 L950.44,300.94 L949.03,297.93 L947.58,294.97 L946.10,292.06 L944.58,289.21 L943.04,286.41 L941.47,283.68 L939.87,281.00 L938.26,278.38 L936.63,275.83 L934.99,273.35 L933.33,270.93 L931.67,268.58 L930.00,266.31 L928.32,264.10 L926.64,261.97 L924.96,259.92 L923.28,257.94 L921.60,256.04 L919.93,254.22 L918.26,252.48 L916.60,250.82 L914.95,249.25 L913.30,247.76 L911.66,246.35 L910.03,245.03 L908.41,243.80 L906.80,242.66 L905.19,241.60 L903.60,240.63 L902.01,239.76 L900.43,238.97 L898.86,238.28 L897.30,237.67 L895.74,237.16 L894.18,236.75 L892.63,236.42 L891.09,236.19 L889.54,236.05 L888.00,236.00 L886.46,236.05 L884.91,236.19 L883.37,236.42 L881.82,236.75 L880.26,237.16 L878.70,237.67 L877.14,238.28 L875.57,238.97 L873.99,239.76 L872.40,240.63 L870.81,241.60 L869.20,242.66 L867.59,243.80 L865.97,245.03 L864.34,246.35 L862.70,247.76 L861.05,249.25 L859.40,250.82 L857.74,252.48 L856.07,254.22 L854.40,256.04 L852.72,257.94 L851.04,259.92 L849.36,261.97 L847.68,264.10 L846.00,266.31 L844.33,268.58 L842.67,270.93 L841.01,273.35 L839.37,275.83 L837.74,278.38 L836.13,281.00 L834.53,283.68 L832.96,286.41 L831.42,289.21 L829.90,292.06 L828.42,294.97 L826.97,297.93 L825.56,300.94 L824.18,304.00 L822.86,307.11 L821.58,310.26 L820.34,313.45 L819.17,316.68 L818.04,319.96 L816.98,323.26 L815.97,326.60 L815.03,329.97 L814.16,333.37 L813.35,336.80 L812.61,340.25 L811.95,343.72 L811.36,347.22 L810.84,350.72 L810.40,354.25 L810.04,357.78 L809.76,361.33 L809.56,364.88 L809.44,368.44 L809.40,372.00 L809.44,375.56 L809.56,379.12 L809.76,382.67 L810.04,386.22 L810.40,389.75 L810.84,393.28 L811.36,396.78 L811.95,400.28 L812.61,403.75 L813.35,407.20 L814.16,410.63 L815.03,414.03 L815.97,417.40 L816.98,420.74 L818.04,424.04 L819.17,427.32 L820.34,430.55 L821.58,433.74 L822.86,436.89 L824.18,440.00 L825.56,443.06 L826.97,446.07 L828.42,449.03 L829.90,451.94 L831.42,454.79 L832.96,457.59 L834.53,460.32 L836.13,463.00 L837.74,465.62 L839.37,468.17 L841.01,470.65 L842.67,473.07 L844.33,475.42 L846.00,477.69 L847.68,479.90 L849.36,482.03 L851.04,484.08 L852.72,486.06 L854.40,487.96 L856.07,489.78 L857.74,491.52 L859.40,493.18 L861.05,494.75 L862.70,496.24 L864.34,497.65 L865.97,498.97 L867.59,500.20 L869.20,501.34 L870.81,502.40 L872.40,503.37 L873.99,504.24 L875.57,505.03 L877.14,505.72 L878.70,506.33 L880.26,506.84 L881.82,507.25 L883.37,507.58 L884.91,507.81 L886.46,507.95 L888.00,508.00 L889.54,507.95 L891.09,507.81 L892.63,507.58 L894.18,507.25 L895.74,506.84 L897.30,506.33 L898.86,505.72 L900.43,505.03 L902.01,504.24 L903.60,503.37 L905.19,502.40 L906.80,501.34 L908.41,500.20 L910.03,498.97 L911.66,497.65 L913.30,496.24 L914.95,494.75 L916.60,493.18 L918.26,491.52 L919.93,489.78 L921.60,487.96 L923.28,486.06 L924.96,484.08 L926.64,482.03 L928.32,479.90 L930.00,477.69 L931.67,475.42 L933.33,473.07 L934.99,470.65 L936.63,468.17 L938.26,465.62 L939.87,463.00 L941.47,460.32 L943.04,457.59 L944.58,454.79 L946.10,451.94 L947.58,449.03 L949.03,446.07 L950.44,443.06 L951.82,440.00 L953.14,436.89 L954.42,433.74 L955.66,430.55 L956.83,427.32 L957.96,424.04 L959.02,420.74 L960.03,417.40 L960.97,414.03 L961.84,410.63 L962.65,407.20 L963.39,403.75 L964.05,400.28 L964.64,396.78 L965.16,393.28 L965.60,389.75 L965.96,386.22 L966.24,382.67 L966.44,379.12 L966.56,375.56 Z" fill="none" stroke="url(#rg0)" stroke-width="7.0"/>
<linearGradient id="rg1" x1="0" y1="0" x2="0" y2="1"><stop offset="0" stop-color="#600600"/><stop offset="0.3" stop-color="#800800"/><stop offset="0.7" stop-color="#800800"/><stop offset="1" stop-color="#800800"/></linearGradient>
<path d="M993.80,372.00 L993.74,367.18 L993.57,362.37 L993.29,357.56 L992.90,352.77 L992.39,347.98 L991.78,343.22 L991.06,338.47 L990.24,333.74 L989.31,329.05 L988.28,324.38 L987.15,319.74 L985.93,315.14 L984.62,310.58 L983.22,306.06 L981.74,301.59 L980.18,297.16 L978.54,292.79 L976.83,288.47 L975.05,284.20 L973.21,280.00 L971.31,275.86 L969.36,271.79 L967.36,267.78 L965.31,263.85 L963.23,259.99 L961.10,256.21 L958.95,252.50 L956.77,248.88 L954.56,245.34 L952.34,241.89 L950.10,238.53 L947.85,235.26 L945.59,232.09 L943.32,229.01 L941.06,226.02 L938.79,223.14 L936.53,220.36 L934.27,217.68 L932.03,215.11 L929.79,212.65 L927.57,210.30 L925.36,208.05 L923.16,205.92 L920.98,203.91 L918.81,202.01 L916.66,200.22 L914.53,198.55 L912.41,197.01 L910.31,195.58 L908.23,194.27 L906.16,193.08 L904.10,192.02 L902.06,191.08 L900.03,190.27 L898.01,189.57 L896.00,189.01 L893.99,188.57 L891.99,188.25 L889.99,188.06 L888.00,188.00 L886.01,188.06 L884.01,188.25 L882.01,188.57 L880.00,189.01 L877.99,189.57 L875.97,190.27 L873.94,191.08 L871.90,192.02 L869.84,193.08 L867.77,194.27 L865.69,195.58 L863.59,197.01 L861.47,198.55 L859.34,200.22 L857.19,202.01 L855.02,203.91 L852.84,205.92 L850.64,208.05 L848.43,210.30 L846.21,212.65 L843.97,215.11 L841.73,217.68 L839.47,220.36 L837.21,223.14 L834.94,226.02 L832.68,229.01 L830.41,232.09 L828.15,235.26 L825.90,238.53 L823.66,241.89 L821.44,245.34 L819.23,248.88 L817.05,252.50 L814.90,256.21 L812.77,259.99 L810.69,263.85 L808.64,267.78 L806.64,271.79 L804.69,275.86 L802.79,280.00 L800.95,284.20 L799.17,288.47 L797.46,292.79 L795.82,297.16 L794.26,301.59 L792.78,306.06 L791.38,310.58 L790.07,315.14 L788.85,319.74 L787.72,324.38 L786.69,329.05 L785.76,333.74 L784.94,338.47 L784.22,343.22 L783.61,347.98 L783.10,352.77 L782.71,357.56 L782.43,362.37 L782.26,367.18 L782.20,372.00 L782.26,376.82 L782.43,381.63 L782.71,386.44 L783.10,391.23 L783.61,396.02 L784.22,400.78 L784.94,405.53 L785.76,410.26 L786.69,414.95 L787.72,419.62 L788.85,424.26 L790.07,428.86 L791.38,433.42 L792.78,437.94 L794.26,442.41 L795.82,446.84 L797.46,451.21 L799.17,455.53 L800.95,459.80 L802.79,464.00 L804.69,468.14 L806.64,472.21 L808.64,476.22 L810.69,480.15 L812.77,484.01 L814.90,487.79 L817.05,491.50 L819.23,495.12 L821.44,498.66 L823.66,502.11 L825.90,505.47 L828.15,508.74 L830.41,511.91 L832.68,514.99 L834.94,517.98 L837.21,520.86 L839.47,523.64 L841.73,526.32 L843.97,528.89 L846.21,531.35 L848.43,533.70 L850.64,535.95 L852.84,538.08 L855.02,540.09 L857.19,541.99 L859.34,543.78 L861.47,545.45 L863.59,546.99 L865.69,548.42 L867.77,549.73 L869.84,550.92 L871.90,551.98 L873.94,552.92 L875.97,553.73 L877.99,554.43 L880.00,554.99 L882.01,555.43 L884.01,555.75 L886.01,555.94 L888.00,556.00 L889.99,555.94 L891.99,555.75 L893.99,555.43 L896.00,554.99 L898.01,554.43 L900.03,553.73 L902.06,552.92 L904.10,551.98 L906.16,550.92 L908.23,549.73 L910.31,548.42 L912.41,546.99 L914.53,545.45 L916.66,543.78 L918.81,541.99 L920.98,540.09 L923.16,538.08 L925.36,535.95 L927.57,533.70 L929.79,531.35 L932.03,528.89 L934.27,526.32 L936.53,523.64 L938.79,520.86 L941.06,517.98 L943.32,514.99 L945.59,511.91 L947.85,508.74 L950.10,505.47 L952.34,502.11 L954.56,498.66 L956.77,495.12 L958.95,491.50 L961.10,487.79 L963.23,484.01 L965.31,480.15 L967.36,476.22 L969.36,472.21 L971.31,468.14 L973.21,464.00 L975.05,459.80 L976.83,455.53 L978.54,451.21 L980.18,446.84 L981.74,442.41 L983.22,437.94 L984.62,433.42 L985.93,428.86 L987.15,424.26 L988.28,419.62 L989.31,414.95 L990.24,410.26 L991.06,405.53 L991.78,400.78 L992.39,396.02 L992.90,391.23 L993.29,386.44 L993.57,381.63 L993.74,376.82 Z" fill="none" stroke="url(#rg1)" stroke-width="11.0"/>
<linearGradient id="rg2" x1="0" y1="0" x2="0" y2="1"><stop offset="0" stop-color="#b82808"/><stop offset="0.3" stop-color="#d04010"/><stop offset="0.7" stop-color="#d04010"/><stop offset="1" stop-color="#d04010"/></linearGradient>
<path d="M993.80,372.00 L993.74,367.18 L993.57,362.37 L993.29,357.56 L992.90,352.77 L992.39,347.98 L991.78,343.22 L991.06,338.47 L990.24,333.74 L989.31,329.05 L988.28,324.38 L987.15,319.74 L985.93,315.14 L984.62,310.58 L983.22,306.06 L981.74,301.59 L980.18,297.16 L978.54,292.79 L976.83,288.47 L975.05,284.20 L973.21,280.00 L971.31,275.86 L969.36,271.79 L967.36,267.78 L965.31,263.85 L963.23,259.99 L961.10,256.21 L958.95,252.50 L956.77,248.88 L954.56,245.34 L952.34,241.89 L950.10,238.53 L947.85,235.26 L945.59,232.09 L943.32,229.01 L941.06,226.02 L938.79,223.14 L936.53,220.36 L934.27,217.68 L932.03,215.11 L929.79,212.65 L927.57,210.30 L925.36,208.05 L923.16,205.92 L920.98,203.91 L918.81,202.01 L916.66,200.22 L914.53,198.55 L912.41,197.01 L910.31,195.58 L908.23,194.27 L906.16,193.08 L904.10,192.02 L902.06,191.08 L900.03,190.27 L898.01,189.57 L896.00,189.01 L893.99,188.57 L891.99,188.25 L889.99,188.06 L888.00,188.00 L886.01,188.06 L884.01,188.25 L882.01,188.57 L880.00,189.01 L877.99,189.57 L875.97,190.27 L873.94,191.08 L871.90,192.02 L869.84,193.08 L867.77,194.27 L865.69,195.58 L863.59,197.01 L861.47,198.55 L859.34,200.22 L857.19,202.01 L855.02,203.91 L852.84,205.92 L850.64,208.05 L848.43,210.30 L846.21,212.65 L843.97,215.11 L841.73,217.68 L839.47,220.36 L837.21,223.14 L834.94,226.02 L832.68,229.01 L830.41,232.09 L828.15,235.26 L825.90,238.53 L823.66,241.89 L821.44,245.34 L819.23,248.88 L817.05,252.50 L814.90,256.21 L812.77,259.99 L810.69,263.85 L808.64,267.78 L806.64,271.79 L804.69,275.86 L802.79,280.00 L800.95,284.20 L799.17,288.47 L797.46,292.79 L795.82,297.16 L794.26,301.59 L792.78,306.06 L791.38,310.58 L790.07,315.14 L788.85,319.74 L787.72,324.38 L786.69,329.05 L785.76,333.74 L784.94,338.47 L784.22,343.22 L783.61,347.98 L783.10,352.77 L782.71,357.56 L782.43,362.37 L782.26,367.18 L782.20,372.00 L782.26,376.82 L782.43,381.63 L782.71,386.44 L783.10,391.23 L783.61,396.02 L784.22,400.78 L784.94,405.53 L785.76,410.26 L786.69,414.95 L787.72,419.62 L788.85,424.26 L790.07,428.86 L791.38,433.42 L792.78,437.94 L794.26,442.41 L795.82,446.84 L797.46,451.21 L799.17,455.53 L800.95,459.80 L802.79,464.00 L804.69,468.14 L806.64,472.21 L808.64,476.22 L810.69,480.15 L812.77,484.01 L814.90,487.79 L817.05,491.50 L819.23,495.12 L821.44,498.66 L823.66,502.11 L825.90,505.47 L828.15,508.74 L830.41,511.91 L832.68,514.99 L834.94,517.98 L837.21,520.86 L839.47,523.64 L841.73,526.32 L843.97,528.89 L846.21,531.35 L848.43,533.70 L850.64,535.95 L852.84,538.08 L855.02,540.09 L857.19,541.99 L859.34,543.78 L861.47,545.45 L863.59,546.99 L865.69,548.42 L867.77,549.73 L869.84,550.92 L871.90,551.98 L873.94,552.92 L875.97,553.73 L877.99,554.43 L880.00,554.99 L882.01,555.43 L884.01,555.75 L886.01,555.94 L888.00,556.00 L889.99,555.94 L891.99,555.75 L893.99,555.43 L896.00,554.99 L898.01,554.43 L900.03,553.73 L902.06,552.92 L904.10,551.98 L906.16,550.92 L908.23,549.73 L910.31,548.42 L912.41,546.99 L914.53,545.45 L916.66,543.78 L918.81,541.99 L920.98,540.09 L923.16,538.08 L925.36,535.95 L927.57,533.70 L929.79,531.35 L932.03,528.89 L934.27,526.32 L936.53,523.64 L938.79,520.86 L941.06,517.98 L943.32,514.99 L945.59,511.91 L947.85,508.74 L950.10,505.47 L952.34,502.11 L954.56,498.66 L956.77,495.12 L958.95,491.50 L961.10,487.79 L963.23,484.01 L965.31,480.15 L967.36,476.22 L969.36,472.21 L971.31,468.14 L973.21,464.00 L975.05,459.80 L976.83,455.53 L978.54,451.21 L980.18,446.84 L981.74,442.41 L983.22,437.94 L984.62,433.42 L985.93,428.86 L987.15,424.26 L988.28,419.62 L989.31,414.95 L990.24,410.26 L991.06,405.53 L991.78,400.78 L992.39,396.02 L992.90,391.23 L993.29,386.44 L993.57,381.63 L993.74,376.82 Z" fill="none" stroke="url(#rg2)" stroke-width="9.0"/>
<linearGradient id="rg3" x1="0" y1="0" x2="0" y2="1"><stop offset="0" stop-color="#e05a20"/><stop offset="0.3" stop-color="#f69a32"/><stop offset="0.7" stop-color="#f69a32"/><stop offset="1" stop-color="#f6a030"/></linearGradient>
<path d="M993.80,372.00 L993.74,367.18 L993.57,362.37 L993.29,357.56 L992.90,352.77 L992.39,347.98 L991.78,343.22 L991.06,338.47 L990.24,333.74 L989.31,329.05 L988.28,324.38 L987.15,319.74 L985.93,315.14 L984.62,310.58 L983.22,306.06 L981.74,301.59 L980.18,297.16 L978.54,292.79 L976.83,288.47 L975.05,284.20 L973.21,280.00 L971.31,275.86 L969.36,271.79 L967.36,267.78 L965.31,263.85 L963.23,259.99 L961.10,256.21 L958.95,252.50 L956.77,248.88 L954.56,245.34 L952.34,241.89 L950.10,238.53 L947.85,235.26 L945.59,232.09 L943.32,229.01 L941.06,226.02 L938.79,223.14 L936.53,220.36 L934.27,217.68 L932.03,215.11 L929.79,212.65 L927.57,210.30 L925.36,208.05 L923.16,205.92 L920.98,203.91 L918.81,202.01 L916.66,200.22 L914.53,198.55 L912.41,197.01 L910.31,195.58 L908.23,194.27 L906.16,193.08 L904.10,192.02 L902.06,191.08 L900.03,190.27 L898.01,189.57 L896.00,189.01 L893.99,188.57 L891.99,188.25 L889.99,188.06 L888.00,188.00 L886.01,188.06 L884.01,188.25 L882.01,188.57 L880.00,189.01 L877.99,189.57 L875.97,190.27 L873.94,191.08 L871.90,192.02 L869.84,193.08 L867.77,194.27 L865.69,195.58 L863.59,197.01 L861.47,198.55 L859.34,200.22 L857.19,202.01 L855.02,203.91 L852.84,205.92 L850.64,208.05 L848.43,210.30 L846.21,212.65 L843.97,215.11 L841.73,217.68 L839.47,220.36 L837.21,223.14 L834.94,226.02 L832.68,229.01 L830.41,232.09 L828.15,235.26 L825.90,238.53 L823.66,241.89 L821.44,245.34 L819.23,248.88 L817.05,252.50 L814.90,256.21 L812.77,259.99 L810.69,263.85 L808.64,267.78 L806.64,271.79 L804.69,275.86 L802.79,280.00 L800.95,284.20 L799.17,288.47 L797.46,292.79 L795.82,297.16 L794.26,301.59 L792.78,306.06 L791.38,310.58 L790.07,315.14 L788.85,319.74 L787.72,324.38 L786.69,329.05 L785.76,333.74 L784.94,338.47 L784.22,343.22 L783.61,347.98 L783.10,352.77 L782.71,357.56 L782.43,362.37 L782.26,367.18 L782.20,372.00 L782.26,376.82 L782.43,381.63 L782.71,386.44 L783.10,391.23 L783.61,396.02 L784.22,400.78 L784.94,405.53 L785.76,410.26 L786.69,414.95 L787.72,419.62 L788.85,424.26 L790.07,428.86 L791.38,433.42 L792.78,437.94 L794.26,442.41 L795.82,446.84 L797.46,451.21 L799.17,455.53 L800.95,459.80 L802.79,464.00 L804.69,468.14 L806.64,472.21 L808.64,476.22 L810.69,480.15 L812.77,484.01 L814.90,487.79 L817.05,491.50 L819.23,495.12 L821.44,498.66 L823.66,502.11 L825.90,505.47 L828.15,508.74 L830.41,511.91 L832.68,514.99 L834.94,517.98 L837.21,520.86 L839.47,523.64 L841.73,526.32 L843.97,528.89 L846.21,531.35 L848.43,533.70 L850.64,535.95 L852.84,538.08 L855.02,540.09 L857.19,541.99 L859.34,543.78 L861.47,545.45 L863.59,546.99 L865.69,548.42 L867.77,549.73 L869.84,550.92 L871.90,551.98 L873.94,552.92 L875.97,553.73 L877.99,554.43 L880.00,554.99 L882.01,555.43 L884.01,555.75 L886.01,555.94 L888.00,556.00 L889.99,555.94 L891.99,555.75 L893.99,555.43 L896.00,554.99 L898.01,554.43 L900.03,553.73 L902.06,552.92 L904.10,551.98 L906.16,550.92 L908.23,549.73 L910.31,548.42 L912.41,546.99 L914.53,545.45 L916.66,543.78 L918.81,541.99 L920.98,540.09 L923.16,538.08 L925.36,535.95 L927.57,533.70 L929.79,531.35 L932.03,528.89 L934.27,526.32 L936.53,523.64 L938.79,520.86 L941.06,517.98 L943.32,514.99 L945.59,511.91 L947.85,508.74 L950.10,505.47 L952.34,502.11 L954.56,498.66 L956.77,495.12 L958.95,491.50 L961.10,487.79 L963.23,484.01 L965.31,480.15 L967.36,476.22 L969.36,472.21 L971.31,468.14 L973.21,464.00 L975.05,459.80 L976.83,455.53 L978.54,451.21 L980.18,446.84 L981.74,442.41 L983.22,437.94 L984.62,433.42 L985.93,428.86 L987.15,424.26 L988.28,419.62 L989.31,414.95 L990.24,410.26 L991.06,405.53 L991.78,400.78 L992.39,396.02 L992.90,391.23 L993.29,386.44 L993.57,381.63 L993.74,376.82 Z" fill="none" stroke="url(#rg3)" stroke-width="6.0"/>
<linearGradient id="rg4" x1="0" y1="0" x2="0" y2="1"><stop offset="0" stop-color="#3a0200"/><stop offset="0.3" stop-color="#500300"/><stop offset="0.7" stop-color="#500300"/><stop offset="1" stop-color="#500300"/></linearGradient>
<path d="M1021.00,372.00 L1020.93,365.93 L1020.71,359.86 L1020.35,353.80 L1019.84,347.75 L1019.19,341.72 L1018.40,335.71 L1017.47,329.72 L1016.41,323.76 L1015.21,317.84 L1013.89,311.95 L1012.44,306.11 L1010.87,300.31 L1009.18,294.56 L1007.38,288.86 L1005.48,283.22 L1003.47,277.64 L1001.37,272.12 L999.18,266.67 L996.90,261.30 L994.54,256.00 L992.11,250.78 L989.62,245.64 L987.06,240.59 L984.45,235.63 L981.79,230.77 L979.08,226.00 L976.34,221.33 L973.56,216.76 L970.76,212.30 L967.94,207.95 L965.10,203.71 L962.25,199.59 L959.39,195.59 L956.53,191.70 L953.68,187.94 L950.83,184.31 L947.98,180.80 L945.15,177.43 L942.34,174.19 L939.54,171.08 L936.76,168.11 L934.00,165.29 L931.26,162.60 L928.55,160.06 L925.86,157.66 L923.20,155.41 L920.56,153.31 L917.95,151.35 L915.36,149.55 L912.79,147.91 L910.24,146.41 L907.72,145.07 L905.21,143.88 L902.72,142.86 L900.24,141.98 L897.78,141.27 L895.32,140.72 L892.88,140.32 L890.44,140.08 L888.00,140.00 L885.56,140.08 L883.12,140.32 L880.68,140.72 L878.22,141.27 L875.76,141.98 L873.28,142.86 L870.79,143.88 L868.28,145.07 L865.76,146.41 L863.21,147.91 L860.64,149.55 L858.05,151.35 L855.44,153.31 L852.80,155.41 L850.14,157.66 L847.45,160.06 L844.74,162.60 L842.00,165.29 L839.24,168.11 L836.46,171.08 L833.66,174.19 L830.85,177.43 L828.02,180.80 L825.17,184.31 L822.32,187.94 L819.47,191.70 L816.61,195.59 L813.75,199.59 L810.90,203.71 L808.06,207.95 L805.24,212.30 L802.44,216.76 L799.66,221.33 L796.92,226.00 L794.21,230.77 L791.55,235.63 L788.94,240.59 L786.38,245.64 L783.89,250.78 L781.46,256.00 L779.10,261.30 L776.82,266.67 L774.63,272.12 L772.53,277.64 L770.52,283.22 L768.62,288.86 L766.82,294.56 L765.13,300.31 L763.56,306.11 L762.11,311.95 L760.79,317.84 L759.59,323.76 L758.53,329.72 L757.60,335.71 L756.81,341.72 L756.16,347.75 L755.65,353.80 L755.29,359.86 L755.07,365.93 L755.00,372.00 L755.07,378.07 L755.29,384.14 L755.65,390.20 L756.16,396.25 L756.81,402.28 L757.60,408.29 L758.53,414.28 L759.59,420.24 L760.79,426.16 L762.11,432.05 L763.56,437.89 L765.13,443.69 L766.82,449.44 L768.62,455.14 L770.52,460.78 L772.53,466.36 L774.63,471.88 L776.82,477.33 L779.10,482.70 L781.46,488.00 L783.89,493.22 L786.38,498.36 L788.94,503.41 L791.55,508.37 L794.21,513.23 L796.92,518.00 L799.66,522.67 L802.44,527.24 L805.24,531.70 L808.06,536.05 L810.90,540.29 L813.75,544.41 L816.61,548.41 L819.47,552.30 L822.32,556.06 L825.17,559.69 L828.02,563.20 L830.85,566.57 L833.66,569.81 L836.46,572.92 L839.24,575.89 L842.00,578.71 L844.74,581.40 L847.45,583.94 L850.14,586.34 L852.80,588.59 L855.44,590.69 L858.05,592.65 L860.64,594.45 L863.21,596.09 L865.76,597.59 L868.28,598.93 L870.79,600.12 L873.28,601.14 L875.76,602.02 L878.22,602.73 L880.68,603.28 L883.12,603.68 L885.56,603.92 L888.00,604.00 L890.44,603.92 L892.88,603.68 L895.32,603.28 L897.78,602.73 L900.24,602.02 L902.72,601.14 L905.21,600.12 L907.72,598.93 L910.24,597.59 L912.79,596.09 L915.36,594.45 L917.95,592.65 L920.56,590.69 L923.20,588.59 L925.86,586.34 L928.55,583.94 L931.26,581.40 L934.00,578.71 L936.76,575.89 L939.54,572.92 L942.34,569.81 L945.15,566.57 L947.98,563.20 L950.83,559.69 L953.68,556.06 L956.53,552.30 L959.39,548.41 L962.25,544.41 L965.10,540.29 L967.94,536.05 L970.76,531.70 L973.56,527.24 L976.34,522.67 L979.08,518.00 L981.79,513.23 L984.45,508.37 L987.06,503.41 L989.62,498.36 L992.11,493.22 L994.54,488.00 L996.90,482.70 L999.18,477.33 L1001.37,471.88 L1003.47,466.36 L1005.48,460.78 L1007.38,455.14 L1009.18,449.44 L1010.87,443.69 L1012.44,437.89 L1013.89,432.05 L1015.21,426.16 L1016.41,420.24 L1017.47,414.28 L1018.40,408.29 L1019.19,402.28 L1019.84,396.25 L1020.35,390.20 L1020.71,384.14 L1020.93,378.07 Z" fill="none" stroke="url(#rg4)" stroke-width="10.0"/>
<linearGradient id="rg5" x1="0" y1="0" x2="0" y2="1"><stop offset="0" stop-color="#800c04"/><stop offset="0.3" stop-color="#a01406"/><stop offset="0.7" stop-color="#a01406"/><stop offset="1" stop-color="#a01406"/></linearGradient>
<path d="M1021.00,372.00 L1020.93,365.93 L1020.71,359.86 L1020.35,353.80 L1019.84,347.75 L1019.19,341.72 L1018.40,335.71 L1017.47,329.72 L1016.41,323.76 L1015.21,317.84 L1013.89,311.95 L1012.44,306.11 L1010.87,300.31 L1009.18,294.56 L1007.38,288.86 L1005.48,283.22 L1003.47,277.64 L1001.37,272.12 L999.18,266.67 L996.90,261.30 L994.54,256.00 L992.11,250.78 L989.62,245.64 L987.06,240.59 L984.45,235.63 L981.79,230.77 L979.08,226.00 L976.34,221.33 L973.56,216.76 L970.76,212.30 L967.94,207.95 L965.10,203.71 L962.25,199.59 L959.39,195.59 L956.53,191.70 L953.68,187.94 L950.83,184.31 L947.98,180.80 L945.15,177.43 L942.34,174.19 L939.54,171.08 L936.76,168.11 L934.00,165.29 L931.26,162.60 L928.55,160.06 L925.86,157.66 L923.20,155.41 L920.56,153.31 L917.95,151.35 L915.36,149.55 L912.79,147.91 L910.24,146.41 L907.72,145.07 L905.21,143.88 L902.72,142.86 L900.24,141.98 L897.78,141.27 L895.32,140.72 L892.88,140.32 L890.44,140.08 L888.00,140.00 L885.56,140.08 L883.12,140.32 L880.68,140.72 L878.22,141.27 L875.76,141.98 L873.28,142.86 L870.79,143.88 L868.28,145.07 L865.76,146.41 L863.21,147.91 L860.64,149.55 L858.05,151.35 L855.44,153.31 L852.80,155.41 L850.14,157.66 L847.45,160.06 L844.74,162.60 L842.00,165.29 L839.24,168.11 L836.46,171.08 L833.66,174.19 L830.85,177.43 L828.02,180.80 L825.17,184.31 L822.32,187.94 L819.47,191.70 L816.61,195.59 L813.75,199.59 L810.90,203.71 L808.06,207.95 L805.24,212.30 L802.44,216.76 L799.66,221.33 L796.92,226.00 L794.21,230.77 L791.55,235.63 L788.94,240.59 L786.38,245.64 L783.89,250.78 L781.46,256.00 L779.10,261.30 L776.82,266.67 L774.63,272.12 L772.53,277.64 L770.52,283.22 L768.62,288.86 L766.82,294.56 L765.13,300.31 L763.56,306.11 L762.11,311.95 L760.79,317.84 L759.59,323.76 L758.53,329.72 L757.60,335.71 L756.81,341.72 L756.16,347.75 L755.65,353.80 L755.29,359.86 L755.07,365.93 L755.00,372.00 L755.07,378.07 L755.29,384.14 L755.65,390.20 L756.16,396.25 L756.81,402.28 L757.60,408.29 L758.53,414.28 L759.59,420.24 L760.79,426.16 L762.11,432.05 L763.56,437.89 L765.13,443.69 L766.82,449.44 L768.62,455.14 L770.52,460.78 L772.53,466.36 L774.63,471.88 L776.82,477.33 L779.10,482.70 L781.46,488.00 L783.89,493.22 L786.38,498.36 L788.94,503.41 L791.55,508.37 L794.21,513.23 L796.92,518.00 L799.66,522.67 L802.44,527.24 L805.24,531.70 L808.06,536.05 L810.90,540.29 L813.75,544.41 L816.61,548.41 L819.47,552.30 L822.32,556.06 L825.17,559.69 L828.02,563.20 L830.85,566.57 L833.66,569.81 L836.46,572.92 L839.24,575.89 L842.00,578.71 L844.74,581.40 L847.45,583.94 L850.14,586.34 L852.80,588.59 L855.44,590.69 L858.05,592.65 L860.64,594.45 L863.21,596.09 L865.76,597.59 L868.28,598.93 L870.79,600.12 L873.28,601.14 L875.76,602.02 L878.22,602.73 L880.68,603.28 L883.12,603.68 L885.56,603.92 L888.00,604.00 L890.44,603.92 L892.88,603.68 L895.32,603.28 L897.78,602.73 L900.24,602.02 L902.72,601.14 L905.21,600.12 L907.72,598.93 L910.24,597.59 L912.79,596.09 L915.36,594.45 L917.95,592.65 L920.56,590.69 L923.20,588.59 L925.86,586.34 L928.55,583.94 L931.26,581.40 L934.00,578.71 L936.76,575.89 L939.54,572.92 L942.34,569.81 L945.15,566.57 L947.98,563.20 L950.83,559.69 L953.68,556.06 L956.53,552.30 L959.39,548.41 L962.25,544.41 L965.10,540.29 L967.94,536.05 L970.76,531.70 L973.56,527.24 L976.34,522.67 L979.08,518.00 L981.79,513.23 L984.45,508.37 L987.06,503.41 L989.62,498.36 L992.11,493.22 L994.54,488.00 L996.90,482.70 L999.18,477.33 L1001.37,471.88 L1003.47,466.36 L1005.48,460.78 L1007.38,455.14 L1009.18,449.44 L1010.87,443.69 L1012.44,437.89 L1013.89,432.05 L1015.21,426.16 L1016.41,420.24 L1017.47,414.28 L1018.40,408.29 L1019.19,402.28 L1019.84,396.25 L1020.35,390.20 L1020.71,384.14 L1020.93,378.07 Z" fill="none" stroke="url(#rg5)" stroke-width="8.0"/>
<linearGradient id="rg6" x1="0" y1="0" x2="0" y2="1"><stop offset="0" stop-color="#a81808"/><stop offset="0.3" stop-color="#da4c1c"/><stop offset="0.7" stop-color="#da4c1c"/><stop offset="1" stop-color="#e05a20"/></linearGradient>
<path d="M1021.00,372.00 L1020.93,365.93 L1020.71,359.86 L1020.35,353.80 L1019.84,347.75 L1019.19,341.72 L1018.40,335.71 L1017.47,329.72 L1016.41,323.76 L1015.21,317.84 L1013.89,311.95 L1012.44,306.11 L1010.87,300.31 L1009.18,294.56 L1007.38,288.86 L1005.48,283.22 L1003.47,277.64 L1001.37,272.12 L999.18,266.67 L996.90,261.30 L994.54,256.00 L992.11,250.78 L989.62,245.64 L987.06,240.59 L984.45,235.63 L981.79,230.77 L979.08,226.00 L976.34,221.33 L973.56,216.76 L970.76,212.30 L967.94,207.95 L965.10,203.71 L962.25,199.59 L959.39,195.59 L956.53,191.70 L953.68,187.94 L950.83,184.31 L947.98,180.80 L945.15,177.43 L942.34,174.19 L939.54,171.08 L936.76,168.11 L934.00,165.29 L931.26,162.60 L928.55,160.06 L925.86,157.66 L923.20,155.41 L920.56,153.31 L917.95,151.35 L915.36,149.55 L912.79,147.91 L910.24,146.41 L907.72,145.07 L905.21,143.88 L902.72,142.86 L900.24,141.98 L897.78,141.27 L895.32,140.72 L892.88,140.32 L890.44,140.08 L888.00,140.00 L885.56,140.08 L883.12,140.32 L880.68,140.72 L878.22,141.27 L875.76,141.98 L873.28,142.86 L870.79,143.88 L868.28,145.07 L865.76,146.41 L863.21,147.91 L860.64,149.55 L858.05,151.35 L855.44,153.31 L852.80,155.41 L850.14,157.66 L847.45,160.06 L844.74,162.60 L842.00,165.29 L839.24,168.11 L836.46,171.08 L833.66,174.19 L830.85,177.43 L828.02,180.80 L825.17,184.31 L822.32,187.94 L819.47,191.70 L816.61,195.59 L813.75,199.59 L810.90,203.71 L808.06,207.95 L805.24,212.30 L802.44,216.76 L799.66,221.33 L796.92,226.00 L794.21,230.77 L791.55,235.63 L788.94,240.59 L786.38,245.64 L783.89,250.78 L781.46,256.00 L779.10,261.30 L776.82,266.67 L774.63,272.12 L772.53,277.64 L770.52,283.22 L768.62,288.86 L766.82,294.56 L765.13,300.31 L763.56,306.11 L762.11,311.95 L760.79,317.84 L759.59,323.76 L758.53,329.72 L757.60,335.71 L756.81,341.72 L756.16,347.75 L755.65,353.80 L755.29,359.86 L755.07,365.93 L755.00,372.00 L755.07,378.07 L755.29,384.14 L755.65,390.20 L756.16,396.25 L756.81,402.28 L757.60,408.29 L758.53,414.28 L759.59,420.24 L760.79,426.16 L762.11,432.05 L763.56,437.89 L765.13,443.69 L766.82,449.44 L768.62,455.14 L770.52,460.78 L772.53,466.36 L774.63,471.88 L776.82,477.33 L779.10,482.70 L781.46,488.00 L783.89,493.22 L786.38,498.36 L788.94,503.41 L791.55,508.37 L794.21,513.23 L796.92,518.00 L799.66,522.67 L802.44,527.24 L805.24,531.70 L808.06,536.05 L810.90,540.29 L813.75,544.41 L816.61,548.41 L819.47,552.30 L822.32,556.06 L825.17,559.69 L828.02,563.20 L830.85,566.57 L833.66,569.81 L836.46,572.92 L839.24,575.89 L842.00,578.71 L844.74,581.40 L847.45,583.94 L850.14,586.34 L852.80,588.59 L855.44,590.69 L858.05,592.65 L860.64,594.45 L863.21,596.09 L865.76,597.59 L868.28,598.93 L870.79,600.12 L873.28,601.14 L875.76,602.02 L878.22,602.73 L880.68,603.28 L883.12,603.68 L885.56,603.92 L888.00,604.00 L890.44,603.92 L892.88,603.68 L895.32,603.28 L897.78,602.73 L900.24,602.02 L902.72,601.14 L905.21,600.12 L907.72,598.93 L910.24,597.59 L912.79,596.09 L915.36,594.45 L917.95,592.65 L920.56,590.69 L923.20,588.59 L925.86,586.34 L928.55,583.94 L931.26,581.40 L934.00,578.71 L936.76,575.89 L939.54,572.92 L942.34,569.81 L945.15,566.57 L947.98,563.20 L950.83,559.69 L953.68,556.06 L956.53,552.30 L959.39,548.41 L962.25,544.41 L965.10,540.29 L967.94,536.05 L970.76,531.70 L973.56,527.24 L976.34,522.67 L979.08,518.00 L981.79,513.23 L984.45,508.37 L987.06,503.41 L989.62,498.36 L992.11,493.22 L994.54,488.00 L996.90,482.70 L999.18,477.33 L1001.37,471.88 L1003.47,466.36 L1005.48,460.78 L1007.38,455.14 L1009.18,449.44 L1010.87,443.69 L1012.44,437.89 L1013.89,432.05 L1015.21,426.16 L1016.41,420.24 L1017.47,414.28 L1018.40,408.29 L1019.19,402.28 L1019.84,396.25 L1020.35,390.20 L1020.71,384.14 L1020.93,378.07 Z" fill="none" stroke="url(#rg6)" stroke-width="5.0"/>
<linearGradient id="rg7" x1="0" y1="0" x2="0" y2="1"><stop offset="0" stop-color="#200000"/><stop offset="0.3" stop-color="#380000"/><stop offset="0.7" stop-color="#380000"/><stop offset="1" stop-color="#380000"/></linearGradient>
<path d="M1048.20,372.00 L1048.11,364.67 L1047.85,357.35 L1047.41,350.03 L1046.80,342.73 L1046.02,335.45 L1045.07,328.20 L1043.95,320.97 L1042.67,313.78 L1041.23,306.64 L1039.63,299.53 L1037.89,292.48 L1035.99,285.48 L1033.96,278.53 L1031.80,271.66 L1029.50,264.85 L1027.09,258.11 L1024.55,251.46 L1021.91,244.88 L1019.17,238.40 L1016.33,232.00 L1013.41,225.70 L1010.40,219.50 L1007.32,213.41 L1004.17,207.42 L1000.97,201.55 L997.71,195.79 L994.40,190.15 L991.06,184.64 L987.69,179.26 L984.29,174.01 L980.87,168.90 L977.43,163.92 L973.99,159.09 L970.55,154.40 L967.11,149.86 L963.67,145.48 L960.25,141.24 L956.84,137.17 L953.45,133.26 L950.08,129.51 L946.73,125.93 L943.41,122.52 L940.11,119.28 L936.85,116.21 L933.61,113.31 L930.40,110.60 L927.22,108.06 L924.07,105.70 L920.95,103.53 L917.86,101.54 L914.79,99.74 L911.75,98.12 L908.73,96.69 L905.73,95.45 L902.74,94.40 L899.78,93.53 L896.82,92.86 L893.88,92.38 L890.94,92.10 L888.00,92.00 L885.06,92.10 L882.12,92.38 L879.18,92.86 L876.22,93.53 L873.26,94.40 L870.27,95.45 L867.27,96.69 L864.25,98.12 L861.21,99.74 L858.14,101.54 L855.05,103.53 L851.93,105.70 L848.78,108.06 L845.60,110.60 L842.39,113.31 L839.15,116.21 L835.89,119.28 L832.59,122.52 L829.27,125.93 L825.92,129.51 L822.55,133.26 L819.16,137.17 L815.75,141.24 L812.33,145.48 L808.89,149.86 L805.45,154.40 L802.01,159.09 L798.57,163.92 L795.13,168.90 L791.71,174.01 L788.31,179.26 L784.94,184.64 L781.60,190.15 L778.29,195.79 L775.03,201.55 L771.83,207.42 L768.68,213.41 L765.60,219.50 L762.59,225.70 L759.67,232.00 L756.83,238.40 L754.09,244.88 L751.45,251.46 L748.91,258.11 L746.50,264.85 L744.20,271.66 L742.04,278.53 L740.01,285.48 L738.11,292.48 L736.37,299.53 L734.77,306.64 L733.33,313.78 L732.05,320.97 L730.93,328.20 L729.98,335.45 L729.20,342.73 L728.59,350.03 L728.15,357.35 L727.89,364.67 L727.80,372.00 L727.89,379.33 L728.15,386.65 L728.59,393.97 L729.20,401.27 L729.98,408.55 L730.93,415.80 L732.05,423.03 L733.33,430.22 L734.77,437.36 L736.37,444.47 L738.11,451.52 L740.01,458.52 L742.04,465.47 L744.20,472.34 L746.50,479.15 L748.91,485.89 L751.45,492.54 L754.09,499.12 L756.83,505.60 L759.67,512.00 L762.59,518.30 L765.60,524.50 L768.68,530.59 L771.83,536.58 L775.03,542.45 L778.29,548.21 L781.60,553.85 L784.94,559.36 L788.31,564.74 L791.71,569.99 L795.13,575.10 L798.57,580.08 L802.01,584.91 L805.45,589.60 L808.89,594.14 L812.33,598.52 L815.75,602.76 L819.16,606.83 L822.55,610.74 L825.92,614.49 L829.27,618.07 L832.59,621.48 L835.89,624.72 L839.15,627.79 L842.39,630.69 L845.60,633.40 L848.78,635.94 L851.93,638.30 L855.05,640.47 L858.14,642.46 L861.21,644.26 L864.25,645.88 L867.27,647.31 L870.27,648.55 L873.26,649.60 L876.22,650.47 L879.18,651.14 L882.12,651.62 L885.06,651.90 L888.00,652.00 L890.94,651.90 L893.88,651.62 L896.82,651.14 L899.78,650.47 L902.74,649.60 L905.73,648.55 L908.73,647.31 L911.75,645.88 L914.79,644.26 L917.86,642.46 L920.95,640.47 L924.07,638.30 L927.22,635.94 L930.40,633.40 L933.61,630.69 L936.85,627.79 L940.11,624.72 L943.41,621.48 L946.73,618.07 L950.08,614.49 L953.45,610.74 L956.84,606.83 L960.25,602.76 L963.67,598.52 L967.11,594.14 L970.55,589.60 L973.99,584.91 L977.43,580.08 L980.87,575.10 L984.29,569.99 L987.69,564.74 L991.06,559.36 L994.40,553.85 L997.71,548.21 L1000.97,542.45 L1004.17,536.58 L1007.32,530.59 L1010.40,524.50 L1013.41,518.30 L1016.33,512.00 L1019.17,505.60 L1021.91,499.12 L1024.55,492.54 L1027.09,485.89 L1029.50,479.15 L1031.80,472.34 L1033.96,465.47 L1035.99,458.52 L1037.89,451.52 L1039.63,444.47 L1041.23,437.36 L1042.67,430.22 L1043.95,423.03 L1045.07,415.80 L1046.02,408.55 L1046.80,401.27 L1047.41,393.97 L1047.85,386.65 L1048.11,379.33 Z" fill="none" stroke="url(#rg7)" stroke-width="9.0"/>
<linearGradient id="rg8" x1="0" y1="0" x2="0" y2="1"><stop offset="0" stop-color="#400200"/><stop offset="0.3" stop-color="#700400"/><stop offset="0.7" stop-color="#700400"/><stop offset="1" stop-color="#700400"/></linearGradient>
<path d="M1048.20,372.00 L1048.11,364.67 L1047.85,357.35 L1047.41,350.03 L1046.80,342.73 L1046.02,335.45 L1045.07,328.20 L1043.95,320.97 L1042.67,313.78 L1041.23,306.64 L1039.63,299.53 L1037.89,292.48 L1035.99,285.48 L1033.96,278.53 L1031.80,271.66 L1029.50,264.85 L1027.09,258.11 L1024.55,251.46 L1021.91,244.88 L1019.17,238.40 L1016.33,232.00 L1013.41,225.70 L1010.40,219.50 L1007.32,213.41 L1004.17,207.42 L1000.97,201.55 L997.71,195.79 L994.40,190.15 L991.06,184.64 L987.69,179.26 L984.29,174.01 L980.87,168.90 L977.43,163.92 L973.99,159.09 L970.55,154.40 L967.11,149.86 L963.67,145.48 L960.25,141.24 L956.84,137.17 L953.45,133.26 L950.08,129.51 L946.73,125.93 L943.41,122.52 L940.11,119.28 L936.85,116.21 L933.61,113.31 L930.40,110.60 L927.22,108.06 L924.07,105.70 L920.95,103.53 L917.86,101.54 L914.79,99.74 L911.75,98.12 L908.73,96.69 L905.73,95.45 L902.74,94.40 L899.78,93.53 L896.82,92.86 L893.88,92.38 L890.94,92.10 L888.00,92.00 L885.06,92.10 L882.12,92.38 L879.18,92.86 L876.22,93.53 L873.26,94.40 L870.27,95.45 L867.27,96.69 L864.25,98.12 L861.21,99.74 L858.14,101.54 L855.05,103.53 L851.93,105.70 L848.78,108.06 L845.60,110.60 L842.39,113.31 L839.15,116.21 L835.89,119.28 L832.59,122.52 L829.27,125.93 L825.92,129.51 L822.55,133.26 L819.16,137.17 L815.75,141.24 L812.33,145.48 L808.89,149.86 L805.45,154.40 L802.01,159.09 L798.57,163.92 L795.13,168.90 L791.71,174.01 L788.31,179.26 L784.94,184.64 L781.60,190.15 L778.29,195.79 L775.03,201.55 L771.83,207.42 L768.68,213.41 L765.60,219.50 L762.59,225.70 L759.67,232.00 L756.83,238.40 L754.09,244.88 L751.45,251.46 L748.91,258.11 L746.50,264.85 L744.20,271.66 L742.04,278.53 L740.01,285.48 L738.11,292.48 L736.37,299.53 L734.77,306.64 L733.33,313.78 L732.05,320.97 L730.93,328.20 L729.98,335.45 L729.20,342.73 L728.59,350.03 L728.15,357.35 L727.89,364.67 L727.80,372.00 L727.89,379.33 L728.15,386.65 L728.59,393.97 L729.20,401.27 L729.98,408.55 L730.93,415.80 L732.05,423.03 L733.33,430.22 L734.77,437.36 L736.37,444.47 L738.11,451.52 L740.01,458.52 L742.04,465.47 L744.20,472.34 L746.50,479.15 L748.91,485.89 L751.45,492.54 L754.09,499.12 L756.83,505.60 L759.67,512.00 L762.59,518.30 L765.60,524.50 L768.68,530.59 L771.83,536.58 L775.03,542.45 L778.29,548.21 L781.60,553.85 L784.94,559.36 L788.31,564.74 L791.71,569.99 L795.13,575.10 L798.57,580.08 L802.01,584.91 L805.45,589.60 L808.89,594.14 L812.33,598.52 L815.75,602.76 L819.16,606.83 L822.55,610.74 L825.92,614.49 L829.27,618.07 L832.59,621.48 L835.89,624.72 L839.15,627.79 L842.39,630.69 L845.60,633.40 L848.78,635.94 L851.93,638.30 L855.05,640.47 L858.14,642.46 L861.21,644.26 L864.25,645.88 L867.27,647.31 L870.27,648.55 L873.26,649.60 L876.22,650.47 L879.18,651.14 L882.12,651.62 L885.06,651.90 L888.00,652.00 L890.94,651.90 L893.88,651.62 L896.82,651.14 L899.78,650.47 L902.74,649.60 L905.73,648.55 L908.73,647.31 L911.75,645.88 L914.79,644.26 L917.86,642.46 L920.95,640.47 L924.07,638.30 L927.22,635.94 L930.40,633.40 L933.61,630.69 L936.85,627.79 L940.11,624.72 L943.41,621.48 L946.73,618.07 L950.08,614.49 L953.45,610.74 L956.84,606.83 L960.25,602.76 L963.67,598.52 L967.11,594.14 L970.55,589.60 L973.99,584.91 L977.43,580.08 L980.87,575.10 L984.29,569.99 L987.69,564.74 L991.06,559.36 L994.40,553.85 L997.71,548.21 L1000.97,542.45 L1004.17,536.58 L1007.32,530.59 L1010.40,524.50 L1013.41,518.30 L1016.33,512.00 L1019.17,505.60 L1021.91,499.12 L1024.55,492.54 L1027.09,485.89 L1029.50,479.15 L1031.80,472.34 L1033.96,465.47 L1035.99,458.52 L1037.89,451.52 L1039.63,444.47 L1041.23,437.36 L1042.67,430.22 L1043.95,423.03 L1045.07,415.80 L1046.02,408.55 L1046.80,401.27 L1047.41,393.97 L1047.85,386.65 L1048.11,379.33 Z" fill="none" stroke="url(#rg8)" stroke-width="7.0"/>
<linearGradient id="rg9" x1="0" y1="0" x2="0" y2="1"><stop offset="0" stop-color="#5a0400"/><stop offset="0.3" stop-color="#b80c06"/><stop offset="0.7" stop-color="#b80c06"/><stop offset="1" stop-color="#c01408"/></linearGradient>
<path d="M1048.20,372.00 L1048.11,364.67 L1047.85,357.35 L1047.41,350.03 L1046.80,342.73 L1046.02,335.45 L1045.07,328.20 L1043.95,320.97 L1042.67,313.78 L1041.23,306.64 L1039.63,299.53 L1037.89,292.48 L1035.99,285.48 L1033.96,278.53 L1031.80,271.66 L1029.50,264.85 L1027.09,258.11 L1024.55,251.46 L1021.91,244.88 L1019.17,238.40 L1016.33,232.00 L1013.41,225.70 L1010.40,219.50 L1007.32,213.41 L1004.17,207.42 L1000.97,201.55 L997.71,195.79 L994.40,190.15 L991.06,184.64 L987.69,179.26 L984.29,174.01 L980.87,168.90 L977.43,163.92 L973.99,159.09 L970.55,154.40 L967.11,149.86 L963.67,145.48 L960.25,141.24 L956.84,137.17 L953.45,133.26 L950.08,129.51 L946.73,125.93 L943.41,122.52 L940.11,119.28 L936.85,116.21 L933.61,113.31 L930.40,110.60 L927.22,108.06 L924.07,105.70 L920.95,103.53 L917.86,101.54 L914.79,99.74 L911.75,98.12 L908.73,96.69 L905.73,95.45 L902.74,94.40 L899.78,93.53 L896.82,92.86 L893.88,92.38 L890.94,92.10 L888.00,92.00 L885.06,92.10 L882.12,92.38 L879.18,92.86 L876.22,93.53 L873.26,94.40 L870.27,95.45 L867.27,96.69 L864.25,98.12 L861.21,99.74 L858.14,101.54 L855.05,103.53 L851.93,105.70 L848.78,108.06 L845.60,110.60 L842.39,113.31 L839.15,116.21 L835.89,119.28 L832.59,122.52 L829.27,125.93 L825.92,129.51 L822.55,133.26 L819.16,137.17 L815.75,141.24 L812.33,145.48 L808.89,149.86 L805.45,154.40 L802.01,159.09 L798.57,163.92 L795.13,168.90 L791.71,174.01 L788.31,179.26 L784.94,184.64 L781.60,190.15 L778.29,195.79 L775.03,201.55 L771.83,207.42 L768.68,213.41 L765.60,219.50 L762.59,225.70 L759.67,232.00 L756.83,238.40 L754.09,244.88 L751.45,251.46 L748.91,258.11 L746.50,264.85 L744.20,271.66 L742.04,278.53 L740.01,285.48 L738.11,292.48 L736.37,299.53 L734.77,306.64 L733.33,313.78 L732.05,320.97 L730.93,328.20 L729.98,335.45 L729.20,342.73 L728.59,350.03 L728.15,357.35 L727.89,364.67 L727.80,372.00 L727.89,379.33 L728.15,386.65 L728.59,393.97 L729.20,401.27 L729.98,408.55 L730.93,415.80 L732.05,423.03 L733.33,430.22 L734.77,437.36 L736.37,444.47 L738.11,451.52 L740.01,458.52 L742.04,465.47 L744.20,472.34 L746.50,479.15 L748.91,485.89 L751.45,492.54 L754.09,499.12 L756.83,505.60 L759.67,512.00 L762.59,518.30 L765.60,524.50 L768.68,530.59 L771.83,536.58 L775.03,542.45 L778.29,548.21 L781.60,553.85 L784.94,559.36 L788.31,564.74 L791.71,569.99 L795.13,575.10 L798.57,580.08 L802.01,584.91 L805.45,589.60 L808.89,594.14 L812.33,598.52 L815.75,602.76 L819.16,606.83 L822.55,610.74 L825.92,614.49 L829.27,618.07 L832.59,621.48 L835.89,624.72 L839.15,627.79 L842.39,630.69 L845.60,633.40 L848.78,635.94 L851.93,638.30 L855.05,640.47 L858.14,642.46 L861.21,644.26 L864.25,645.88 L867.27,647.31 L870.27,648.55 L873.26,649.60 L876.22,650.47 L879.18,651.14 L882.12,651.62 L885.06,651.90 L888.00,652.00 L890.94,651.90 L893.88,651.62 L896.82,651.14 L899.78,650.47 L902.74,649.60 L905.73,648.55 L908.73,647.31 L911.75,645.88 L914.79,644.26 L917.86,642.46 L920.95,640.47 L924.07,638.30 L927.22,635.94 L930.40,633.40 L933.61,630.69 L936.85,627.79 L940.11,624.72 L943.41,621.48 L946.73,618.07 L950.08,614.49 L953.45,610.74 L956.84,606.83 L960.25,602.76 L963.67,598.52 L967.11,594.14 L970.55,589.60 L973.99,584.91 L977.43,580.08 L980.87,575.10 L984.29,569.99 L987.69,564.74 L991.06,559.36 L994.40,553.85 L997.71,548.21 L1000.97,542.45 L1004.17,536.58 L1007.32,530.59 L1010.40,524.50 L1013.41,518.30 L1016.33,512.00 L1019.17,505.60 L1021.91,499.12 L1024.55,492.54 L1027.09,485.89 L1029.50,479.15 L1031.80,472.34 L1033.96,465.47 L1035.99,458.52 L1037.89,451.52 L1039.63,444.47 L1041.23,437.36 L1042.67,430.22 L1043.95,423.03 L1045.07,415.80 L1046.02,408.55 L1046.80,401.27 L1047.41,393.97 L1047.85,386.65 L1048.11,379.33 Z" fill="none" stroke="url(#rg9)" stroke-width="4.5"/>
<linearGradient id="rg10" x1="0" y1="0" x2="0" y2="1"><stop offset="0" stop-color="#100000"/><stop offset="0.3" stop-color="#200000"/><stop offset="0.7" stop-color="#200000"/><stop offset="1" stop-color="#200000"/></linearGradient>
<path d="M1075.40,372.00 L1075.30,363.41 L1074.99,354.83 L1074.48,346.27 L1073.76,337.71 L1072.85,329.19 L1071.73,320.69 L1070.43,312.23 L1068.93,303.80 L1067.24,295.43 L1065.38,287.11 L1063.33,278.84 L1061.12,270.64 L1058.75,262.51 L1056.21,254.46 L1053.53,246.48 L1050.70,238.59 L1047.74,230.79 L1044.65,223.09 L1041.44,215.49 L1038.12,208.00 L1034.70,200.62 L1031.18,193.36 L1027.58,186.22 L1023.90,179.21 L1020.15,172.33 L1016.33,165.58 L1012.47,158.98 L1008.56,152.53 L1004.61,146.22 L1000.64,140.07 L996.64,134.08 L992.62,128.25 L988.59,122.59 L984.57,117.10 L980.54,111.78 L976.52,106.64 L972.52,101.69 L968.53,96.92 L964.56,92.33 L960.62,87.94 L956.70,83.75 L952.82,79.75 L948.96,75.95 L945.14,72.36 L941.35,68.97 L937.60,65.79 L933.88,62.81 L930.20,60.05 L926.55,57.51 L922.93,55.18 L919.34,53.06 L915.78,51.17 L912.25,49.49 L908.74,48.04 L905.25,46.81 L901.78,45.80 L898.32,45.01 L894.87,44.45 L891.43,44.11 L888.00,44.00 L884.57,44.11 L881.13,44.45 L877.68,45.01 L874.22,45.80 L870.75,46.81 L867.26,48.04 L863.75,49.49 L860.22,51.17 L856.66,53.06 L853.07,55.18 L849.45,57.51 L845.80,60.05 L842.12,62.81 L838.40,65.79 L834.65,68.97 L830.86,72.36 L827.04,75.95 L823.18,79.75 L819.30,83.75 L815.38,87.94 L811.44,92.33 L807.47,96.92 L803.48,101.69 L799.48,106.64 L795.46,111.78 L791.43,117.10 L787.41,122.59 L783.38,128.25 L779.36,134.08 L775.36,140.07 L771.39,146.22 L767.44,152.53 L763.53,158.98 L759.67,165.58 L755.85,172.33 L752.10,179.21 L748.42,186.22 L744.82,193.36 L741.30,200.62 L737.88,208.00 L734.56,215.49 L731.35,223.09 L728.26,230.79 L725.30,238.59 L722.47,246.48 L719.79,254.46 L717.25,262.51 L714.88,270.64 L712.67,278.84 L710.62,287.11 L708.76,295.43 L707.07,303.80 L705.57,312.23 L704.27,320.69 L703.15,329.19 L702.24,337.71 L701.52,346.27 L701.01,354.83 L700.70,363.41 L700.60,372.00 L700.70,380.59 L701.01,389.17 L701.52,397.73 L702.24,406.29 L703.15,414.81 L704.27,423.31 L705.57,431.77 L707.07,440.20 L708.76,448.57 L710.62,456.89 L712.67,465.16 L714.88,473.36 L717.25,481.49 L719.79,489.54 L722.47,497.52 L725.30,505.41 L728.26,513.21 L731.35,520.91 L734.56,528.51 L737.88,536.00 L741.30,543.38 L744.82,550.64 L748.42,557.78 L752.10,564.79 L755.85,571.67 L759.67,578.42 L763.53,585.02 L767.44,591.47 L771.39,597.78 L775.36,603.93 L779.36,609.92 L783.38,615.75 L787.41,621.41 L791.43,626.90 L795.46,632.22 L799.48,637.36 L803.48,642.31 L807.47,647.08 L811.44,651.67 L815.38,656.06 L819.30,660.25 L823.18,664.25 L827.04,668.05 L830.86,671.64 L834.65,675.03 L838.40,678.21 L842.12,681.19 L845.80,683.95 L849.45,686.49 L853.07,688.82 L856.66,690.94 L860.22,692.83 L863.75,694.51 L867.26,695.96 L870.75,697.19 L874.22,698.20 L877.68,698.99 L881.13,699.55 L884.57,699.89 L888.00,700.00 L891.43,699.89 L894.87,699.55 L898.32,698.99 L901.78,698.20 L905.25,697.19 L908.74,695.96 L912.25,694.51 L915.78,692.83 L919.34,690.94 L922.93,688.82 L926.55,686.49 L930.20,683.95 L933.88,681.19 L937.60,678.21 L941.35,675.03 L945.14,671.64 L948.96,668.05 L952.82,664.25 L956.70,660.25 L960.62,656.06 L964.56,651.67 L968.53,647.08 L972.52,642.31 L976.52,637.36 L980.54,632.22 L984.57,626.90 L988.59,621.41 L992.62,615.75 L996.64,609.92 L1000.64,603.93 L1004.61,597.78 L1008.56,591.47 L1012.47,585.02 L1016.33,578.42 L1020.15,571.67 L1023.90,564.79 L1027.58,557.78 L1031.18,550.64 L1034.70,543.38 L1038.12,536.00 L1041.44,528.51 L1044.65,520.91 L1047.74,513.21 L1050.70,505.41 L1053.53,497.52 L1056.21,489.54 L1058.75,481.49 L1061.12,473.36 L1063.33,465.16 L1065.38,456.89 L1067.24,448.57 L1068.93,440.20 L1070.43,431.77 L1071.73,423.31 L1072.85,414.81 L1073.76,406.29 L1074.48,397.73 L1074.99,389.17 L1075.30,380.59 Z" fill="none" stroke="url(#rg10)" stroke-width="7.0"/>
<linearGradient id="rg11" x1="0" y1="0" x2="0" y2="1"><stop offset="0" stop-color="#2a0000"/><stop offset="0.3" stop-color="#5a0200"/><stop offset="0.7" stop-color="#5a0200"/><stop offset="1" stop-color="#5a0200"/></linearGradient>
<path d="M1075.40,372.00 L1075.30,363.41 L1074.99,354.83 L1074.48,346.27 L1073.76,337.71 L1072.85,329.19 L1071.73,320.69 L1070.43,312.23 L1068.93,303.80 L1067.24,295.43 L1065.38,287.11 L1063.33,278.84 L1061.12,270.64 L1058.75,262.51 L1056.21,254.46 L1053.53,246.48 L1050.70,238.59 L1047.74,230.79 L1044.65,223.09 L1041.44,215.49 L1038.12,208.00 L1034.70,200.62 L1031.18,193.36 L1027.58,186.22 L1023.90,179.21 L1020.15,172.33 L1016.33,165.58 L1012.47,158.98 L1008.56,152.53 L1004.61,146.22 L1000.64,140.07 L996.64,134.08 L992.62,128.25 L988.59,122.59 L984.57,117.10 L980.54,111.78 L976.52,106.64 L972.52,101.69 L968.53,96.92 L964.56,92.33 L960.62,87.94 L956.70,83.75 L952.82,79.75 L948.96,75.95 L945.14,72.36 L941.35,68.97 L937.60,65.79 L933.88,62.81 L930.20,60.05 L926.55,57.51 L922.93,55.18 L919.34,53.06 L915.78,51.17 L912.25,49.49 L908.74,48.04 L905.25,46.81 L901.78,45.80 L898.32,45.01 L894.87,44.45 L891.43,44.11 L888.00,44.00 L884.57,44.11 L881.13,44.45 L877.68,45.01 L874.22,45.80 L870.75,46.81 L867.26,48.04 L863.75,49.49 L860.22,51.17 L856.66,53.06 L853.07,55.18 L849.45,57.51 L845.80,60.05 L842.12,62.81 L838.40,65.79 L834.65,68.97 L830.86,72.36 L827.04,75.95 L823.18,79.75 L819.30,83.75 L815.38,87.94 L811.44,92.33 L807.47,96.92 L803.48,101.69 L799.48,106.64 L795.46,111.78 L791.43,117.10 L787.41,122.59 L783.38,128.25 L779.36,134.08 L775.36,140.07 L771.39,146.22 L767.44,152.53 L763.53,158.98 L759.67,165.58 L755.85,172.33 L752.10,179.21 L748.42,186.22 L744.82,193.36 L741.30,200.62 L737.88,208.00 L734.56,215.49 L731.35,223.09 L728.26,230.79 L725.30,238.59 L722.47,246.48 L719.79,254.46 L717.25,262.51 L714.88,270.64 L712.67,278.84 L710.62,287.11 L708.76,295.43 L707.07,303.80 L705.57,312.23 L704.27,320.69 L703.15,329.19 L702.24,337.71 L701.52,346.27 L701.01,354.83 L700.70,363.41 L700.60,372.00 L700.70,380.59 L701.01,389.17 L701.52,397.73 L702.24,406.29 L703.15,414.81 L704.27,423.31 L705.57,431.77 L707.07,440.20 L708.76,448.57 L710.62,456.89 L712.67,465.16 L714.88,473.36 L717.25,481.49 L719.79,489.54 L722.47,497.52 L725.30,505.41 L728.26,513.21 L731.35,520.91 L734.56,528.51 L737.88,536.00 L741.30,543.38 L744.82,550.64 L748.42,557.78 L752.10,564.79 L755.85,571.67 L759.67,578.42 L763.53,585.02 L767.44,591.47 L771.39,597.78 L775.36,603.93 L779.36,609.92 L783.38,615.75 L787.41,621.41 L791.43,626.90 L795.46,632.22 L799.48,637.36 L803.48,642.31 L807.47,647.08 L811.44,651.67 L815.38,656.06 L819.30,660.25 L823.18,664.25 L827.04,668.05 L830.86,671.64 L834.65,675.03 L838.40,678.21 L842.12,681.19 L845.80,683.95 L849.45,686.49 L853.07,688.82 L856.66,690.94 L860.22,692.83 L863.75,694.51 L867.26,695.96 L870.75,697.19 L874.22,698.20 L877.68,698.99 L881.13,699.55 L884.57,699.89 L888.00,700.00 L891.43,699.89 L894.87,699.55 L898.32,698.99 L901.78,698.20 L905.25,697.19 L908.74,695.96 L912.25,694.51 L915.78,692.83 L919.34,690.94 L922.93,688.82 L926.55,686.49 L930.20,683.95 L933.88,681.19 L937.60,678.21 L941.35,675.03 L945.14,671.64 L948.96,668.05 L952.82,664.25 L956.70,660.25 L960.62,656.06 L964.56,651.67 L968.53,647.08 L972.52,642.31 L976.52,637.36 L980.54,632.22 L984.57,626.90 L988.59,621.41 L992.62,615.75 L996.64,609.92 L1000.64,603.93 L1004.61,597.78 L1008.56,591.47 L1012.47,585.02 L1016.33,578.42 L1020.15,571.67 L1023.90,564.79 L1027.58,557.78 L1031.18,550.64 L1034.70,543.38 L1038.12,536.00 L1041.44,528.51 L1044.65,520.91 L1047.74,513.21 L1050.70,505.41 L1053.53,497.52 L1056.21,489.54 L1058.75,481.49 L1061.12,473.36 L1063.33,465.16 L1065.38,456.89 L1067.24,448.57 L1068.93,440.20 L1070.43,431.77 L1071.73,423.31 L1072.85,414.81 L1073.76,406.29 L1074.48,397.73 L1074.99,389.17 L1075.30,380.59 Z" fill="none" stroke="url(#rg11)" stroke-width="3.5"/>
</g>
</g>
<path d="M749.8,71.7 L842,71.7" stroke="#fff" stroke-width="3.3" fill="none"/>
<path d="M855.5,71.7 L840.5,63.5 L840.5,80.5 Z" fill="#fff"/>
<path d="M749.8,70 L749.8,164" stroke="#fff" stroke-width="3.3" fill="none"/>
<path d="M750.3,177.6 L741.6,162 L759,162 Z" fill="#fff"/>
<g clip-path="url(#cc)">
<rect x="1109" y="55" width="173" height="217" fill="#d9652a"/>
<g filter="url(#b12)"><ellipse cx="1194" cy="165" rx="60" ry="75" fill="#e07a30" opacity="0.6"/></g>
<g filter="url(#b2)" fill="none" stroke-linecap="butt">
<linearGradient id="cbg0" x1="0" y1="0" x2="1" y2="0"><stop offset="0" stop-color="#c2462a" stop-opacity="0"/><stop offset="0.18" stop-color="#c2462a" stop-opacity="0.85"/><stop offset="0.82" stop-color="#c2462a" stop-opacity="0.85"/><stop offset="1" stop-color="#c2462a" stop-opacity="0"/></linearGradient>
<path d="M1118.0,72.0 Q1192.0,118.0 1262.0,80.0" stroke="url(#cbg0)" stroke-width="9.0"/>
<linearGradient id="cbg1" x1="0" y1="0" x2="1" y2="0"><stop offset="0" stop-color="#e4842c" stop-opacity="0"/><stop offset="0.18" stop-color="#e4842c" stop-opacity="0.70"/><stop offset="0.82" stop-color="#e4842c" stop-opacity="0.70"/><stop offset="1" stop-color="#e4842c" stop-opacity="0"/></linearGradient>
<path d="M1132.0,98.0 Q1191.0,126.0 1250.0,98.0" stroke="url(#cbg1)" stroke-width="7.0"/>
<linearGradient id="cbg2" x1="0" y1="0" x2="1" y2="0"><stop offset="0" stop-color="#b03224" stop-opacity="0"/><stop offset="0.18" stop-color="#b03224" stop-opacity="1.00"/><stop offset="0.82" stop-color="#b03224" stop-opacity="1.00"/><stop offset="1" stop-color="#b03224" stop-opacity="0"/></linearGradient>
<path d="M1132.0,110.0 Q1197.0,155.0 1238.0,120.0" stroke="url(#cbg2)" stroke-width="9.0"/>
<linearGradient id="cbg3" x1="0" y1="0" x2="1" y2="0"><stop offset="0" stop-color="#f2b444" stop-opacity="0"/><stop offset="0.18" stop-color="#f2b444" stop-opacity="1.00"/><stop offset="0.82" stop-color="#f2b444" stop-opacity="1.00"/><stop offset="1" stop-color="#f2b444" stop-opacity="0"/></linearGradient>
<path d="M1156.0,133.0 Q1193.0,150.5 1226.0,134.0" stroke="url(#cbg3)" stroke-width="6.0"/>
<linearGradient id="cbg4" x1="0" y1="0" x2="1" y2="0"><stop offset="0" stop-color="#a82a22" stop-opacity="0"/><stop offset="0.18" stop-color="#a82a22" stop-opacity="1.00"/><stop offset="0.82" stop-color="#a82a22" stop-opacity="1.00"/><stop offset="1" stop-color="#a82a22" stop-opacity="0"/></linearGradient>
<path d="M1156.0,140.0 Q1196.0,158.5 1232.0,141.0" stroke="url(#cbg4)" stroke-width="7.0"/>
<linearGradient id="cbg5" x1="0" y1="0" x2="1" y2="0"><stop offset="0" stop-color="#a22622" stop-opacity="0"/><stop offset="0.18" stop-color="#a22622" stop-opacity="1.00"/><stop offset="0.82" stop-color="#a22622" stop-opacity="1.00"/><stop offset="1" stop-color="#a22622" stop-opacity="0"/></linearGradient>
<path d="M1154.0,183.0 Q1191.0,166.1 1236.0,182.0" stroke="url(#cbg5)" stroke-width="7.0"/>
<linearGradient id="cbg6" x1="0" y1="0" x2="1" y2="0"><stop offset="0" stop-color="#f0a838" stop-opacity="0"/><stop offset="0.18" stop-color="#f0a838" stop-opacity="0.90"/><stop offset="0.82" stop-color="#f0a838" stop-opacity="0.90"/><stop offset="1" stop-color="#f0a838" stop-opacity="0"/></linearGradient>
<path d="M1154.0,192.0 Q1192.0,175.0 1242.0,192.0" stroke="url(#cbg6)" stroke-width="6.0"/>
<linearGradient id="cbg7" x1="0" y1="0" x2="1" y2="0"><stop offset="0" stop-color="#ac3024" stop-opacity="0"/><stop offset="0.18" stop-color="#ac3024" stop-opacity="1.00"/><stop offset="0.82" stop-color="#ac3024" stop-opacity="1.00"/><stop offset="1" stop-color="#ac3024" stop-opacity="0"/></linearGradient>
<path d="M1145.0,204.0 Q1193.5,183.0 1248.0,204.0" stroke="url(#cbg7)" stroke-width="8.0"/>
<linearGradient id="cbg8" x1="0" y1="0" x2="1" y2="0"><stop offset="0" stop-color="#e4862e" stop-opacity="0"/><stop offset="0.18" stop-color="#e4862e" stop-opacity="0.70"/><stop offset="0.82" stop-color="#e4862e" stop-opacity="0.70"/><stop offset="1" stop-color="#e4862e" stop-opacity="0"/></linearGradient>
<path d="M1145.0,213.0 Q1191.5,192.0 1252.0,213.0" stroke="url(#cbg8)" stroke-width="6.0"/>
<linearGradient id="cbg9" x1="0" y1="0" x2="1" y2="0"><stop offset="0" stop-color="#b43a26" stop-opacity="0"/><stop offset="0.18" stop-color="#b43a26" stop-opacity="0.95"/><stop offset="0.82" stop-color="#b43a26" stop-opacity="0.95"/><stop offset="1" stop-color="#b43a26" stop-opacity="0"/></linearGradient>
<path d="M1142.0,223.0 Q1191.0,200.0 1256.0,223.0" stroke="url(#cbg9)" stroke-width="8.0"/>
<linearGradient id="cbg10" x1="0" y1="0" x2="1" y2="0"><stop offset="0" stop-color="#c2462a" stop-opacity="0"/><stop offset="0.18" stop-color="#c2462a" stop-opacity="0.75"/><stop offset="0.82" stop-color="#c2462a" stop-opacity="0.75"/><stop offset="1" stop-color="#c2462a" stop-opacity="0"/></linearGradient>
<path d="M1145.0,239.0 Q1186.5,220.0 1262.0,239.0" stroke="url(#cbg10)" stroke-width="8.0"/>
</g>
<rect x="1109" y="55" width="173" height="217" fill="url(#np2)" style="mix-blend-mode:overlay" opacity="0.2"/>
<g filter="url(#b3)"><ellipse cx="1194" cy="162.5" rx="36" ry="10" fill="#f2c640"/></g>
<g filter="url(#b1)"><path d="M1167,157 L1222,157.5 L1222,167 L1194,169.5 L1167,166 Z" fill="#fffaf0"/></g>
</g>
<rect x="1285" y="84" width="28" height="157" fill="url(#cm)"/>
<rect x="1171" y="264.6" width="57.5" height="2.2" fill="#000"/>
<rect x="1109" y="300" width="172" height="232" fill="#000"/>
<g clip-path="url(#cd)">
<g filter="url(#b1)">
<path d="M1105.50,303.12 L1108.50,303.86 L1111.50,304.58 L1114.50,305.28 L1117.50,305.96 L1120.50,306.62 L1123.50,307.25 L1126.50,307.86 L1129.50,308.45 L1132.50,309.02 L1135.50,309.56 L1138.50,310.08 L1141.50,310.57 L1144.50,311.04 L1147.50,311.48 L1150.50,311.90 L1153.50,312.30 L1156.50,312.67 L1159.50,313.01 L1162.50,313.32 L1165.50,313.61 L1168.50,313.87 L1171.50,314.11 L1174.50,314.32 L1177.50,314.50 L1180.50,314.65 L1183.50,314.78 L1186.50,314.87 L1189.50,314.94 L1192.50,314.99 L1195.50,315.00 L1198.50,314.99 L1201.50,314.94 L1204.50,314.87 L1207.50,314.78 L1210.50,314.65 L1213.50,314.50 L1216.50,314.32 L1219.50,314.11 L1222.50,313.87 L1225.50,313.61 L1228.50,313.32 L1231.50,313.01 L1234.50,312.67 L1237.50,312.30 L1240.50,311.90 L1243.50,311.48 L1246.50,311.04 L1249.50,310.57 L1252.50,310.08 L1255.50,309.56 L1258.50,309.02 L1261.50,308.45 L1264.50,307.86 L1267.50,307.25 L1270.50,306.62 L1273.50,305.96 L1276.50,305.28 L1279.50,304.58 L1282.50,303.86 L1285.50,303.12" fill="none" stroke="#1e0000" stroke-width="5.0" stroke-linecap="round"/>
<path d="M1105.50,303.12 L1108.50,303.86 L1111.50,304.58 L1114.50,305.28 L1117.50,305.96 L1120.50,306.62 L1123.50,307.25 L1126.50,307.86 L1129.50,308.45 L1132.50,309.02 L1135.50,309.56 L1138.50,310.08 L1141.50,310.57 L1144.50,311.04 L1147.50,311.48 L1150.50,311.90 L1153.50,312.30 L1156.50,312.67 L1159.50,313.01 L1162.50,313.32 L1165.50,313.61 L1168.50,313.87 L1171.50,314.11 L1174.50,314.32 L1177.50,314.50 L1180.50,314.65 L1183.50,314.78 L1186.50,314.87 L1189.50,314.94 L1192.50,314.99 L1195.50,315.00 L1198.50,314.99 L1201.50,314.94 L1204.50,314.87 L1207.50,314.78 L1210.50,314.65 L1213.50,314.50 L1216.50,314.32 L1219.50,314.11 L1222.50,313.87 L1225.50,313.61 L1228.50,313.32 L1231.50,313.01 L1234.50,312.67 L1237.50,312.30 L1240.50,311.90 L1243.50,311.48 L1246.50,311.04 L1249.50,310.57 L1252.50,310.08 L1255.50,309.56 L1258.50,309.02 L1261.50,308.45 L1264.50,307.86 L1267.50,307.25 L1270.50,306.62 L1273.50,305.96 L1276.50,305.28 L1279.50,304.58 L1282.50,303.86 L1285.50,303.12" fill="none" stroke="#2e0200" stroke-width="3.0" stroke-linecap="round"/>
<path d="M1105.50,528.88 L1108.50,528.14 L1111.50,527.42 L1114.50,526.72 L1117.50,526.04 L1120.50,525.38 L1123.50,524.75 L1126.50,524.14 L1129.50,523.55 L1132.50,522.98 L1135.50,522.44 L1138.50,521.92 L1141.50,521.43 L1144.50,520.96 L1147.50,520.52 L1150.50,520.10 L1153.50,519.70 L1156.50,519.33 L1159.50,518.99 L1162.50,518.68 L1165.50,518.39 L1168.50,518.13 L1171.50,517.89 L1174.50,517.68 L1177.50,517.50 L1180.50,517.35 L1183.50,517.22 L1186.50,517.13 L1189.50,517.06 L1192.50,517.01 L1195.50,517.00 L1198.50,517.01 L1201.50,517.06 L1204.50,517.13 L1207.50,517.22 L1210.50,517.35 L1213.50,517.50 L1216.50,517.68 L1219.50,517.89 L1222.50,518.13 L1225.50,518.39 L1228.50,518.68 L1231.50,518.99 L1234.50,519.33 L1237.50,519.70 L1240.50,520.10 L1243.50,520.52 L1246.50,520.96 L1249.50,521.43 L1252.50,521.92 L1255.50,522.44 L1258.50,522.98 L1261.50,523.55 L1264.50,524.14 L1267.50,524.75 L1270.50,525.38 L1273.50,526.04 L1276.50,526.72 L1279.50,527.42 L1282.50,528.14 L1285.50,528.88" fill="none" stroke="#1e0000" stroke-width="5.0" stroke-linecap="round"/>
<path d="M1105.50,528.88 L1108.50,528.14 L1111.50,527.42 L1114.50,526.72 L1117.50,526.04 L1120.50,525.38 L1123.50,524.75 L1126.50,524.14 L1129.50,523.55 L1132.50,522.98 L1135.50,522.44 L1138.50,521.92 L1141.50,521.43 L1144.50,520.96 L1147.50,520.52 L1150.50,520.10 L1153.50,519.70 L1156.50,519.33 L1159.50,518.99 L1162.50,518.68 L1165.50,518.39 L1168.50,518.13 L1171.50,517.89 L1174.50,517.68 L1177.50,517.50 L1180.50,517.35 L1183.50,517.22 L1186.50,517.13 L1189.50,517.06 L1192.50,517.01 L1195.50,517.00 L1198.50,517.01 L1201.50,517.06 L1204.50,517.13 L1207.50,517.22 L1210.50,517.35 L1213.50,517.50 L1216.50,517.68 L1219.50,517.89 L1222.50,518.13 L1225.50,518.39 L1228.50,518.68 L1231.50,518.99 L1234.50,519.33 L1237.50,519.70 L1240.50,520.10 L1243.50,520.52 L1246.50,520.96 L1249.50,521.43 L1252.50,521.92 L1255.50,522.44 L1258.50,522.98 L1261.50,523.55 L1264.50,524.14 L1267.50,524.75 L1270.50,525.38 L1273.50,526.04 L1276.50,526.72 L1279.50,527.42 L1282.50,528.14 L1285.50,528.88" fill="none" stroke="#2e0200" stroke-width="3.0" stroke-linecap="round"/>
<path d="M1105.50,313.68 L1108.50,314.56 L1111.50,315.41 L1114.50,316.24 L1117.50,317.05 L1120.50,317.84 L1123.50,318.59 L1126.50,319.33 L1129.50,320.03 L1132.50,320.72 L1135.50,321.37 L1138.50,321.99 L1141.50,322.59 L1144.50,323.16 L1147.50,323.70 L1150.50,324.21 L1153.50,324.69 L1156.50,325.14 L1159.50,325.56 L1162.50,325.94 L1165.50,326.30 L1168.50,326.62 L1171.50,326.91 L1174.50,327.16 L1177.50,327.38 L1180.50,327.57 L1183.50,327.73 L1186.50,327.85 L1189.50,327.93 L1192.50,327.98 L1195.50,328.00 L1198.50,327.98 L1201.50,327.93 L1204.50,327.85 L1207.50,327.73 L1210.50,327.57 L1213.50,327.38 L1216.50,327.16 L1219.50,326.91 L1222.50,326.62 L1225.50,326.30 L1228.50,325.94 L1231.50,325.56 L1234.50,325.14 L1237.50,324.69 L1240.50,324.21 L1243.50,323.70 L1246.50,323.16 L1249.50,322.59 L1252.50,321.99 L1255.50,321.37 L1258.50,320.72 L1261.50,320.03 L1264.50,319.33 L1267.50,318.59 L1270.50,317.84 L1273.50,317.05 L1276.50,316.24 L1279.50,315.41 L1282.50,314.56 L1285.50,313.68" fill="none" stroke="#3a0000" stroke-width="5.0" stroke-linecap="round"/>
<path d="M1105.50,313.68 L1108.50,314.56 L1111.50,315.41 L1114.50,316.24 L1117.50,317.05 L1120.50,317.84 L1123.50,318.59 L1126.50,319.33 L1129.50,320.03 L1132.50,320.72 L1135.50,321.37 L1138.50,321.99 L1141.50,322.59 L1144.50,323.16 L1147.50,323.70 L1150.50,324.21 L1153.50,324.69 L1156.50,325.14 L1159.50,325.56 L1162.50,325.94 L1165.50,326.30 L1168.50,326.62 L1171.50,326.91 L1174.50,327.16 L1177.50,327.38 L1180.50,327.57 L1183.50,327.73 L1186.50,327.85 L1189.50,327.93 L1192.50,327.98 L1195.50,328.00 L1198.50,327.98 L1201.50,327.93 L1204.50,327.85 L1207.50,327.73 L1210.50,327.57 L1213.50,327.38 L1216.50,327.16 L1219.50,326.91 L1222.50,326.62 L1225.50,326.30 L1228.50,325.94 L1231.50,325.56 L1234.50,325.14 L1237.50,324.69 L1240.50,324.21 L1243.50,323.70 L1246.50,323.16 L1249.50,322.59 L1252.50,321.99 L1255.50,321.37 L1258.50,320.72 L1261.50,320.03 L1264.50,319.33 L1267.50,318.59 L1270.50,317.84 L1273.50,317.05 L1276.50,316.24 L1279.50,315.41 L1282.50,314.56 L1285.50,313.68" fill="none" stroke="#5a0600" stroke-width="3.0" stroke-linecap="round"/>
<path d="M1105.50,518.32 L1108.50,517.44 L1111.50,516.59 L1114.50,515.76 L1117.50,514.95 L1120.50,514.16 L1123.50,513.41 L1126.50,512.67 L1129.50,511.97 L1132.50,511.28 L1135.50,510.63 L1138.50,510.01 L1141.50,509.41 L1144.50,508.84 L1147.50,508.30 L1150.50,507.79 L1153.50,507.31 L1156.50,506.86 L1159.50,506.44 L1162.50,506.06 L1165.50,505.70 L1168.50,505.38 L1171.50,505.09 L1174.50,504.84 L1177.50,504.62 L1180.50,504.43 L1183.50,504.27 L1186.50,504.15 L1189.50,504.07 L1192.50,504.02 L1195.50,504.00 L1198.50,504.02 L1201.50,504.07 L1204.50,504.15 L1207.50,504.27 L1210.50,504.43 L1213.50,504.62 L1216.50,504.84 L1219.50,505.09 L1222.50,505.38 L1225.50,505.70 L1228.50,506.06 L1231.50,506.44 L1234.50,506.86 L1237.50,507.31 L1240.50,507.79 L1243.50,508.30 L1246.50,508.84 L1249.50,509.41 L1252.50,510.01 L1255.50,510.63 L1258.50,511.28 L1261.50,511.97 L1264.50,512.67 L1267.50,513.41 L1270.50,514.16 L1273.50,514.95 L1276.50,515.76 L1279.50,516.59 L1282.50,517.44 L1285.50,518.32" fill="none" stroke="#3a0000" stroke-width="5.0" stroke-linecap="round"/>
<path d="M1105.50,518.32 L1108.50,517.44 L1111.50,516.59 L1114.50,515.76 L1117.50,514.95 L1120.50,514.16 L1123.50,513.41 L1126.50,512.67 L1129.50,511.97 L1132.50,511.28 L1135.50,510.63 L1138.50,510.01 L1141.50,509.41 L1144.50,508.84 L1147.50,508.30 L1150.50,507.79 L1153.50,507.31 L1156.50,506.86 L1159.50,506.44 L1162.50,506.06 L1165.50,505.70 L1168.50,505.38 L1171.50,505.09 L1174.50,504.84 L1177.50,504.62 L1180.50,504.43 L1183.50,504.27 L1186.50,504.15 L1189.50,504.07 L1192.50,504.02 L1195.50,504.00 L1198.50,504.02 L1201.50,504.07 L1204.50,504.15 L1207.50,504.27 L1210.50,504.43 L1213.50,504.62 L1216.50,504.84 L1219.50,505.09 L1222.50,505.38 L1225.50,505.70 L1228.50,506.06 L1231.50,506.44 L1234.50,506.86 L1237.50,507.31 L1240.50,507.79 L1243.50,508.30 L1246.50,508.84 L1249.50,509.41 L1252.50,510.01 L1255.50,510.63 L1258.50,511.28 L1261.50,511.97 L1264.50,512.67 L1267.50,513.41 L1270.50,514.16 L1273.50,514.95 L1276.50,515.76 L1279.50,516.59 L1282.50,517.44 L1285.50,518.32" fill="none" stroke="#5a0600" stroke-width="3.0" stroke-linecap="round"/>
<path d="M1105.50,326.47 L1108.50,327.40 L1111.50,328.31 L1114.50,329.20 L1117.50,330.07 L1120.50,330.91 L1123.50,331.73 L1126.50,332.52 L1129.50,333.28 L1132.50,334.02 L1135.50,334.73 L1138.50,335.41 L1141.50,336.06 L1144.50,336.68 L1147.50,337.27 L1150.50,337.83 L1153.50,338.35 L1156.50,338.84 L1159.50,339.30 L1162.50,339.73 L1165.50,340.12 L1168.50,340.47 L1171.50,340.79 L1174.50,341.07 L1177.50,341.32 L1180.50,341.52 L1183.50,341.70 L1186.50,341.83 L1189.50,341.92 L1192.50,341.98 L1195.50,342.00 L1198.50,341.98 L1201.50,341.92 L1204.50,341.83 L1207.50,341.70 L1210.50,341.52 L1213.50,341.32 L1216.50,341.07 L1219.50,340.79 L1222.50,340.47 L1225.50,340.12 L1228.50,339.73 L1231.50,339.30 L1234.50,338.84 L1237.50,338.35 L1240.50,337.83 L1243.50,337.27 L1246.50,336.68 L1249.50,336.06 L1252.50,335.41 L1255.50,334.73 L1258.50,334.02 L1261.50,333.28 L1264.50,332.52 L1267.50,331.73 L1270.50,330.91 L1273.50,330.07 L1276.50,329.20 L1279.50,328.31 L1282.50,327.40 L1285.50,326.47" fill="none" stroke="#6a0400" stroke-width="6.0" stroke-linecap="round"/>
<path d="M1105.50,326.47 L1108.50,327.40 L1111.50,328.31 L1114.50,329.20 L1117.50,330.07 L1120.50,330.91 L1123.50,331.73 L1126.50,332.52 L1129.50,333.28 L1132.50,334.02 L1135.50,334.73 L1138.50,335.41 L1141.50,336.06 L1144.50,336.68 L1147.50,337.27 L1150.50,337.83 L1153.50,338.35 L1156.50,338.84 L1159.50,339.30 L1162.50,339.73 L1165.50,340.12 L1168.50,340.47 L1171.50,340.79 L1174.50,341.07 L1177.50,341.32 L1180.50,341.52 L1183.50,341.70 L1186.50,341.83 L1189.50,341.92 L1192.50,341.98 L1195.50,342.00 L1198.50,341.98 L1201.50,341.92 L1204.50,341.83 L1207.50,341.70 L1210.50,341.52 L1213.50,341.32 L1216.50,341.07 L1219.50,340.79 L1222.50,340.47 L1225.50,340.12 L1228.50,339.73 L1231.50,339.30 L1234.50,338.84 L1237.50,338.35 L1240.50,337.83 L1243.50,337.27 L1246.50,336.68 L1249.50,336.06 L1252.50,335.41 L1255.50,334.73 L1258.50,334.02 L1261.50,333.28 L1264.50,332.52 L1267.50,331.73 L1270.50,330.91 L1273.50,330.07 L1276.50,329.20 L1279.50,328.31 L1282.50,327.40 L1285.50,326.47" fill="none" stroke="#a81606" stroke-width="4.0" stroke-linecap="round"/>
<path d="M1105.50,326.47 L1108.50,327.40 L1111.50,328.31 L1114.50,329.20 L1117.50,330.07 L1120.50,330.91 L1123.50,331.73 L1126.50,332.52 L1129.50,333.28 L1132.50,334.02 L1135.50,334.73 L1138.50,335.41 L1141.50,336.06 L1144.50,336.68 L1147.50,337.27 L1150.50,337.83 L1153.50,338.35 L1156.50,338.84 L1159.50,339.30 L1162.50,339.73 L1165.50,340.12 L1168.50,340.47 L1171.50,340.79 L1174.50,341.07 L1177.50,341.32 L1180.50,341.52 L1183.50,341.70 L1186.50,341.83 L1189.50,341.92 L1192.50,341.98 L1195.50,342.00 L1198.50,341.98 L1201.50,341.92 L1204.50,341.83 L1207.50,341.70 L1210.50,341.52 L1213.50,341.32 L1216.50,341.07 L1219.50,340.79 L1222.50,340.47 L1225.50,340.12 L1228.50,339.73 L1231.50,339.30 L1234.50,338.84 L1237.50,338.35 L1240.50,337.83 L1243.50,337.27 L1246.50,336.68 L1249.50,336.06 L1252.50,335.41 L1255.50,334.73 L1258.50,334.02 L1261.50,333.28 L1264.50,332.52 L1267.50,331.73 L1270.50,330.91 L1273.50,330.07 L1276.50,329.20 L1279.50,328.31 L1282.50,327.40 L1285.50,326.47" fill="none" stroke="#b82008" stroke-width="2.0" stroke-linecap="round"/>
<path d="M1105.50,505.53 L1108.50,504.60 L1111.50,503.69 L1114.50,502.80 L1117.50,501.93 L1120.50,501.09 L1123.50,500.27 L1126.50,499.48 L1129.50,498.72 L1132.50,497.98 L1135.50,497.27 L1138.50,496.59 L1141.50,495.94 L1144.50,495.32 L1147.50,494.73 L1150.50,494.17 L1153.50,493.65 L1156.50,493.16 L1159.50,492.70 L1162.50,492.27 L1165.50,491.88 L1168.50,491.53 L1171.50,491.21 L1174.50,490.93 L1177.50,490.68 L1180.50,490.48 L1183.50,490.30 L1186.50,490.17 L1189.50,490.08 L1192.50,490.02 L1195.50,490.00 L1198.50,490.02 L1201.50,490.08 L1204.50,490.17 L1207.50,490.30 L1210.50,490.48 L1213.50,490.68 L1216.50,490.93 L1219.50,491.21 L1222.50,491.53 L1225.50,491.88 L1228.50,492.27 L1231.50,492.70 L1234.50,493.16 L1237.50,493.65 L1240.50,494.17 L1243.50,494.73 L1246.50,495.32 L1249.50,495.94 L1252.50,496.59 L1255.50,497.27 L1258.50,497.98 L1261.50,498.72 L1264.50,499.48 L1267.50,500.27 L1270.50,501.09 L1273.50,501.93 L1276.50,502.80 L1279.50,503.69 L1282.50,504.60 L1285.50,505.53" fill="none" stroke="#6a0400" stroke-width="6.0" stroke-linecap="round"/>
<path d="M1105.50,505.53 L1108.50,504.60 L1111.50,503.69 L1114.50,502.80 L1117.50,501.93 L1120.50,501.09 L1123.50,500.27 L1126.50,499.48 L1129.50,498.72 L1132.50,497.98 L1135.50,497.27 L1138.50,496.59 L1141.50,495.94 L1144.50,495.32 L1147.50,494.73 L1150.50,494.17 L1153.50,493.65 L1156.50,493.16 L1159.50,492.70 L1162.50,492.27 L1165.50,491.88 L1168.50,491.53 L1171.50,491.21 L1174.50,490.93 L1177.50,490.68 L1180.50,490.48 L1183.50,490.30 L1186.50,490.17 L1189.50,490.08 L1192.50,490.02 L1195.50,490.00 L1198.50,490.02 L1201.50,490.08 L1204.50,490.17 L1207.50,490.30 L1210.50,490.48 L1213.50,490.68 L1216.50,490.93 L1219.50,491.21 L1222.50,491.53 L1225.50,491.88 L1228.50,492.27 L1231.50,492.70 L1234.50,493.16 L1237.50,493.65 L1240.50,494.17 L1243.50,494.73 L1246.50,495.32 L1249.50,495.94 L1252.50,496.59 L1255.50,497.27 L1258.50,497.98 L1261.50,498.72 L1264.50,499.48 L1267.50,500.27 L1270.50,501.09 L1273.50,501.93 L1276.50,502.80 L1279.50,503.69 L1282.50,504.60 L1285.50,505.53" fill="none" stroke="#a81606" stroke-width="4.0" stroke-linecap="round"/>
<path d="M1105.50,505.53 L1108.50,504.60 L1111.50,503.69 L1114.50,502.80 L1117.50,501.93 L1120.50,501.09 L1123.50,500.27 L1126.50,499.48 L1129.50,498.72 L1132.50,497.98 L1135.50,497.27 L1138.50,496.59 L1141.50,495.94 L1144.50,495.32 L1147.50,494.73 L1150.50,494.17 L1153.50,493.65 L1156.50,493.16 L1159.50,492.70 L1162.50,492.27 L1165.50,491.88 L1168.50,491.53 L1171.50,491.21 L1174.50,490.93 L1177.50,490.68 L1180.50,490.48 L1183.50,490.30 L1186.50,490.17 L1189.50,490.08 L1192.50,490.02 L1195.50,490.00 L1198.50,490.02 L1201.50,490.08 L1204.50,490.17 L1207.50,490.30 L1210.50,490.48 L1213.50,490.68 L1216.50,490.93 L1219.50,491.21 L1222.50,491.53 L1225.50,491.88 L1228.50,492.27 L1231.50,492.70 L1234.50,493.16 L1237.50,493.65 L1240.50,494.17 L1243.50,494.73 L1246.50,495.32 L1249.50,495.94 L1252.50,496.59 L1255.50,497.27 L1258.50,497.98 L1261.50,498.72 L1264.50,499.48 L1267.50,500.27 L1270.50,501.09 L1273.50,501.93 L1276.50,502.80 L1279.50,503.69 L1282.50,504.60 L1285.50,505.53" fill="none" stroke="#b82008" stroke-width="2.0" stroke-linecap="round"/>
<path d="M1105.50,338.32 L1108.50,339.25 L1111.50,340.16 L1114.50,341.05 L1117.50,341.91 L1120.50,342.75 L1123.50,343.57 L1126.50,344.37 L1129.50,345.13 L1132.50,345.88 L1135.50,346.59 L1138.50,347.28 L1141.50,347.94 L1144.50,348.57 L1147.50,349.16 L1150.50,349.73 L1153.50,350.27 L1156.50,350.77 L1159.50,351.24 L1162.50,351.67 L1165.50,352.07 L1168.50,352.43 L1171.50,352.76 L1174.50,353.05 L1177.50,353.30 L1180.50,353.51 L1183.50,353.69 L1186.50,353.82 L1189.50,353.92 L1192.50,353.98 L1195.50,354.00 L1198.50,353.98 L1201.50,353.92 L1204.50,353.82 L1207.50,353.69 L1210.50,353.51 L1213.50,353.30 L1216.50,353.05 L1219.50,352.76 L1222.50,352.43 L1225.50,352.07 L1228.50,351.67 L1231.50,351.24 L1234.50,350.77 L1237.50,350.27 L1240.50,349.73 L1243.50,349.16 L1246.50,348.57 L1249.50,347.94 L1252.50,347.28 L1255.50,346.59 L1258.50,345.88 L1261.50,345.13 L1264.50,344.37 L1267.50,343.57 L1270.50,342.75 L1273.50,341.91 L1276.50,341.05 L1279.50,340.16 L1282.50,339.25 L1285.50,338.32" fill="none" stroke="#800800" stroke-width="6.0" stroke-linecap="round"/>
<path d="M1105.50,338.32 L1108.50,339.25 L1111.50,340.16 L1114.50,341.05 L1117.50,341.91 L1120.50,342.75 L1123.50,343.57 L1126.50,344.37 L1129.50,345.13 L1132.50,345.88 L1135.50,346.59 L1138.50,347.28 L1141.50,347.94 L1144.50,348.57 L1147.50,349.16 L1150.50,349.73 L1153.50,350.27 L1156.50,350.77 L1159.50,351.24 L1162.50,351.67 L1165.50,352.07 L1168.50,352.43 L1171.50,352.76 L1174.50,353.05 L1177.50,353.30 L1180.50,353.51 L1183.50,353.69 L1186.50,353.82 L1189.50,353.92 L1192.50,353.98 L1195.50,354.00 L1198.50,353.98 L1201.50,353.92 L1204.50,353.82 L1207.50,353.69 L1210.50,353.51 L1213.50,353.30 L1216.50,353.05 L1219.50,352.76 L1222.50,352.43 L1225.50,352.07 L1228.50,351.67 L1231.50,351.24 L1234.50,350.77 L1237.50,350.27 L1240.50,349.73 L1243.50,349.16 L1246.50,348.57 L1249.50,347.94 L1252.50,347.28 L1255.50,346.59 L1258.50,345.88 L1261.50,345.13 L1264.50,344.37 L1267.50,343.57 L1270.50,342.75 L1273.50,341.91 L1276.50,341.05 L1279.50,340.16 L1282.50,339.25 L1285.50,338.32" fill="none" stroke="#d03010" stroke-width="4.0" stroke-linecap="round"/>
<path d="M1105.50,338.32 L1108.50,339.25 L1111.50,340.16 L1114.50,341.05 L1117.50,341.91 L1120.50,342.75 L1123.50,343.57 L1126.50,344.37 L1129.50,345.13 L1132.50,345.88 L1135.50,346.59 L1138.50,347.28 L1141.50,347.94 L1144.50,348.57 L1147.50,349.16 L1150.50,349.73 L1153.50,350.27 L1156.50,350.77 L1159.50,351.24 L1162.50,351.67 L1165.50,352.07 L1168.50,352.43 L1171.50,352.76 L1174.50,353.05 L1177.50,353.30 L1180.50,353.51 L1183.50,353.69 L1186.50,353.82 L1189.50,353.92 L1192.50,353.98 L1195.50,354.00 L1198.50,353.98 L1201.50,353.92 L1204.50,353.82 L1207.50,353.69 L1210.50,353.51 L1213.50,353.30 L1216.50,353.05 L1219.50,352.76 L1222.50,352.43 L1225.50,352.07 L1228.50,351.67 L1231.50,351.24 L1234.50,350.77 L1237.50,350.27 L1240.50,349.73 L1243.50,349.16 L1246.50,348.57 L1249.50,347.94 L1252.50,347.28 L1255.50,346.59 L1258.50,345.88 L1261.50,345.13 L1264.50,344.37 L1267.50,343.57 L1270.50,342.75 L1273.50,341.91 L1276.50,341.05 L1279.50,340.16 L1282.50,339.25 L1285.50,338.32" fill="none" stroke="#e04818" stroke-width="2.0" stroke-linecap="round"/>
<path d="M1105.50,493.68 L1108.50,492.75 L1111.50,491.84 L1114.50,490.95 L1117.50,490.09 L1120.50,489.25 L1123.50,488.43 L1126.50,487.63 L1129.50,486.87 L1132.50,486.12 L1135.50,485.41 L1138.50,484.72 L1141.50,484.06 L1144.50,483.43 L1147.50,482.84 L1150.50,482.27 L1153.50,481.73 L1156.50,481.23 L1159.50,480.76 L1162.50,480.33 L1165.50,479.93 L1168.50,479.57 L1171.50,479.24 L1174.50,478.95 L1177.50,478.70 L1180.50,478.49 L1183.50,478.31 L1186.50,478.18 L1189.50,478.08 L1192.50,478.02 L1195.50,478.00 L1198.50,478.02 L1201.50,478.08 L1204.50,478.18 L1207.50,478.31 L1210.50,478.49 L1213.50,478.70 L1216.50,478.95 L1219.50,479.24 L1222.50,479.57 L1225.50,479.93 L1228.50,480.33 L1231.50,480.76 L1234.50,481.23 L1237.50,481.73 L1240.50,482.27 L1243.50,482.84 L1246.50,483.43 L1249.50,484.06 L1252.50,484.72 L1255.50,485.41 L1258.50,486.12 L1261.50,486.87 L1264.50,487.63 L1267.50,488.43 L1270.50,489.25 L1273.50,490.09 L1276.50,490.95 L1279.50,491.84 L1282.50,492.75 L1285.50,493.68" fill="none" stroke="#800800" stroke-width="6.0" stroke-linecap="round"/>
<path d="M1105.50,493.68 L1108.50,492.75 L1111.50,491.84 L1114.50,490.95 L1117.50,490.09 L1120.50,489.25 L1123.50,488.43 L1126.50,487.63 L1129.50,486.87 L1132.50,486.12 L1135.50,485.41 L1138.50,484.72 L1141.50,484.06 L1144.50,483.43 L1147.50,482.84 L1150.50,482.27 L1153.50,481.73 L1156.50,481.23 L1159.50,480.76 L1162.50,480.33 L1165.50,479.93 L1168.50,479.57 L1171.50,479.24 L1174.50,478.95 L1177.50,478.70 L1180.50,478.49 L1183.50,478.31 L1186.50,478.18 L1189.50,478.08 L1192.50,478.02 L1195.50,478.00 L1198.50,478.02 L1201.50,478.08 L1204.50,478.18 L1207.50,478.31 L1210.50,478.49 L1213.50,478.70 L1216.50,478.95 L1219.50,479.24 L1222.50,479.57 L1225.50,479.93 L1228.50,480.33 L1231.50,480.76 L1234.50,481.23 L1237.50,481.73 L1240.50,482.27 L1243.50,482.84 L1246.50,483.43 L1249.50,484.06 L1252.50,484.72 L1255.50,485.41 L1258.50,486.12 L1261.50,486.87 L1264.50,487.63 L1267.50,488.43 L1270.50,489.25 L1273.50,490.09 L1276.50,490.95 L1279.50,491.84 L1282.50,492.75 L1285.50,493.68" fill="none" stroke="#d03010" stroke-width="4.0" stroke-linecap="round"/>
<path d="M1105.50,493.68 L1108.50,492.75 L1111.50,491.84 L1114.50,490.95 L1117.50,490.09 L1120.50,489.25 L1123.50,488.43 L1126.50,487.63 L1129.50,486.87 L1132.50,486.12 L1135.50,485.41 L1138.50,484.72 L1141.50,484.06 L1144.50,483.43 L1147.50,482.84 L1150.50,482.27 L1153.50,481.73 L1156.50,481.23 L1159.50,480.76 L1162.50,480.33 L1165.50,479.93 L1168.50,479.57 L1171.50,479.24 L1174.50,478.95 L1177.50,478.70 L1180.50,478.49 L1183.50,478.31 L1186.50,478.18 L1189.50,478.08 L1192.50,478.02 L1195.50,478.00 L1198.50,478.02 L1201.50,478.08 L1204.50,478.18 L1207.50,478.31 L1210.50,478.49 L1213.50,478.70 L1216.50,478.95 L1219.50,479.24 L1222.50,479.57 L1225.50,479.93 L1228.50,480.33 L1231.50,480.76 L1234.50,481.23 L1237.50,481.73 L1240.50,482.27 L1243.50,482.84 L1246.50,483.43 L1249.50,484.06 L1252.50,484.72 L1255.50,485.41 L1258.50,486.12 L1261.50,486.87 L1264.50,487.63 L1267.50,488.43 L1270.50,489.25 L1273.50,490.09 L1276.50,490.95 L1279.50,491.84 L1282.50,492.75 L1285.50,493.68" fill="none" stroke="#e04818" stroke-width="2.0" stroke-linecap="round"/>
<path d="M1105.50,350.09 L1108.50,350.91 L1111.50,351.71 L1114.50,352.50 L1117.50,353.26 L1120.50,354.01 L1123.50,354.73 L1126.50,355.44 L1129.50,356.12 L1132.50,356.77 L1135.50,357.41 L1138.50,358.02 L1141.50,358.60 L1144.50,359.16 L1147.50,359.69 L1150.50,360.20 L1153.50,360.67 L1156.50,361.12 L1159.50,361.53 L1162.50,361.92 L1165.50,362.28 L1168.50,362.60 L1171.50,362.89 L1174.50,363.15 L1177.50,363.37 L1180.50,363.56 L1183.50,363.72 L1186.50,363.84 L1189.50,363.93 L1192.50,363.98 L1195.50,364.00 L1198.50,363.98 L1201.50,363.93 L1204.50,363.84 L1207.50,363.72 L1210.50,363.56 L1213.50,363.37 L1216.50,363.15 L1219.50,362.89 L1222.50,362.60 L1225.50,362.28 L1228.50,361.92 L1231.50,361.53 L1234.50,361.12 L1237.50,360.67 L1240.50,360.20 L1243.50,359.69 L1246.50,359.16 L1249.50,358.60 L1252.50,358.02 L1255.50,357.41 L1258.50,356.77 L1261.50,356.12 L1264.50,355.44 L1267.50,354.73 L1270.50,354.01 L1273.50,353.26 L1276.50,352.50 L1279.50,351.71 L1282.50,350.91 L1285.50,350.09" fill="none" stroke="#a01800" stroke-width="6.0" stroke-linecap="round"/>
<path d="M1105.50,350.09 L1108.50,350.91 L1111.50,351.71 L1114.50,352.50 L1117.50,353.26 L1120.50,354.01 L1123.50,354.73 L1126.50,355.44 L1129.50,356.12 L1132.50,356.77 L1135.50,357.41 L1138.50,358.02 L1141.50,358.60 L1144.50,359.16 L1147.50,359.69 L1150.50,360.20 L1153.50,360.67 L1156.50,361.12 L1159.50,361.53 L1162.50,361.92 L1165.50,362.28 L1168.50,362.60 L1171.50,362.89 L1174.50,363.15 L1177.50,363.37 L1180.50,363.56 L1183.50,363.72 L1186.50,363.84 L1189.50,363.93 L1192.50,363.98 L1195.50,364.00 L1198.50,363.98 L1201.50,363.93 L1204.50,363.84 L1207.50,363.72 L1210.50,363.56 L1213.50,363.37 L1216.50,363.15 L1219.50,362.89 L1222.50,362.60 L1225.50,362.28 L1228.50,361.92 L1231.50,361.53 L1234.50,361.12 L1237.50,360.67 L1240.50,360.20 L1243.50,359.69 L1246.50,359.16 L1249.50,358.60 L1252.50,358.02 L1255.50,357.41 L1258.50,356.77 L1261.50,356.12 L1264.50,355.44 L1267.50,354.73 L1270.50,354.01 L1273.50,353.26 L1276.50,352.50 L1279.50,351.71 L1282.50,350.91 L1285.50,350.09" fill="none" stroke="#f08820" stroke-width="4.5" stroke-linecap="round"/>
<path d="M1105.50,350.09 L1108.50,350.91 L1111.50,351.71 L1114.50,352.50 L1117.50,353.26 L1120.50,354.01 L1123.50,354.73 L1126.50,355.44 L1129.50,356.12 L1132.50,356.77 L1135.50,357.41 L1138.50,358.02 L1141.50,358.60 L1144.50,359.16 L1147.50,359.69 L1150.50,360.20 L1153.50,360.67 L1156.50,361.12 L1159.50,361.53 L1162.50,361.92 L1165.50,362.28 L1168.50,362.60 L1171.50,362.89 L1174.50,363.15 L1177.50,363.37 L1180.50,363.56 L1183.50,363.72 L1186.50,363.84 L1189.50,363.93 L1192.50,363.98 L1195.50,364.00 L1198.50,363.98 L1201.50,363.93 L1204.50,363.84 L1207.50,363.72 L1210.50,363.56 L1213.50,363.37 L1216.50,363.15 L1219.50,362.89 L1222.50,362.60 L1225.50,362.28 L1228.50,361.92 L1231.50,361.53 L1234.50,361.12 L1237.50,360.67 L1240.50,360.20 L1243.50,359.69 L1246.50,359.16 L1249.50,358.60 L1252.50,358.02 L1255.50,357.41 L1258.50,356.77 L1261.50,356.12 L1264.50,355.44 L1267.50,354.73 L1270.50,354.01 L1273.50,353.26 L1276.50,352.50 L1279.50,351.71 L1282.50,350.91 L1285.50,350.09" fill="none" stroke="#f8d040" stroke-width="2.5" stroke-linecap="round"/>
<path d="M1105.50,481.91 L1108.50,481.09 L1111.50,480.29 L1114.50,479.50 L1117.50,478.74 L1120.50,477.99 L1123.50,477.27 L1126.50,476.56 L1129.50,475.88 L1132.50,475.23 L1135.50,474.59 L1138.50,473.98 L1141.50,473.40 L1144.50,472.84 L1147.50,472.31 L1150.50,471.80 L1153.50,471.33 L1156.50,470.88 L1159.50,470.47 L1162.50,470.08 L1165.50,469.72 L1168.50,469.40 L1171.50,469.11 L1174.50,468.85 L1177.50,468.63 L1180.50,468.44 L1183.50,468.28 L1186.50,468.16 L1189.50,468.07 L1192.50,468.02 L1195.50,468.00 L1198.50,468.02 L1201.50,468.07 L1204.50,468.16 L1207.50,468.28 L1210.50,468.44 L1213.50,468.63 L1216.50,468.85 L1219.50,469.11 L1222.50,469.40 L1225.50,469.72 L1228.50,470.08 L1231.50,470.47 L1234.50,470.88 L1237.50,471.33 L1240.50,471.80 L1243.50,472.31 L1246.50,472.84 L1249.50,473.40 L1252.50,473.98 L1255.50,474.59 L1258.50,475.23 L1261.50,475.88 L1264.50,476.56 L1267.50,477.27 L1270.50,477.99 L1273.50,478.74 L1276.50,479.50 L1279.50,480.29 L1282.50,481.09 L1285.50,481.91" fill="none" stroke="#a01800" stroke-width="6.0" stroke-linecap="round"/>
<path d="M1105.50,481.91 L1108.50,481.09 L1111.50,480.29 L1114.50,479.50 L1117.50,478.74 L1120.50,477.99 L1123.50,477.27 L1126.50,476.56 L1129.50,475.88 L1132.50,475.23 L1135.50,474.59 L1138.50,473.98 L1141.50,473.40 L1144.50,472.84 L1147.50,472.31 L1150.50,471.80 L1153.50,471.33 L1156.50,470.88 L1159.50,470.47 L1162.50,470.08 L1165.50,469.72 L1168.50,469.40 L1171.50,469.11 L1174.50,468.85 L1177.50,468.63 L1180.50,468.44 L1183.50,468.28 L1186.50,468.16 L1189.50,468.07 L1192.50,468.02 L1195.50,468.00 L1198.50,468.02 L1201.50,468.07 L1204.50,468.16 L1207.50,468.28 L1210.50,468.44 L1213.50,468.63 L1216.50,468.85 L1219.50,469.11 L1222.50,469.40 L1225.50,469.72 L1228.50,470.08 L1231.50,470.47 L1234.50,470.88 L1237.50,471.33 L1240.50,471.80 L1243.50,472.31 L1246.50,472.84 L1249.50,473.40 L1252.50,473.98 L1255.50,474.59 L1258.50,475.23 L1261.50,475.88 L1264.50,476.56 L1267.50,477.27 L1270.50,477.99 L1273.50,478.74 L1276.50,479.50 L1279.50,480.29 L1282.50,481.09 L1285.50,481.91" fill="none" stroke="#f08820" stroke-width="4.5" stroke-linecap="round"/>
<path d="M1105.50,481.91 L1108.50,481.09 L1111.50,480.29 L1114.50,479.50 L1117.50,478.74 L1120.50,477.99 L1123.50,477.27 L1126.50,476.56 L1129.50,475.88 L1132.50,475.23 L1135.50,474.59 L1138.50,473.98 L1141.50,473.40 L1144.50,472.84 L1147.50,472.31 L1150.50,471.80 L1153.50,471.33 L1156.50,470.88 L1159.50,470.47 L1162.50,470.08 L1165.50,469.72 L1168.50,469.40 L1171.50,469.11 L1174.50,468.85 L1177.50,468.63 L1180.50,468.44 L1183.50,468.28 L1186.50,468.16 L1189.50,468.07 L1192.50,468.02 L1195.50,468.00 L1198.50,468.02 L1201.50,468.07 L1204.50,468.16 L1207.50,468.28 L1210.50,468.44 L1213.50,468.63 L1216.50,468.85 L1219.50,469.11 L1222.50,469.40 L1225.50,469.72 L1228.50,470.08 L1231.50,470.47 L1234.50,470.88 L1237.50,471.33 L1240.50,471.80 L1243.50,472.31 L1246.50,472.84 L1249.50,473.40 L1252.50,473.98 L1255.50,474.59 L1258.50,475.23 L1261.50,475.88 L1264.50,476.56 L1267.50,477.27 L1270.50,477.99 L1273.50,478.74 L1276.50,479.50 L1279.50,480.29 L1282.50,481.09 L1285.50,481.91" fill="none" stroke="#f8d040" stroke-width="2.5" stroke-linecap="round"/>
<path d="M1125.50,351.46 L1127.83,352.69 L1130.17,353.91 L1132.50,355.10 L1134.83,356.27 L1137.17,357.42 L1139.50,358.55 L1141.83,359.65 L1144.17,360.73 L1146.50,361.77 L1148.83,362.79 L1151.17,363.78 L1153.50,364.73 L1155.83,365.65 L1158.17,366.53 L1160.50,367.38 L1162.83,368.18 L1165.17,368.94 L1167.50,369.65 L1169.83,370.32 L1172.17,370.94 L1174.50,371.50 L1176.83,372.01 L1179.17,372.47 L1181.50,372.87 L1183.83,373.21 L1186.17,373.49 L1188.50,373.72 L1190.83,373.87 L1193.17,373.97 L1195.50,374.00 L1197.83,373.97 L1200.17,373.87 L1202.50,373.72 L1204.83,373.49 L1207.17,373.21 L1209.50,372.87 L1211.83,372.47 L1214.17,372.01 L1216.50,371.50 L1218.83,370.94 L1221.17,370.32 L1223.50,369.65 L1225.83,368.94 L1228.17,368.18 L1230.50,367.38 L1232.83,366.53 L1235.17,365.65 L1237.50,364.73 L1239.83,363.78 L1242.17,362.79 L1244.50,361.77 L1246.83,360.73 L1249.17,359.65 L1251.50,358.55 L1253.83,357.42 L1256.17,356.27 L1258.50,355.10 L1260.83,353.91 L1263.17,352.69 L1265.50,351.46" fill="none" stroke="#c03010" stroke-width="6.5" stroke-linecap="round"/>
<path d="M1125.50,351.46 L1127.83,352.69 L1130.17,353.91 L1132.50,355.10 L1134.83,356.27 L1137.17,357.42 L1139.50,358.55 L1141.83,359.65 L1144.17,360.73 L1146.50,361.77 L1148.83,362.79 L1151.17,363.78 L1153.50,364.73 L1155.83,365.65 L1158.17,366.53 L1160.50,367.38 L1162.83,368.18 L1165.17,368.94 L1167.50,369.65 L1169.83,370.32 L1172.17,370.94 L1174.50,371.50 L1176.83,372.01 L1179.17,372.47 L1181.50,372.87 L1183.83,373.21 L1186.17,373.49 L1188.50,373.72 L1190.83,373.87 L1193.17,373.97 L1195.50,374.00 L1197.83,373.97 L1200.17,373.87 L1202.50,373.72 L1204.83,373.49 L1207.17,373.21 L1209.50,372.87 L1211.83,372.47 L1214.17,372.01 L1216.50,371.50 L1218.83,370.94 L1221.17,370.32 L1223.50,369.65 L1225.83,368.94 L1228.17,368.18 L1230.50,367.38 L1232.83,366.53 L1235.17,365.65 L1237.50,364.73 L1239.83,363.78 L1242.17,362.79 L1244.50,361.77 L1246.83,360.73 L1249.17,359.65 L1251.50,358.55 L1253.83,357.42 L1256.17,356.27 L1258.50,355.10 L1260.83,353.91 L1263.17,352.69 L1265.50,351.46" fill="none" stroke="#fcd050" stroke-width="5.0" stroke-linecap="round"/>
<path d="M1125.50,351.46 L1127.83,352.69 L1130.17,353.91 L1132.50,355.10 L1134.83,356.27 L1137.17,357.42 L1139.50,358.55 L1141.83,359.65 L1144.17,360.73 L1146.50,361.77 L1148.83,362.79 L1151.17,363.78 L1153.50,364.73 L1155.83,365.65 L1158.17,366.53 L1160.50,367.38 L1162.83,368.18 L1165.17,368.94 L1167.50,369.65 L1169.83,370.32 L1172.17,370.94 L1174.50,371.50 L1176.83,372.01 L1179.17,372.47 L1181.50,372.87 L1183.83,373.21 L1186.17,373.49 L1188.50,373.72 L1190.83,373.87 L1193.17,373.97 L1195.50,374.00 L1197.83,373.97 L1200.17,373.87 L1202.50,373.72 L1204.83,373.49 L1207.17,373.21 L1209.50,372.87 L1211.83,372.47 L1214.17,372.01 L1216.50,371.50 L1218.83,370.94 L1221.17,370.32 L1223.50,369.65 L1225.83,368.94 L1228.17,368.18 L1230.50,367.38 L1232.83,366.53 L1235.17,365.65 L1237.50,364.73 L1239.83,363.78 L1242.17,362.79 L1244.50,361.77 L1246.83,360.73 L1249.17,359.65 L1251.50,358.55 L1253.83,357.42 L1256.17,356.27 L1258.50,355.10 L1260.83,353.91 L1263.17,352.69 L1265.50,351.46" fill="none" stroke="#ffffff" stroke-width="3.5" stroke-linecap="round"/>
<path d="M1125.50,480.54 L1127.83,479.31 L1130.17,478.09 L1132.50,476.90 L1134.83,475.73 L1137.17,474.58 L1139.50,473.45 L1141.83,472.35 L1144.17,471.27 L1146.50,470.23 L1148.83,469.21 L1151.17,468.22 L1153.50,467.27 L1155.83,466.35 L1158.17,465.47 L1160.50,464.62 L1162.83,463.82 L1165.17,463.06 L1167.50,462.35 L1169.83,461.68 L1172.17,461.06 L1174.50,460.50 L1176.83,459.99 L1179.17,459.53 L1181.50,459.13 L1183.83,458.79 L1186.17,458.51 L1188.50,458.28 L1190.83,458.13 L1193.17,458.03 L1195.50,458.00 L1197.83,458.03 L1200.17,458.13 L1202.50,458.28 L1204.83,458.51 L1207.17,458.79 L1209.50,459.13 L1211.83,459.53 L1214.17,459.99 L1216.50,460.50 L1218.83,461.06 L1221.17,461.68 L1223.50,462.35 L1225.83,463.06 L1228.17,463.82 L1230.50,464.62 L1232.83,465.47 L1235.17,466.35 L1237.50,467.27 L1239.83,468.22 L1242.17,469.21 L1244.50,470.23 L1246.83,471.27 L1249.17,472.35 L1251.50,473.45 L1253.83,474.58 L1256.17,475.73 L1258.50,476.90 L1260.83,478.09 L1263.17,479.31 L1265.50,480.54" fill="none" stroke="#c03010" stroke-width="6.5" stroke-linecap="round"/>
<path d="M1125.50,480.54 L1127.83,479.31 L1130.17,478.09 L1132.50,476.90 L1134.83,475.73 L1137.17,474.58 L1139.50,473.45 L1141.83,472.35 L1144.17,471.27 L1146.50,470.23 L1148.83,469.21 L1151.17,468.22 L1153.50,467.27 L1155.83,466.35 L1158.17,465.47 L1160.50,464.62 L1162.83,463.82 L1165.17,463.06 L1167.50,462.35 L1169.83,461.68 L1172.17,461.06 L1174.50,460.50 L1176.83,459.99 L1179.17,459.53 L1181.50,459.13 L1183.83,458.79 L1186.17,458.51 L1188.50,458.28 L1190.83,458.13 L1193.17,458.03 L1195.50,458.00 L1197.83,458.03 L1200.17,458.13 L1202.50,458.28 L1204.83,458.51 L1207.17,458.79 L1209.50,459.13 L1211.83,459.53 L1214.17,459.99 L1216.50,460.50 L1218.83,461.06 L1221.17,461.68 L1223.50,462.35 L1225.83,463.06 L1228.17,463.82 L1230.50,464.62 L1232.83,465.47 L1235.17,466.35 L1237.50,467.27 L1239.83,468.22 L1242.17,469.21 L1244.50,470.23 L1246.83,471.27 L1249.17,472.35 L1251.50,473.45 L1253.83,474.58 L1256.17,475.73 L1258.50,476.90 L1260.83,478.09 L1263.17,479.31 L1265.50,480.54" fill="none" stroke="#fcd050" stroke-width="5.0" stroke-linecap="round"/>
<path d="M1125.50,480.54 L1127.83,479.31 L1130.17,478.09 L1132.50,476.90 L1134.83,475.73 L1137.17,474.58 L1139.50,473.45 L1141.83,472.35 L1144.17,471.27 L1146.50,470.23 L1148.83,469.21 L1151.17,468.22 L1153.50,467.27 L1155.83,466.35 L1158.17,465.47 L1160.50,464.62 L1162.83,463.82 L1165.17,463.06 L1167.50,462.35 L1169.83,461.68 L1172.17,461.06 L1174.50,460.50 L1176.83,459.99 L1179.17,459.53 L1181.50,459.13 L1183.83,458.79 L1186.17,458.51 L1188.50,458.28 L1190.83,458.13 L1193.17,458.03 L1195.50,458.00 L1197.83,458.03 L1200.17,458.13 L1202.50,458.28 L1204.83,458.51 L1207.17,458.79 L1209.50,459.13 L1211.83,459.53 L1214.17,459.99 L1216.50,460.50 L1218.83,461.06 L1221.17,461.68 L1223.50,462.35 L1225.83,463.06 L1228.17,463.82 L1230.50,464.62 L1232.83,465.47 L1235.17,466.35 L1237.50,467.27 L1239.83,468.22 L1242.17,469.21 L1244.50,470.23 L1246.83,471.27 L1249.17,472.35 L1251.50,473.45 L1253.83,474.58 L1256.17,475.73 L1258.50,476.90 L1260.83,478.09 L1263.17,479.31 L1265.50,480.54" fill="none" stroke="#ffffff" stroke-width="3.5" stroke-linecap="round"/>
<path d="M1133.50,362.22 L1135.57,363.44 L1137.63,364.66 L1139.70,365.86 L1141.77,367.04 L1143.83,368.21 L1145.90,369.36 L1147.97,370.49 L1150.03,371.60 L1152.10,372.68 L1154.17,373.74 L1156.23,374.78 L1158.30,375.78 L1160.37,376.76 L1162.43,377.70 L1164.50,378.61 L1166.57,379.48 L1168.63,380.30 L1170.70,381.09 L1172.77,381.83 L1174.83,382.51 L1176.90,383.15 L1178.97,383.72 L1181.03,384.24 L1183.10,384.70 L1185.17,385.09 L1187.23,385.42 L1189.30,385.67 L1191.37,385.85 L1193.43,385.96 L1195.50,386.00 L1197.57,385.96 L1199.63,385.85 L1201.70,385.67 L1203.77,385.42 L1205.83,385.09 L1207.90,384.70 L1209.97,384.24 L1212.03,383.72 L1214.10,383.15 L1216.17,382.51 L1218.23,381.83 L1220.30,381.09 L1222.37,380.30 L1224.43,379.48 L1226.50,378.61 L1228.57,377.70 L1230.63,376.76 L1232.70,375.78 L1234.77,374.78 L1236.83,373.74 L1238.90,372.68 L1240.97,371.60 L1243.03,370.49 L1245.10,369.36 L1247.17,368.21 L1249.23,367.04 L1251.30,365.86 L1253.37,364.66 L1255.43,363.44 L1257.50,362.22" fill="none" stroke="#c03010" stroke-width="6.5" stroke-linecap="round"/>
<path d="M1133.50,362.22 L1135.57,363.44 L1137.63,364.66 L1139.70,365.86 L1141.77,367.04 L1143.83,368.21 L1145.90,369.36 L1147.97,370.49 L1150.03,371.60 L1152.10,372.68 L1154.17,373.74 L1156.23,374.78 L1158.30,375.78 L1160.37,376.76 L1162.43,377.70 L1164.50,378.61 L1166.57,379.48 L1168.63,380.30 L1170.70,381.09 L1172.77,381.83 L1174.83,382.51 L1176.90,383.15 L1178.97,383.72 L1181.03,384.24 L1183.10,384.70 L1185.17,385.09 L1187.23,385.42 L1189.30,385.67 L1191.37,385.85 L1193.43,385.96 L1195.50,386.00 L1197.57,385.96 L1199.63,385.85 L1201.70,385.67 L1203.77,385.42 L1205.83,385.09 L1207.90,384.70 L1209.97,384.24 L1212.03,383.72 L1214.10,383.15 L1216.17,382.51 L1218.23,381.83 L1220.30,381.09 L1222.37,380.30 L1224.43,379.48 L1226.50,378.61 L1228.57,377.70 L1230.63,376.76 L1232.70,375.78 L1234.77,374.78 L1236.83,373.74 L1238.90,372.68 L1240.97,371.60 L1243.03,370.49 L1245.10,369.36 L1247.17,368.21 L1249.23,367.04 L1251.30,365.86 L1253.37,364.66 L1255.43,363.44 L1257.50,362.22" fill="none" stroke="#fce070" stroke-width="5.0" stroke-linecap="round"/>
<path d="M1133.50,362.22 L1135.57,363.44 L1137.63,364.66 L1139.70,365.86 L1141.77,367.04 L1143.83,368.21 L1145.90,369.36 L1147.97,370.49 L1150.03,371.60 L1152.10,372.68 L1154.17,373.74 L1156.23,374.78 L1158.30,375.78 L1160.37,376.76 L1162.43,377.70 L1164.50,378.61 L1166.57,379.48 L1168.63,380.30 L1170.70,381.09 L1172.77,381.83 L1174.83,382.51 L1176.90,383.15 L1178.97,383.72 L1181.03,384.24 L1183.10,384.70 L1185.17,385.09 L1187.23,385.42 L1189.30,385.67 L1191.37,385.85 L1193.43,385.96 L1195.50,386.00 L1197.57,385.96 L1199.63,385.85 L1201.70,385.67 L1203.77,385.42 L1205.83,385.09 L1207.90,384.70 L1209.97,384.24 L1212.03,383.72 L1214.10,383.15 L1216.17,382.51 L1218.23,381.83 L1220.30,381.09 L1222.37,380.30 L1224.43,379.48 L1226.50,378.61 L1228.57,377.70 L1230.63,376.76 L1232.70,375.78 L1234.77,374.78 L1236.83,373.74 L1238.90,372.68 L1240.97,371.60 L1243.03,370.49 L1245.10,369.36 L1247.17,368.21 L1249.23,367.04 L1251.30,365.86 L1253.37,364.66 L1255.43,363.44 L1257.50,362.22" fill="none" stroke="#ffffff" stroke-width="3.5" stroke-linecap="round"/>
<path d="M1133.50,469.78 L1135.57,468.56 L1137.63,467.34 L1139.70,466.14 L1141.77,464.96 L1143.83,463.79 L1145.90,462.64 L1147.97,461.51 L1150.03,460.40 L1152.10,459.32 L1154.17,458.26 L1156.23,457.22 L1158.30,456.22 L1160.37,455.24 L1162.43,454.30 L1164.50,453.39 L1166.57,452.52 L1168.63,451.70 L1170.70,450.91 L1172.77,450.17 L1174.83,449.49 L1176.90,448.85 L1178.97,448.28 L1181.03,447.76 L1183.10,447.30 L1185.17,446.91 L1187.23,446.58 L1189.30,446.33 L1191.37,446.15 L1193.43,446.04 L1195.50,446.00 L1197.57,446.04 L1199.63,446.15 L1201.70,446.33 L1203.77,446.58 L1205.83,446.91 L1207.90,447.30 L1209.97,447.76 L1212.03,448.28 L1214.10,448.85 L1216.17,449.49 L1218.23,450.17 L1220.30,450.91 L1222.37,451.70 L1224.43,452.52 L1226.50,453.39 L1228.57,454.30 L1230.63,455.24 L1232.70,456.22 L1234.77,457.22 L1236.83,458.26 L1238.90,459.32 L1240.97,460.40 L1243.03,461.51 L1245.10,462.64 L1247.17,463.79 L1249.23,464.96 L1251.30,466.14 L1253.37,467.34 L1255.43,468.56 L1257.50,469.78" fill="none" stroke="#c03010" stroke-width="6.5" stroke-linecap="round"/>
<path d="M1133.50,469.78 L1135.57,468.56 L1137.63,467.34 L1139.70,466.14 L1141.77,464.96 L1143.83,463.79 L1145.90,462.64 L1147.97,461.51 L1150.03,460.40 L1152.10,459.32 L1154.17,458.26 L1156.23,457.22 L1158.30,456.22 L1160.37,455.24 L1162.43,454.30 L1164.50,453.39 L1166.57,452.52 L1168.63,451.70 L1170.70,450.91 L1172.77,450.17 L1174.83,449.49 L1176.90,448.85 L1178.97,448.28 L1181.03,447.76 L1183.10,447.30 L1185.17,446.91 L1187.23,446.58 L1189.30,446.33 L1191.37,446.15 L1193.43,446.04 L1195.50,446.00 L1197.57,446.04 L1199.63,446.15 L1201.70,446.33 L1203.77,446.58 L1205.83,446.91 L1207.90,447.30 L1209.97,447.76 L1212.03,448.28 L1214.10,448.85 L1216.17,449.49 L1218.23,450.17 L1220.30,450.91 L1222.37,451.70 L1224.43,452.52 L1226.50,453.39 L1228.57,454.30 L1230.63,455.24 L1232.70,456.22 L1234.77,457.22 L1236.83,458.26 L1238.90,459.32 L1240.97,460.40 L1243.03,461.51 L1245.10,462.64 L1247.17,463.79 L1249.23,464.96 L1251.30,466.14 L1253.37,467.34 L1255.43,468.56 L1257.50,469.78" fill="none" stroke="#fce070" stroke-width="5.0" stroke-linecap="round"/>
<path d="M1133.50,469.78 L1135.57,468.56 L1137.63,467.34 L1139.70,466.14 L1141.77,464.96 L1143.83,463.79 L1145.90,462.64 L1147.97,461.51 L1150.03,460.40 L1152.10,459.32 L1154.17,458.26 L1156.23,457.22 L1158.30,456.22 L1160.37,455.24 L1162.43,454.30 L1164.50,453.39 L1166.57,452.52 L1168.63,451.70 L1170.70,450.91 L1172.77,450.17 L1174.83,449.49 L1176.90,448.85 L1178.97,448.28 L1181.03,447.76 L1183.10,447.30 L1185.17,446.91 L1187.23,446.58 L1189.30,446.33 L1191.37,446.15 L1193.43,446.04 L1195.50,446.00 L1197.57,446.04 L1199.63,446.15 L1201.70,446.33 L1203.77,446.58 L1205.83,446.91 L1207.90,447.30 L1209.97,447.76 L1212.03,448.28 L1214.10,448.85 L1216.17,449.49 L1218.23,450.17 L1220.30,450.91 L1222.37,451.70 L1224.43,452.52 L1226.50,453.39 L1228.57,454.30 L1230.63,455.24 L1232.70,456.22 L1234.77,457.22 L1236.83,458.26 L1238.90,459.32 L1240.97,460.40 L1243.03,461.51 L1245.10,462.64 L1247.17,463.79 L1249.23,464.96 L1251.30,466.14 L1253.37,467.34 L1255.43,468.56 L1257.50,469.78" fill="none" stroke="#ffffff" stroke-width="3.5" stroke-linecap="round"/>
<path d="M1141.50,372.66 L1143.30,373.86 L1145.10,375.04 L1146.90,376.22 L1148.70,377.38 L1150.50,378.54 L1152.30,379.69 L1154.10,380.82 L1155.90,381.95 L1157.70,383.05 L1159.50,384.15 L1161.30,385.22 L1163.10,386.28 L1164.90,387.31 L1166.70,388.32 L1168.50,389.31 L1170.30,390.26 L1172.10,391.18 L1173.90,392.07 L1175.70,392.91 L1177.50,393.71 L1179.30,394.46 L1181.10,395.16 L1182.90,395.79 L1184.70,396.35 L1186.50,396.84 L1188.30,397.25 L1190.10,397.57 L1191.90,397.81 L1193.70,397.95 L1195.50,398.00 L1197.30,397.95 L1199.10,397.81 L1200.90,397.57 L1202.70,397.25 L1204.50,396.84 L1206.30,396.35 L1208.10,395.79 L1209.90,395.16 L1211.70,394.46 L1213.50,393.71 L1215.30,392.91 L1217.10,392.07 L1218.90,391.18 L1220.70,390.26 L1222.50,389.31 L1224.30,388.32 L1226.10,387.31 L1227.90,386.28 L1229.70,385.22 L1231.50,384.15 L1233.30,383.05 L1235.10,381.95 L1236.90,380.82 L1238.70,379.69 L1240.50,378.54 L1242.30,377.38 L1244.10,376.22 L1245.90,375.04 L1247.70,373.86 L1249.50,372.66" fill="none" stroke="#c03010" stroke-width="6.0" stroke-linecap="round"/>
<path d="M1141.50,372.66 L1143.30,373.86 L1145.10,375.04 L1146.90,376.22 L1148.70,377.38 L1150.50,378.54 L1152.30,379.69 L1154.10,380.82 L1155.90,381.95 L1157.70,383.05 L1159.50,384.15 L1161.30,385.22 L1163.10,386.28 L1164.90,387.31 L1166.70,388.32 L1168.50,389.31 L1170.30,390.26 L1172.10,391.18 L1173.90,392.07 L1175.70,392.91 L1177.50,393.71 L1179.30,394.46 L1181.10,395.16 L1182.90,395.79 L1184.70,396.35 L1186.50,396.84 L1188.30,397.25 L1190.10,397.57 L1191.90,397.81 L1193.70,397.95 L1195.50,398.00 L1197.30,397.95 L1199.10,397.81 L1200.90,397.57 L1202.70,397.25 L1204.50,396.84 L1206.30,396.35 L1208.10,395.79 L1209.90,395.16 L1211.70,394.46 L1213.50,393.71 L1215.30,392.91 L1217.10,392.07 L1218.90,391.18 L1220.70,390.26 L1222.50,389.31 L1224.30,388.32 L1226.10,387.31 L1227.90,386.28 L1229.70,385.22 L1231.50,384.15 L1233.30,383.05 L1235.10,381.95 L1236.90,380.82 L1238.70,379.69 L1240.50,378.54 L1242.30,377.38 L1244.10,376.22 L1245.90,375.04 L1247.70,373.86 L1249.50,372.66" fill="none" stroke="#fce070" stroke-width="4.5" stroke-linecap="round"/>
<path d="M1141.50,372.66 L1143.30,373.86 L1145.10,375.04 L1146.90,376.22 L1148.70,377.38 L1150.50,378.54 L1152.30,379.69 L1154.10,380.82 L1155.90,381.95 L1157.70,383.05 L1159.50,384.15 L1161.30,385.22 L1163.10,386.28 L1164.90,387.31 L1166.70,388.32 L1168.50,389.31 L1170.30,390.26 L1172.10,391.18 L1173.90,392.07 L1175.70,392.91 L1177.50,393.71 L1179.30,394.46 L1181.10,395.16 L1182.90,395.79 L1184.70,396.35 L1186.50,396.84 L1188.30,397.25 L1190.10,397.57 L1191.90,397.81 L1193.70,397.95 L1195.50,398.00 L1197.30,397.95 L1199.10,397.81 L1200.90,397.57 L1202.70,397.25 L1204.50,396.84 L1206.30,396.35 L1208.10,395.79 L1209.90,395.16 L1211.70,394.46 L1213.50,393.71 L1215.30,392.91 L1217.10,392.07 L1218.90,391.18 L1220.70,390.26 L1222.50,389.31 L1224.30,388.32 L1226.10,387.31 L1227.90,386.28 L1229.70,385.22 L1231.50,384.15 L1233.30,383.05 L1235.10,381.95 L1236.90,380.82 L1238.70,379.69 L1240.50,378.54 L1242.30,377.38 L1244.10,376.22 L1245.90,375.04 L1247.70,373.86 L1249.50,372.66" fill="none" stroke="#ffffff" stroke-width="3.2" stroke-linecap="round"/>
<path d="M1141.50,459.34 L1143.30,458.14 L1145.10,456.96 L1146.90,455.78 L1148.70,454.62 L1150.50,453.46 L1152.30,452.31 L1154.10,451.18 L1155.90,450.05 L1157.70,448.95 L1159.50,447.85 L1161.30,446.78 L1163.10,445.72 L1164.90,444.69 L1166.70,443.68 L1168.50,442.69 L1170.30,441.74 L1172.10,440.82 L1173.90,439.93 L1175.70,439.09 L1177.50,438.29 L1179.30,437.54 L1181.10,436.84 L1182.90,436.21 L1184.70,435.65 L1186.50,435.16 L1188.30,434.75 L1190.10,434.43 L1191.90,434.19 L1193.70,434.05 L1195.50,434.00 L1197.30,434.05 L1199.10,434.19 L1200.90,434.43 L1202.70,434.75 L1204.50,435.16 L1206.30,435.65 L1208.10,436.21 L1209.90,436.84 L1211.70,437.54 L1213.50,438.29 L1215.30,439.09 L1217.10,439.93 L1218.90,440.82 L1220.70,441.74 L1222.50,442.69 L1224.30,443.68 L1226.10,444.69 L1227.90,445.72 L1229.70,446.78 L1231.50,447.85 L1233.30,448.95 L1235.10,450.05 L1236.90,451.18 L1238.70,452.31 L1240.50,453.46 L1242.30,454.62 L1244.10,455.78 L1245.90,456.96 L1247.70,458.14 L1249.50,459.34" fill="none" stroke="#c03010" stroke-width="6.0" stroke-linecap="round"/>
<path d="M1141.50,459.34 L1143.30,458.14 L1145.10,456.96 L1146.90,455.78 L1148.70,454.62 L1150.50,453.46 L1152.30,452.31 L1154.10,451.18 L1155.90,450.05 L1157.70,448.95 L1159.50,447.85 L1161.30,446.78 L1163.10,445.72 L1164.90,444.69 L1166.70,443.68 L1168.50,442.69 L1170.30,441.74 L1172.10,440.82 L1173.90,439.93 L1175.70,439.09 L1177.50,438.29 L1179.30,437.54 L1181.10,436.84 L1182.90,436.21 L1184.70,435.65 L1186.50,435.16 L1188.30,434.75 L1190.10,434.43 L1191.90,434.19 L1193.70,434.05 L1195.50,434.00 L1197.30,434.05 L1199.10,434.19 L1200.90,434.43 L1202.70,434.75 L1204.50,435.16 L1206.30,435.65 L1208.10,436.21 L1209.90,436.84 L1211.70,437.54 L1213.50,438.29 L1215.30,439.09 L1217.10,439.93 L1218.90,440.82 L1220.70,441.74 L1222.50,442.69 L1224.30,443.68 L1226.10,444.69 L1227.90,445.72 L1229.70,446.78 L1231.50,447.85 L1233.30,448.95 L1235.10,450.05 L1236.90,451.18 L1238.70,452.31 L1240.50,453.46 L1242.30,454.62 L1244.10,455.78 L1245.90,456.96 L1247.70,458.14 L1249.50,459.34" fill="none" stroke="#fce070" stroke-width="4.5" stroke-linecap="round"/>
<path d="M1141.50,459.34 L1143.30,458.14 L1145.10,456.96 L1146.90,455.78 L1148.70,454.62 L1150.50,453.46 L1152.30,452.31 L1154.10,451.18 L1155.90,450.05 L1157.70,448.95 L1159.50,447.85 L1161.30,446.78 L1163.10,445.72 L1164.90,444.69 L1166.70,443.68 L1168.50,442.69 L1170.30,441.74 L1172.10,440.82 L1173.90,439.93 L1175.70,439.09 L1177.50,438.29 L1179.30,437.54 L1181.10,436.84 L1182.90,436.21 L1184.70,435.65 L1186.50,435.16 L1188.30,434.75 L1190.10,434.43 L1191.90,434.19 L1193.70,434.05 L1195.50,434.00 L1197.30,434.05 L1199.10,434.19 L1200.90,434.43 L1202.70,434.75 L1204.50,435.16 L1206.30,435.65 L1208.10,436.21 L1209.90,436.84 L1211.70,437.54 L1213.50,438.29 L1215.30,439.09 L1217.10,439.93 L1218.90,440.82 L1220.70,441.74 L1222.50,442.69 L1224.30,443.68 L1226.10,444.69 L1227.90,445.72 L1229.70,446.78 L1231.50,447.85 L1233.30,448.95 L1235.10,450.05 L1236.90,451.18 L1238.70,452.31 L1240.50,453.46 L1242.30,454.62 L1244.10,455.78 L1245.90,456.96 L1247.70,458.14 L1249.50,459.34" fill="none" stroke="#ffffff" stroke-width="3.2" stroke-linecap="round"/>
<path d="M1129.50,367.07 L1131.70,368.69 L1133.90,370.32 L1136.10,371.94 L1138.30,373.57 L1140.50,375.19 L1142.70,376.81 L1144.90,378.44 L1147.10,380.06 L1149.30,381.68 L1151.50,383.30 L1153.70,384.92 L1155.90,386.54 L1158.10,388.16 L1160.30,389.78 L1162.50,391.40 L1164.70,393.01 L1166.90,394.62 L1169.10,396.23 L1171.30,397.84 L1173.50,399.45 L1175.70,401.04 L1177.90,402.63 L1180.10,404.22 L1182.30,405.78 L1184.50,407.32 L1186.70,408.83 L1188.90,410.27 L1191.10,411.57 L1193.30,412.59 L1195.50,413.00 L1197.70,412.59 L1199.90,411.57 L1202.10,410.27 L1204.30,408.83 L1206.50,407.32 L1208.70,405.78 L1210.90,404.22 L1213.10,402.63 L1215.30,401.04 L1217.50,399.45 L1219.70,397.84 L1221.90,396.23 L1224.10,394.62 L1226.30,393.01 L1228.50,391.40 L1230.70,389.78 L1232.90,388.16 L1235.10,386.54 L1237.30,384.92 L1239.50,383.30 L1241.70,381.68 L1243.90,380.06 L1246.10,378.44 L1248.30,376.81 L1250.50,375.19 L1252.70,373.57 L1254.90,371.94 L1257.10,370.32 L1259.30,368.69 L1261.50,367.07" fill="none" stroke="#c04010" stroke-width="4.0" stroke-linecap="round"/>
<path d="M1129.50,367.07 L1131.70,368.69 L1133.90,370.32 L1136.10,371.94 L1138.30,373.57 L1140.50,375.19 L1142.70,376.81 L1144.90,378.44 L1147.10,380.06 L1149.30,381.68 L1151.50,383.30 L1153.70,384.92 L1155.90,386.54 L1158.10,388.16 L1160.30,389.78 L1162.50,391.40 L1164.70,393.01 L1166.90,394.62 L1169.10,396.23 L1171.30,397.84 L1173.50,399.45 L1175.70,401.04 L1177.90,402.63 L1180.10,404.22 L1182.30,405.78 L1184.50,407.32 L1186.70,408.83 L1188.90,410.27 L1191.10,411.57 L1193.30,412.59 L1195.50,413.00 L1197.70,412.59 L1199.90,411.57 L1202.10,410.27 L1204.30,408.83 L1206.50,407.32 L1208.70,405.78 L1210.90,404.22 L1213.10,402.63 L1215.30,401.04 L1217.50,399.45 L1219.70,397.84 L1221.90,396.23 L1224.10,394.62 L1226.30,393.01 L1228.50,391.40 L1230.70,389.78 L1232.90,388.16 L1235.10,386.54 L1237.30,384.92 L1239.50,383.30 L1241.70,381.68 L1243.90,380.06 L1246.10,378.44 L1248.30,376.81 L1250.50,375.19 L1252.70,373.57 L1254.90,371.94 L1257.10,370.32 L1259.30,368.69 L1261.50,367.07" fill="none" stroke="#ffffff" stroke-width="2.5" stroke-linecap="round"/>
<path d="M1129.50,464.93 L1131.70,463.31 L1133.90,461.68 L1136.10,460.06 L1138.30,458.43 L1140.50,456.81 L1142.70,455.19 L1144.90,453.56 L1147.10,451.94 L1149.30,450.32 L1151.50,448.70 L1153.70,447.08 L1155.90,445.46 L1158.10,443.84 L1160.30,442.22 L1162.50,440.60 L1164.70,438.99 L1166.90,437.38 L1169.10,435.77 L1171.30,434.16 L1173.50,432.55 L1175.70,430.96 L1177.90,429.37 L1180.10,427.78 L1182.30,426.22 L1184.50,424.68 L1186.70,423.17 L1188.90,421.73 L1191.10,420.43 L1193.30,419.41 L1195.50,419.00 L1197.70,419.41 L1199.90,420.43 L1202.10,421.73 L1204.30,423.17 L1206.50,424.68 L1208.70,426.22 L1210.90,427.78 L1213.10,429.37 L1215.30,430.96 L1217.50,432.55 L1219.70,434.16 L1221.90,435.77 L1224.10,437.38 L1226.30,438.99 L1228.50,440.60 L1230.70,442.22 L1232.90,443.84 L1235.10,445.46 L1237.30,447.08 L1239.50,448.70 L1241.70,450.32 L1243.90,451.94 L1246.10,453.56 L1248.30,455.19 L1250.50,456.81 L1252.70,458.43 L1254.90,460.06 L1257.10,461.68 L1259.30,463.31 L1261.50,464.93" fill="none" stroke="#c04010" stroke-width="4.0" stroke-linecap="round"/>
<path d="M1129.50,464.93 L1131.70,463.31 L1133.90,461.68 L1136.10,460.06 L1138.30,458.43 L1140.50,456.81 L1142.70,455.19 L1144.90,453.56 L1147.10,451.94 L1149.30,450.32 L1151.50,448.70 L1153.70,447.08 L1155.90,445.46 L1158.10,443.84 L1160.30,442.22 L1162.50,440.60 L1164.70,438.99 L1166.90,437.38 L1169.10,435.77 L1171.30,434.16 L1173.50,432.55 L1175.70,430.96 L1177.90,429.37 L1180.10,427.78 L1182.30,426.22 L1184.50,424.68 L1186.70,423.17 L1188.90,421.73 L1191.10,420.43 L1193.30,419.41 L1195.50,419.00 L1197.70,419.41 L1199.90,420.43 L1202.10,421.73 L1204.30,423.17 L1206.50,424.68 L1208.70,426.22 L1210.90,427.78 L1213.10,429.37 L1215.30,430.96 L1217.50,432.55 L1219.70,434.16 L1221.90,435.77 L1224.10,437.38 L1226.30,438.99 L1228.50,440.60 L1230.70,442.22 L1232.90,443.84 L1235.10,445.46 L1237.30,447.08 L1239.50,448.70 L1241.70,450.32 L1243.90,451.94 L1246.10,453.56 L1248.30,455.19 L1250.50,456.81 L1252.70,458.43 L1254.90,460.06 L1257.10,461.68 L1259.30,463.31 L1261.50,464.93" fill="none" stroke="#ffffff" stroke-width="2.5" stroke-linecap="round"/>
</g>
<path d="M1180,409 L1195.5,415 L1180,422 Z M1211,409 L1195.5,415 L1211,422 Z" fill="#6a6a6a"/>
<line x1="1181" y1="410.5" x2="1210" y2="410.5" stroke="#d8d8d8" stroke-width="0.7"/>
<line x1="1181" y1="413.0" x2="1210" y2="413.0" stroke="#d8d8d8" stroke-width="0.7"/>
<line x1="1181" y1="415.5" x2="1210" y2="415.5" stroke="#d8d8d8" stroke-width="0.7"/>
<line x1="1181" y1="418.0" x2="1210" y2="418.0" stroke="#d8d8d8" stroke-width="0.7"/>
<line x1="1181" y1="420.5" x2="1210" y2="420.5" stroke="#d8d8d8" stroke-width="0.7"/>
<rect x="1194.5" y="411" width="2.2" height="9" fill="#fff"/>
</g>
<rect x="1285" y="335" width="28" height="168" fill="url(#cm)"/>
<clipPath id="ce"><rect x="91" y="607.5" width="525.6" height="274.8"/></clipPath>
<clipPath id="cf"><rect x="91" y="942" width="526" height="260"/></clipPath>
<line x1="145.2" y1="613.0" x2="145.2" y2="883.3" stroke="#000" stroke-width="1.6" stroke-dasharray="6.1 3.4"/>
<line x1="125.80" y1="883.30" x2="125.80" y2="873.80" stroke="#000" stroke-width="1.8"/>
<line x1="161.60" y1="883.30" x2="161.60" y2="873.80" stroke="#000" stroke-width="1.8"/>
<line x1="197.40" y1="883.30" x2="197.40" y2="873.80" stroke="#000" stroke-width="1.8"/>
<line x1="233.20" y1="883.30" x2="233.20" y2="873.80" stroke="#000" stroke-width="1.8"/>
<line x1="269.00" y1="883.30" x2="269.00" y2="864.30" stroke="#000" stroke-width="1.8"/>
<line x1="304.80" y1="883.30" x2="304.80" y2="873.80" stroke="#000" stroke-width="1.8"/>
<line x1="340.60" y1="883.30" x2="340.60" y2="873.80" stroke="#000" stroke-width="1.8"/>
<line x1="376.40" y1="883.30" x2="376.40" y2="873.80" stroke="#000" stroke-width="1.8"/>
<line x1="412.20" y1="883.30" x2="412.20" y2="873.80" stroke="#000" stroke-width="1.8"/>
<line x1="448.00" y1="883.30" x2="448.00" y2="864.30" stroke="#000" stroke-width="1.8"/>
<line x1="483.80" y1="883.30" x2="483.80" y2="873.80" stroke="#000" stroke-width="1.8"/>
<line x1="519.60" y1="883.30" x2="519.60" y2="873.80" stroke="#000" stroke-width="1.8"/>
<line x1="555.40" y1="883.30" x2="555.40" y2="873.80" stroke="#000" stroke-width="1.8"/>
<line x1="591.20" y1="883.30" x2="591.20" y2="873.80" stroke="#000" stroke-width="1.8"/>
<line x1="123.0" y1="947.7" x2="123.0" y2="1203.2" stroke="#000" stroke-width="1.6" stroke-dasharray="6.1 3.4"/>
<line x1="125.80" y1="1203.20" x2="125.80" y2="1193.70" stroke="#000" stroke-width="1.8"/>
<line x1="161.60" y1="1203.20" x2="161.60" y2="1193.70" stroke="#000" stroke-width="1.8"/>
<line x1="197.40" y1="1203.20" x2="197.40" y2="1193.70" stroke="#000" stroke-width="1.8"/>
<line x1="233.20" y1="1203.20" x2="233.20" y2="1193.70" stroke="#000" stroke-width="1.8"/>
<line x1="269.00" y1="1203.20" x2="269.00" y2="1184.20" stroke="#000" stroke-width="1.8"/>
<line x1="304.80" y1="1203.20" x2="304.80" y2="1193.70" stroke="#000" stroke-width="1.8"/>
<line x1="340.60" y1="1203.20" x2="340.60" y2="1193.70" stroke="#000" stroke-width="1.8"/>
<line x1="376.40" y1="1203.20" x2="376.40" y2="1193.70" stroke="#000" stroke-width="1.8"/>
<line x1="412.20" y1="1203.20" x2="412.20" y2="1193.70" stroke="#000" stroke-width="1.8"/>
<line x1="448.00" y1="1203.20" x2="448.00" y2="1184.20" stroke="#000" stroke-width="1.8"/>
<line x1="483.80" y1="1203.20" x2="483.80" y2="1193.70" stroke="#000" stroke-width="1.8"/>
<line x1="519.60" y1="1203.20" x2="519.60" y2="1193.70" stroke="#000" stroke-width="1.8"/>
<line x1="555.40" y1="1203.20" x2="555.40" y2="1193.70" stroke="#000" stroke-width="1.8"/>
<line x1="591.20" y1="1203.20" x2="591.20" y2="1193.70" stroke="#000" stroke-width="1.8"/>
<g clip-path="url(#ce)" fill="none" stroke-width="2.35" stroke-linejoin="round">
<path d="M124.00,890.00 C124.70,882.53 126.92,860.02 128.20,845.20 C129.48,830.38 130.52,814.62 131.70,801.10 C132.88,787.58 133.97,774.97 135.30,764.10 C136.63,753.23 137.93,742.32 139.70,735.90 C141.47,729.48 143.98,726.93 145.90,725.60 C147.82,724.27 149.58,725.90 151.20,727.90 C152.82,729.90 153.40,730.40 155.60,737.60 C157.80,744.80 161.47,760.52 164.40,771.10 C167.33,781.68 170.27,792.57 173.20,801.10 C176.13,809.63 179.07,816.12 182.00,822.30 C184.93,828.48 187.85,833.80 190.80,838.20 C193.75,842.60 196.90,846.35 199.70,848.70 C202.50,851.05 204.67,852.30 207.60,852.30 C210.53,852.30 214.22,850.47 217.30,848.70 C220.38,846.93 223.17,843.90 226.10,841.70 C229.03,839.50 231.43,837.27 234.90,835.50 C238.37,833.73 243.75,831.60 246.90,831.10 C250.05,830.60 250.35,831.12 253.80,832.50 C257.25,833.88 263.00,837.43 267.60,839.40 C272.20,841.37 277.48,843.33 281.40,844.30 C285.32,845.27 287.65,845.55 291.10,845.20 C294.55,844.85 297.97,843.62 302.10,842.20 C306.23,840.78 311.30,838.13 315.90,836.70 C320.50,835.27 325.78,834.02 329.70,833.60 C333.62,833.18 335.95,833.68 339.40,834.20 C342.85,834.72 346.27,835.98 350.40,836.70 C354.53,837.42 359.60,838.23 364.20,838.50 C368.80,838.77 373.40,838.60 378.00,838.30 C382.60,838.00 387.18,837.38 391.80,836.70 C396.42,836.02 402.03,834.72 405.70,834.20 C409.37,833.68 410.15,833.77 413.80,833.60 C417.45,833.43 423.00,833.10 427.60,833.20 C432.20,833.30 436.80,834.03 441.40,834.20 C446.00,834.37 450.60,834.53 455.20,834.20 C459.80,833.87 464.40,832.82 469.00,832.20 C473.60,831.58 477.05,830.90 482.80,830.50 C488.55,830.10 497.75,829.70 503.50,829.80 C509.25,829.90 513.38,830.58 517.30,831.10 C521.22,831.62 523.27,832.43 527.00,832.90 C530.73,833.37 537.58,833.73 539.70,833.90" stroke="#3078bc"/>
<path d="M90.30,805.50 C91.33,804.77 94.45,804.18 96.50,801.10 C98.55,798.02 100.10,794.93 102.60,787.00 C105.10,779.07 108.55,764.97 111.50,753.50 C114.45,742.03 117.37,728.63 120.30,718.20 C123.23,707.77 126.17,697.95 129.10,690.90 C132.03,683.85 135.10,679.05 137.90,675.90 C140.70,672.75 142.95,671.85 145.90,672.00 C148.85,672.15 152.52,674.10 155.60,676.80 C158.68,679.50 161.47,683.35 164.40,688.20 C167.33,693.05 170.27,698.83 173.20,705.90 C176.13,712.97 179.07,722.37 182.00,730.60 C184.93,738.83 187.85,747.37 190.80,755.30 C193.75,763.23 196.75,771.15 199.70,778.20 C202.65,785.25 205.27,792.95 208.50,797.60 C211.73,802.25 215.87,805.22 219.10,806.10 C222.33,806.98 224.97,805.50 227.90,802.90 C230.83,800.30 233.53,795.00 236.70,790.50 C239.87,786.00 244.05,780.17 246.90,775.90 C249.75,771.63 251.50,768.47 253.80,764.90 C256.10,761.33 258.40,757.72 260.70,754.50 C263.00,751.28 265.30,748.13 267.60,745.60 C269.90,743.07 272.20,740.92 274.50,739.30 C276.80,737.68 279.10,736.65 281.40,735.90 C283.70,735.15 286.00,734.75 288.30,734.80 C290.60,734.85 292.90,735.45 295.20,736.20 C297.50,736.95 299.80,737.97 302.10,739.30 C304.40,740.63 306.70,742.35 309.00,744.20 C311.30,746.05 313.60,748.22 315.90,750.40 C318.20,752.58 320.50,754.88 322.80,757.30 C325.10,759.72 327.40,762.48 329.70,764.90 C332.00,767.32 334.30,769.62 336.60,771.80 C338.90,773.98 341.20,776.20 343.50,778.00 C345.80,779.80 347.87,781.52 350.40,782.60 C352.93,783.68 355.93,784.35 358.70,784.50 C361.47,784.65 364.23,784.28 367.00,783.50 C369.77,782.72 372.30,781.40 375.30,779.80 C378.30,778.20 383.17,775.35 385.00,773.90 C386.83,772.45 384.00,773.52 386.30,771.10 C388.60,768.68 395.37,762.05 398.80,759.40 C402.23,756.75 404.40,756.53 406.90,755.20 C409.40,753.87 411.50,752.50 413.80,751.40 C416.10,750.30 418.40,749.43 420.70,748.60 C423.00,747.77 425.30,747.13 427.60,746.40 C429.90,745.67 431.97,744.75 434.50,744.20 C437.03,743.65 440.03,743.10 442.80,743.10 C445.57,743.10 448.33,743.45 451.10,744.20 C453.87,744.95 456.42,746.22 459.40,747.60 C462.38,748.98 465.10,750.43 469.00,752.50 C472.90,754.57 478.20,757.52 482.80,760.00 C487.40,762.48 492.45,765.43 496.60,767.40 C500.75,769.37 504.25,770.62 507.70,771.80 C511.15,772.98 513.40,773.53 517.30,774.50 C521.20,775.47 526.48,776.78 531.10,777.60 C535.72,778.42 539.70,778.98 545.00,779.40 C550.30,779.82 559.92,779.98 562.90,780.10" stroke="#e2141c"/>
</g>
<g clip-path="url(#cf)" fill="none" stroke-width="2.35" stroke-linejoin="round">
<path d="M90.40,1108.00 C91.03,1104.93 92.55,1099.05 94.20,1089.60 C95.85,1080.15 98.52,1062.03 100.30,1051.30 C102.08,1040.57 103.10,1032.87 104.90,1025.20 C106.70,1017.53 109.30,1010.80 111.10,1005.30 C112.90,999.80 113.67,995.65 115.70,992.20 C117.73,988.75 121.00,984.72 123.30,984.60 C125.60,984.48 127.45,987.55 129.50,991.50 C131.55,995.45 133.57,1000.38 135.60,1008.30 C137.63,1016.22 139.65,1027.50 141.70,1039.00 C143.75,1050.50 145.85,1064.78 147.90,1077.30 C149.95,1089.82 151.45,1103.87 154.00,1114.10 C156.55,1124.33 160.38,1132.82 163.20,1138.70 C166.02,1144.58 168.47,1146.47 170.90,1149.40 C173.33,1152.33 175.25,1156.55 177.80,1156.30 C180.35,1156.05 183.52,1152.12 186.20,1147.90 C188.88,1143.68 191.35,1137.65 193.90,1131.00 C196.45,1124.35 198.95,1113.88 201.50,1108.00 C204.05,1102.12 206.63,1097.87 209.20,1095.70 C211.77,1093.53 214.08,1094.35 216.90,1095.00 C219.72,1095.65 223.03,1097.30 226.10,1099.60 C229.17,1101.90 232.50,1104.85 235.30,1108.80 C238.10,1112.75 240.60,1119.85 242.90,1123.30 C245.20,1126.75 246.80,1126.82 249.10,1129.50 C251.40,1132.18 254.83,1137.43 256.70,1139.40 C258.57,1141.37 258.37,1140.42 260.30,1141.30 C262.23,1142.18 265.18,1144.58 268.30,1144.70 C271.42,1144.82 276.77,1142.33 279.00,1142.00 C281.23,1141.67 280.58,1143.30 281.70,1142.70 C282.82,1142.10 283.48,1139.52 285.70,1138.40 C287.92,1137.28 292.57,1137.40 295.00,1136.00 C297.43,1134.60 298.75,1131.38 300.30,1130.00 C301.85,1128.62 302.52,1128.37 304.30,1127.70 C306.08,1127.03 308.10,1126.80 311.00,1126.00 C313.90,1125.20 318.37,1123.35 321.70,1122.90 C325.03,1122.45 327.90,1122.57 331.00,1123.30 C334.10,1124.03 337.63,1126.07 340.30,1127.30 C342.97,1128.53 343.88,1129.85 347.00,1130.70 C350.12,1131.55 356.12,1131.73 359.00,1132.40 C361.88,1133.07 362.08,1134.03 364.30,1134.70 C366.52,1135.37 369.18,1136.30 372.30,1136.40 C375.42,1136.50 379.43,1135.92 383.00,1135.30 C386.57,1134.68 390.58,1133.58 393.70,1132.70 C396.82,1131.82 398.15,1131.00 401.70,1130.00 C405.25,1129.00 411.23,1127.15 415.00,1126.70 C418.77,1126.25 421.80,1127.08 424.30,1127.30 C426.80,1127.52 426.83,1127.55 430.00,1128.00 C433.17,1128.45 439.97,1129.22 443.30,1130.00 C446.63,1130.78 446.88,1131.58 450.00,1132.70 C453.12,1133.82 458.67,1136.15 462.00,1136.70 C465.33,1137.25 467.55,1135.78 470.00,1136.00 C472.45,1136.22 474.03,1137.72 476.70,1138.00 C479.37,1138.28 483.12,1137.58 486.00,1137.70 C488.88,1137.82 491.12,1138.43 494.00,1138.70 C496.88,1138.97 500.63,1139.53 503.30,1139.30 C505.97,1139.07 507.77,1138.18 510.00,1137.30 C512.23,1136.42 514.03,1134.88 516.70,1134.00 C519.37,1133.12 523.33,1132.00 526.00,1132.00 C528.67,1132.00 530.92,1133.85 532.70,1134.00 C534.48,1134.15 534.93,1133.12 536.70,1132.90 C538.47,1132.68 540.63,1132.57 543.30,1132.70 C545.97,1132.83 549.37,1133.27 552.70,1133.70 C556.03,1134.13 559.97,1134.58 563.30,1135.30 C566.63,1136.02 569.37,1137.10 572.70,1138.00 C576.03,1138.90 579.30,1140.03 583.30,1140.70 C587.30,1141.37 594.47,1141.78 596.70,1142.00" stroke="#3078bc"/>
<path d="M90.40,1101.10 C91.03,1100.20 92.55,1100.93 94.20,1095.70 C95.85,1090.47 98.00,1080.43 100.30,1069.70 C102.60,1058.97 105.43,1042.80 108.00,1031.30 C110.57,1019.80 113.15,1008.23 115.70,1000.70 C118.25,993.17 120.75,986.37 123.30,986.10 C125.85,985.83 128.43,992.07 131.00,999.10 C133.57,1006.13 136.15,1017.82 138.70,1028.30 C141.25,1038.78 143.75,1051.78 146.30,1062.00 C148.85,1072.22 151.43,1081.93 154.00,1089.60 C156.57,1097.27 159.65,1104.30 161.70,1108.00 C163.75,1111.70 164.52,1112.32 166.30,1111.80 C168.08,1111.28 170.10,1109.88 172.40,1104.90 C174.70,1099.92 177.55,1089.30 180.10,1081.90 C182.65,1074.50 185.15,1066.25 187.70,1060.50 C190.25,1054.75 192.45,1050.85 195.40,1047.40 C198.35,1043.95 202.58,1039.92 205.40,1039.80 C208.22,1039.68 209.88,1042.75 212.30,1046.70 C214.72,1050.65 217.60,1058.90 219.90,1063.50 C222.20,1068.10 223.80,1070.20 226.10,1074.30 C228.40,1078.40 231.40,1084.27 233.70,1088.10 C236.00,1091.93 237.85,1095.27 239.90,1097.30 C241.95,1099.33 243.70,1101.07 246.00,1100.30 C248.30,1099.53 251.32,1094.63 253.70,1092.70 C256.08,1090.77 258.30,1090.37 260.30,1088.70 C262.30,1087.03 264.13,1084.82 265.70,1082.70 C267.27,1080.58 268.15,1078.23 269.70,1076.00 C271.25,1073.77 273.12,1071.30 275.00,1069.30 C276.88,1067.30 279.22,1064.67 281.00,1064.00 C282.78,1063.33 283.37,1063.52 285.70,1065.30 C288.03,1067.08 292.33,1072.37 295.00,1074.70 C297.67,1077.03 299.03,1077.30 301.70,1079.30 C304.37,1081.30 308.12,1085.25 311.00,1086.70 C313.88,1088.15 316.55,1088.12 319.00,1088.00 C321.45,1087.88 323.48,1087.12 325.70,1086.00 C327.92,1084.88 329.87,1083.52 332.30,1081.30 C334.73,1079.08 337.63,1074.70 340.30,1072.70 C342.97,1070.70 345.40,1070.30 348.30,1069.30 C351.20,1068.30 354.37,1066.92 357.70,1066.70 C361.03,1066.48 365.42,1067.33 368.30,1068.00 C371.18,1068.67 372.77,1069.58 375.00,1070.70 C377.23,1071.82 379.03,1073.27 381.70,1074.70 C384.37,1076.13 388.12,1078.23 391.00,1079.30 C393.88,1080.37 395.88,1080.87 399.00,1081.10 C402.12,1081.33 405.92,1081.10 409.70,1080.70 C413.48,1080.30 418.32,1079.15 421.70,1078.70 C425.08,1078.25 427.28,1078.12 430.00,1078.00 C432.72,1077.88 435.78,1077.78 438.00,1078.00 C440.22,1078.22 440.63,1078.90 443.30,1079.30 C445.97,1079.70 451.33,1079.83 454.00,1080.40 C456.67,1080.97 457.30,1081.82 459.30,1082.70 C461.30,1083.58 464.00,1085.33 466.00,1085.70 C468.00,1086.07 468.85,1085.52 471.30,1084.90 C473.75,1084.28 477.37,1082.82 480.70,1082.00 C484.03,1081.18 487.97,1080.78 491.30,1080.00 C494.63,1079.22 497.80,1078.18 500.70,1077.30 C503.60,1076.42 506.27,1074.80 508.70,1074.70 C511.13,1074.60 512.87,1075.70 515.30,1076.70 C517.73,1077.70 520.63,1079.33 523.30,1080.70 C525.97,1082.07 529.07,1084.07 531.30,1084.90 C533.53,1085.73 534.25,1085.63 536.70,1085.70 C539.15,1085.77 543.78,1085.52 546.00,1085.30 C548.22,1085.08 548.05,1084.50 550.00,1084.40 C551.95,1084.30 556.42,1084.65 557.70,1084.70" stroke="#e2141c"/>
</g>
<rect x="90" y="606.5" width="527.7" height="276.8" fill="none" stroke="#000" stroke-width="2.3"/>
<rect x="90" y="941.2" width="528.2" height="262" fill="none" stroke="#000" stroke-width="2.3"/>
<line x1="404.8" y1="669.3" x2="449.7" y2="669.3" stroke="#e2141c" stroke-width="2.7"/>
<line x1="404.8" y1="711.8" x2="449.7" y2="711.8" stroke="#3078bc" stroke-width="2.7"/>
<g clip-path="url(#cg)">
<rect x="706" y="598" width="482" height="647" fill="#da6e2c"/>
<g filter="url(#b20)">
<ellipse cx="770" cy="1100" rx="70" ry="160" fill="#e4883a" opacity="0.7"/>
<ellipse cx="790" cy="700" rx="90" ry="90" fill="#de7c34" opacity="0.5"/>
<ellipse cx="960" cy="720" rx="38" ry="110" fill="#c8502c" opacity="0.6" transform="rotate(-12 960 720)"/>
<path d="M845,598 L905,720" stroke="#e8983a" stroke-width="26" opacity="0.6"/>
<path d="M708,600 L708,1245" stroke="#c8582a" stroke-width="8" opacity="0.5"/>
<ellipse cx="905" cy="690" rx="30" ry="90" fill="#e6923a" opacity="0.5" transform="rotate(-25 905 690)"/>
<ellipse cx="930" cy="1120" rx="40" ry="130" fill="#d87234" opacity="0.6"/>
</g>
<g filter="url(#b8)">
<path d="M1022,598 L1058,598 L1060,860 L1064,1245 L984,1245 L986,960 L996,905 L1016,870 Z" fill="#b9382c"/>
<path d="M1066,598 L1104,598 L1106,1245 L1062,1245 L1064,900 Z" fill="#e8a63e"/>
<path d="M1070,598 L1100,598 L1100,690 L1072,690 Z" fill="#f2c24a" opacity="0.8"/>
<path d="M1068,760 L1100,760 L1100,800 L1068,800 Z" fill="#efb848" opacity="0.6"/>
<path d="M1106,598 L1138,598 L1140,1245 L1106,1245 Z" fill="#ac322c"/>
<path d="M1110,598 L1138,598 L1138,720 L1112,720 Z" fill="#7a2a36"/>
<path d="M1104,885 L1140,885 L1140,960 L1104,960 Z" fill="#5a2030"/>
<path d="M1148,598 L1188,598 L1188,1245 L1152,1245 Z" fill="#bb3a2a"/>
<ellipse cx="1178" cy="926" rx="16" ry="24" fill="#4a1826"/>
<ellipse cx="1176" cy="660" rx="14" ry="26" fill="#7e2e3a"/>
</g>
<g filter="url(#b5)">
<path d="M940,950 C960,940 990,950 998,975 C995,995 960,998 942,990 Z" fill="#f0b844"/>
<ellipse cx="871" cy="940" rx="24" ry="14" fill="#ecac40" transform="rotate(20 871 940)"/>
<ellipse cx="830" cy="888" rx="18" ry="11" fill="#eaa83e"/>
<ellipse cx="918" cy="925" rx="25" ry="22" fill="#d06630" opacity="0.7"/>
<path d="M725,870 C770,890 820,915 865,952" fill="none" stroke="#cd602e" stroke-width="10" opacity="0.7"/>
</g>
<g filter="url(#b3)">
<path d="M866,950 C905,1030 950,1130 984,1245" fill="none" stroke="#c24a2c" stroke-width="5"/>
<path d="M884,975 C925,1045 968,1135 1000,1245" fill="none" stroke="#ecb044" stroke-width="9"/>
</g>
<rect x="706" y="598" width="482" height="647" fill="url(#np1)" style="mix-blend-mode:overlay" opacity="0.3"/>
<g filter="url(#b1)"><path d="M1136.5,598 L1147.5,598 L1152.5,1245 L1141,1245 Z" fill="#ffffff"/></g>
</g>
<rect x="706" y="598" width="482" height="1.5" fill="#8a7a58" opacity="0.7"/>
<rect x="1226" y="601" width="48.5" height="643" fill="url(#cm)"/>
<rect x="739.3" y="721.8" width="168" height="4.6" fill="#000"/>
<line x1="706" y1="831" x2="1123" y2="884.7" stroke="#fff" stroke-width="1.8" stroke-dasharray="7 4"/>
<path d="M730,1111 L730,1201 L823,1201" fill="none" stroke="#000" stroke-width="3.5"/>
<path d="M730,1093.6 L721.6,1110 L738.4,1110 Z" fill="#000"/>
<path d="M837.5,1201 L821,1192 L821,1210 Z" fill="#000"/>
<path d="M524.3,977.5 L561.5,977.5" stroke="#000" stroke-width="1.8" fill="none"/><path d="M552.7,970.4 Q557,975 562.6,977.5 Q557,980 552.7,985" stroke="#000" stroke-width="1.9" fill="none"/>
<g transform="rotate(7 808 815)">
<text x="718.51" y="825.00" font-size="42.00" font-weight="normal" font-style="italic" fill="#fff" textLength="69.62" lengthAdjust="spacingAndGlyphs" stroke="#fff" stroke-width="0.70" stroke-linejoin="round" >WO</text>
<text x="786.32" y="829.10" font-size="21.00" font-weight="normal" font-style="normal" fill="#fff" textLength="12.34" lengthAdjust="spacingAndGlyphs" stroke="#fff" stroke-width="0.70" stroke-linejoin="round" >x</text>
<text x="807.66" y="824.00" font-size="38.00" font-weight="normal" font-style="normal" fill="#fff" textLength="86.06" lengthAdjust="spacingAndGlyphs" stroke="#fff" stroke-width="0.70" stroke-linejoin="round" >edge</text>
</g>
<text x="-0.42" y="35.20" font-size="48.50" font-weight="bold" font-style="normal" fill="#000" textLength="25.03" lengthAdjust="spacingAndGlyphs" >a</text>
<text x="679.62" y="35.00" font-size="48.50" font-weight="bold" font-style="normal" fill="#000" textLength="30.43" lengthAdjust="spacingAndGlyphs" >b</text>
<text x="1070.29" y="35.00" font-size="48.00" font-weight="bold" font-style="normal" fill="#000" textLength="27.25" lengthAdjust="spacingAndGlyphs" >c</text>
<text x="1069.86" y="322.00" font-size="48.50" font-weight="bold" font-style="normal" fill="#000" textLength="30.43" lengthAdjust="spacingAndGlyphs" >d</text>
<text x="-1.03" y="609.80" font-size="48.50" font-weight="bold" font-style="normal" fill="#000" textLength="27.52" lengthAdjust="spacingAndGlyphs" >e</text>
<text x="-0.70" y="943.00" font-size="49.00" font-weight="bold" font-style="normal" fill="#000" textLength="17.50" lengthAdjust="spacingAndGlyphs" >f</text>
<text x="663.97" y="609.60" font-size="48.50" font-weight="bold" font-style="normal" fill="#000" textLength="30.24" lengthAdjust="spacingAndGlyphs" >g</text>
<text x="58.10" y="48.20" font-size="42.80" font-weight="normal" font-style="normal" fill="#000" textLength="32.72" lengthAdjust="spacingAndGlyphs" stroke="#000" stroke-width="0.70" stroke-linejoin="round" >ω</text>
<text x="97.75" y="48.20" font-size="42.80" font-weight="normal" font-style="normal" fill="#000" textLength="24.52" lengthAdjust="spacingAndGlyphs" stroke="#000" stroke-width="0.70" stroke-linejoin="round" >=</text>
<text x="130.94" y="48.20" font-size="42.80" font-weight="normal" font-style="normal" fill="#000" textLength="62.73" lengthAdjust="spacingAndGlyphs" stroke="#000" stroke-width="0.70" stroke-linejoin="round" >900</text>
<text x="203.91" y="48.20" font-size="42.80" font-weight="normal" font-style="normal" fill="#000" textLength="53.12" lengthAdjust="spacingAndGlyphs" stroke="#000" stroke-width="0.70" stroke-linejoin="round" >cm</text>
<text x="254.09" y="31.70" font-size="26.50" font-weight="normal" font-style="normal" fill="#000" textLength="18.21" lengthAdjust="spacingAndGlyphs" stroke="#000" stroke-width="0.70" stroke-linejoin="round" >-1</text>
<text x="466.38" y="47.80" font-size="40.50" font-weight="normal" font-style="normal" fill="#000" textLength="107.10" lengthAdjust="spacingAndGlyphs" stroke="#000" stroke-width="0.70" stroke-linejoin="round" >doped</text>
<text x="66.06" y="128.00" font-size="42.90" font-weight="normal" font-style="normal" fill="#000" textLength="86.48" lengthAdjust="spacingAndGlyphs" stroke="#000" stroke-width="0.70" stroke-linejoin="round" >1 μm</text>
<text x="640.78" y="93.00" font-size="43.50" font-weight="normal" font-style="normal" fill="#000" textLength="31.03" lengthAdjust="spacingAndGlyphs" stroke="#000" stroke-width="0.70" stroke-linejoin="round" >H</text>
<text x="642.69" y="530.70" font-size="43.60" font-weight="normal" font-style="normal" fill="#000" textLength="24.47" lengthAdjust="spacingAndGlyphs" stroke="#000" stroke-width="0.70" stroke-linejoin="round" >L</text>
<text transform="translate(643.50 0) rotate(90)" x="186.20" y="0" font-size="43.00" font-weight="normal" font-style="normal" fill="#000" textLength="234.66" lengthAdjust="spacingAndGlyphs" stroke="#000" stroke-width="0.70" stroke-linejoin="round" >SA [arb. units]</text>
<text transform="translate(282.30 0) rotate(-90)" x="-378.88" y="0" font-size="36.00" font-weight="normal" font-style="normal" fill="#fff" textLength="71.06" lengthAdjust="spacingAndGlyphs" stroke="#fff" stroke-width="0.70" stroke-linejoin="round" >[100]</text>
<text x="289.45" y="392.20" font-size="34.00" font-weight="normal" font-style="normal" fill="#fff" textLength="70.09" lengthAdjust="spacingAndGlyphs" stroke="#fff" stroke-width="0.70" stroke-linejoin="round" >[001]</text>
<text x="956.14" y="99.30" font-size="43.00" font-weight="normal" font-style="normal" fill="#fff" textLength="85.51" lengthAdjust="spacingAndGlyphs" stroke="#fff" stroke-width="0.70" stroke-linejoin="round" >Re E</text>
<text x="1039.00" y="103.60" font-size="24.40" font-weight="normal" font-style="normal" fill="#fff" textLength="14.77" lengthAdjust="spacingAndGlyphs" stroke="#fff" stroke-width="0.70" stroke-linejoin="round" >z</text>
<text x="801.54" y="107.50" font-size="36.00" font-weight="normal" font-style="normal" fill="#fff" textLength="70.63" lengthAdjust="spacingAndGlyphs" stroke="#fff" stroke-width="0.70" stroke-linejoin="round" >[001]</text>
<text transform="translate(785.70 0) rotate(-90)" x="-173.29" y="0" font-size="36.40" font-weight="normal" font-style="normal" fill="#fff" textLength="71.48" lengthAdjust="spacingAndGlyphs" stroke="#fff" stroke-width="0.70" stroke-linejoin="round" >[100]</text>
<text x="1119.82" y="47.00" font-size="41.80" font-weight="normal" font-style="normal" fill="#000" textLength="148.64" lengthAdjust="spacingAndGlyphs" stroke="#000" stroke-width="0.70" stroke-linejoin="round" >undoped</text>
<text x="1285.53" y="81.60" font-size="42.50" font-weight="normal" font-style="normal" fill="#000" textLength="30.51" lengthAdjust="spacingAndGlyphs" stroke="#000" stroke-width="0.70" stroke-linejoin="round" >H</text>
<text x="1284.83" y="273.00" font-size="43.30" font-weight="normal" font-style="normal" fill="#000" textLength="24.22" lengthAdjust="spacingAndGlyphs" stroke="#000" stroke-width="0.70" stroke-linejoin="round" >L</text>
<text transform="translate(1319.50 0) rotate(90)" x="136.72" y="0" font-size="43.00" font-weight="normal" font-style="normal" fill="#000" textLength="52.36" lengthAdjust="spacingAndGlyphs" stroke="#000" stroke-width="0.70" stroke-linejoin="round" >SA</text>
<text x="1158.50" y="258.70" font-size="34.40" font-weight="normal" font-style="normal" fill="#000" textLength="73.67" lengthAdjust="spacingAndGlyphs" stroke="#000" stroke-width="0.70" stroke-linejoin="round" >1 μm</text>
<text x="1285.53" y="332.60" font-size="43.50" font-weight="normal" font-style="normal" fill="#000" textLength="30.51" lengthAdjust="spacingAndGlyphs" stroke="#000" stroke-width="0.70" stroke-linejoin="round" >H</text>
<text x="1284.83" y="534.90" font-size="43.20" font-weight="normal" font-style="normal" fill="#000" textLength="24.22" lengthAdjust="spacingAndGlyphs" stroke="#000" stroke-width="0.70" stroke-linejoin="round" >L</text>
<text transform="translate(1319.00 0) rotate(90)" x="371.48" y="0" font-size="43.90" font-weight="normal" font-style="normal" fill="#000" textLength="81.91" lengthAdjust="spacingAndGlyphs" stroke="#000" stroke-width="0.70" stroke-linejoin="round" >Re E</text>
<text transform="translate(1314.80 0) rotate(90)" x="454.93" y="0" font-size="24.40" font-weight="normal" font-style="normal" fill="#000" textLength="13.18" lengthAdjust="spacingAndGlyphs" stroke="#000" stroke-width="0.70" stroke-linejoin="round" >z</text>
<text x="504.57" y="598.90" font-size="40.00" font-weight="normal" font-style="normal" fill="#000" textLength="107.72" lengthAdjust="spacingAndGlyphs" stroke="#000" stroke-width="0.70" stroke-linejoin="round" >doped</text>
<text x="490.66" y="682.60" font-size="43.00" font-weight="normal" font-style="normal" fill="#000" textLength="85.59" lengthAdjust="spacingAndGlyphs" stroke="#000" stroke-width="0.70" stroke-linejoin="round" >[100]</text>
<text x="490.66" y="724.80" font-size="43.00" font-weight="normal" font-style="normal" fill="#000" textLength="85.59" lengthAdjust="spacingAndGlyphs" stroke="#000" stroke-width="0.70" stroke-linejoin="round" >[001]</text>
<text transform="translate(72.90 0) rotate(-90)" x="-861.20" y="0" font-size="43.50" font-weight="normal" font-style="normal" fill="#000" textLength="235.37" lengthAdjust="spacingAndGlyphs" stroke="#000" stroke-width="0.70" stroke-linejoin="round" >SA [arb. units]</text>
<text x="79.67" y="923.10" font-size="39.40" font-weight="normal" font-style="normal" fill="#000" textLength="21.76" lengthAdjust="spacingAndGlyphs" stroke="#000" stroke-width="0.70" stroke-linejoin="round" >0</text>
<text x="231.16" y="923.10" font-size="39.40" font-weight="normal" font-style="normal" fill="#000" textLength="77.20" lengthAdjust="spacingAndGlyphs" stroke="#000" stroke-width="0.70" stroke-linejoin="round" >1000</text>
<text x="408.31" y="923.10" font-size="39.40" font-weight="normal" font-style="normal" fill="#000" textLength="79.39" lengthAdjust="spacingAndGlyphs" stroke="#000" stroke-width="0.70" stroke-linejoin="round" >2000</text>
<text x="490.61" y="923.10" font-size="39.40" font-weight="normal" font-style="normal" fill="#000" textLength="56.37" lengthAdjust="spacingAndGlyphs" stroke="#000" stroke-width="0.70" stroke-linejoin="round" >nm</text>
<text x="428.57" y="988.50" font-size="43.00" font-weight="normal" font-style="normal" fill="#000" textLength="85.16" lengthAdjust="spacingAndGlyphs" stroke="#000" stroke-width="0.70" stroke-linejoin="round" >[100]</text>
<text x="397.71" y="1067.00" font-size="40.50" font-weight="normal" font-style="normal" fill="#e2141c" textLength="149.05" lengthAdjust="spacingAndGlyphs" stroke="#e2141c" stroke-width="0.70" stroke-linejoin="round" >undoped</text>
<text x="406.59" y="1169.90" font-size="40.50" font-weight="normal" font-style="normal" fill="#3078bc" textLength="106.58" lengthAdjust="spacingAndGlyphs" stroke="#3078bc" stroke-width="0.70" stroke-linejoin="round" >doped</text>
<text transform="translate(72.80 0) rotate(-90)" x="-1191.42" y="0" font-size="43.50" font-weight="normal" font-style="normal" fill="#000" textLength="238.33" lengthAdjust="spacingAndGlyphs" stroke="#000" stroke-width="0.70" stroke-linejoin="round" >SA [arb. units]</text>
<text x="80.18" y="1243.80" font-size="39.00" font-weight="normal" font-style="normal" fill="#000" textLength="20.24" lengthAdjust="spacingAndGlyphs" stroke="#000" stroke-width="0.70" stroke-linejoin="round" >0</text>
<text x="230.61" y="1243.80" font-size="39.00" font-weight="normal" font-style="normal" fill="#000" textLength="78.46" lengthAdjust="spacingAndGlyphs" stroke="#000" stroke-width="0.70" stroke-linejoin="round" >1000</text>
<text x="407.61" y="1243.80" font-size="39.00" font-weight="normal" font-style="normal" fill="#000" textLength="79.39" lengthAdjust="spacingAndGlyphs" stroke="#000" stroke-width="0.70" stroke-linejoin="round" >2000</text>
<text x="302.16" y="1295.30" font-size="42.00" font-weight="normal" font-style="italic" fill="#000" textLength="19.50" lengthAdjust="spacingAndGlyphs" stroke="#000" stroke-width="0.70" stroke-linejoin="round" >x</text>
<text x="330.00" y="1295.30" font-size="42.00" font-weight="normal" font-style="normal" fill="#000" textLength="79.39" lengthAdjust="spacingAndGlyphs" stroke="#000" stroke-width="0.70" stroke-linejoin="round" >(nm)</text>
<text x="775.41" y="705.10" font-size="43.90" font-weight="normal" font-style="normal" fill="#000" textLength="99.93" lengthAdjust="spacingAndGlyphs" stroke="#000" stroke-width="0.70" stroke-linejoin="round" >1 μm</text>
<text transform="translate(743.60 0) rotate(90)" x="1085.16" y="0" font-size="34.50" font-weight="normal" font-style="normal" fill="#000" textLength="69.77" lengthAdjust="spacingAndGlyphs" stroke="#000" stroke-width="0.70" stroke-linejoin="round" >[001]</text>
<text x="747.73" y="1190.30" font-size="31.50" font-weight="normal" font-style="normal" fill="#000" textLength="70.95" lengthAdjust="spacingAndGlyphs" stroke="#000" stroke-width="0.70" stroke-linejoin="round" >[100]</text>
<text x="725.46" y="1288.00" font-size="41.50" font-weight="normal" font-style="normal" fill="#000" textLength="198.05" lengthAdjust="spacingAndGlyphs" stroke="#000" stroke-width="0.70" stroke-linejoin="round" >ω = 915 cm</text>
<text x="920.58" y="1271.00" font-size="26.00" font-weight="normal" font-style="normal" fill="#000" textLength="18.43" lengthAdjust="spacingAndGlyphs" stroke="#000" stroke-width="0.70" stroke-linejoin="round" >-1</text>
<text x="1280.59" y="631.80" font-size="43.00" font-weight="normal" font-style="normal" fill="#000" textLength="30.90" lengthAdjust="spacingAndGlyphs" stroke="#000" stroke-width="0.70" stroke-linejoin="round" >H</text>
<text x="1280.60" y="1237.80" font-size="43.20" font-weight="normal" font-style="normal" fill="#000" textLength="23.71" lengthAdjust="spacingAndGlyphs" stroke="#000" stroke-width="0.70" stroke-linejoin="round" >L</text>
<text transform="translate(1287.50 0) rotate(90)" x="812.69" y="0" font-size="43.00" font-weight="normal" font-style="normal" fill="#000" textLength="235.98" lengthAdjust="spacingAndGlyphs" stroke="#000" stroke-width="0.70" stroke-linejoin="round" >SA [arb. units]</text>
</svg></body></html>
